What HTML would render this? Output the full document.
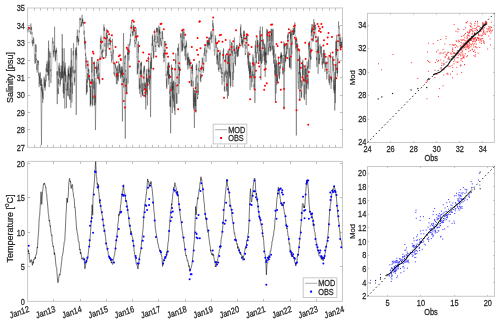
<!DOCTYPE html>
<html><head><meta charset="utf-8"><style>
html,body{margin:0;padding:0;background:#fff;}
svg{display:block;will-change:transform;font-family:"Liberation Sans",sans-serif;fill:#262626;}
text{stroke:#262626;stroke-width:0.25px;}
</style></head><body>
<svg width="500" height="324" viewBox="0 0 500 324">
<rect width="500" height="324" fill="#fff"/>
<rect x="27.60" y="8.00" width="314.90" height="139.40" fill="none" stroke="#c8c8c8" stroke-width="1"/>
<line x1="34.50" y1="147.40" x2="34.50" y2="144.80" stroke="#c0c0c0" stroke-width="1.0"/>
<line x1="34.50" y1="8.00" x2="34.50" y2="10.60" stroke="#c0c0c0" stroke-width="1.0"/>
<line x1="40.50" y1="147.40" x2="40.50" y2="144.80" stroke="#c0c0c0" stroke-width="1.0"/>
<line x1="40.50" y1="8.00" x2="40.50" y2="10.60" stroke="#c0c0c0" stroke-width="1.0"/>
<line x1="47.50" y1="147.40" x2="47.50" y2="144.80" stroke="#c0c0c0" stroke-width="1.0"/>
<line x1="47.50" y1="8.00" x2="47.50" y2="10.60" stroke="#c0c0c0" stroke-width="1.0"/>
<line x1="53.50" y1="147.40" x2="53.50" y2="144.80" stroke="#c0c0c0" stroke-width="1.0"/>
<line x1="53.50" y1="8.00" x2="53.50" y2="10.60" stroke="#c0c0c0" stroke-width="1.0"/>
<line x1="60.50" y1="147.40" x2="60.50" y2="144.80" stroke="#c0c0c0" stroke-width="1.0"/>
<line x1="60.50" y1="8.00" x2="60.50" y2="10.60" stroke="#c0c0c0" stroke-width="1.0"/>
<line x1="66.50" y1="147.40" x2="66.50" y2="144.80" stroke="#c0c0c0" stroke-width="1.0"/>
<line x1="66.50" y1="8.00" x2="66.50" y2="10.60" stroke="#c0c0c0" stroke-width="1.0"/>
<line x1="73.50" y1="147.40" x2="73.50" y2="144.80" stroke="#c0c0c0" stroke-width="1.0"/>
<line x1="73.50" y1="8.00" x2="73.50" y2="10.60" stroke="#c0c0c0" stroke-width="1.0"/>
<line x1="80.50" y1="147.40" x2="80.50" y2="144.80" stroke="#c0c0c0" stroke-width="1.0"/>
<line x1="80.50" y1="8.00" x2="80.50" y2="10.60" stroke="#c0c0c0" stroke-width="1.0"/>
<line x1="86.50" y1="147.40" x2="86.50" y2="144.80" stroke="#c0c0c0" stroke-width="1.0"/>
<line x1="86.50" y1="8.00" x2="86.50" y2="10.60" stroke="#c0c0c0" stroke-width="1.0"/>
<line x1="93.50" y1="147.40" x2="93.50" y2="144.80" stroke="#c0c0c0" stroke-width="1.0"/>
<line x1="93.50" y1="8.00" x2="93.50" y2="10.60" stroke="#c0c0c0" stroke-width="1.0"/>
<line x1="99.50" y1="147.40" x2="99.50" y2="144.80" stroke="#c0c0c0" stroke-width="1.0"/>
<line x1="99.50" y1="8.00" x2="99.50" y2="10.60" stroke="#c0c0c0" stroke-width="1.0"/>
<line x1="106.50" y1="147.40" x2="106.50" y2="144.80" stroke="#c0c0c0" stroke-width="1.0"/>
<line x1="106.50" y1="8.00" x2="106.50" y2="10.60" stroke="#c0c0c0" stroke-width="1.0"/>
<line x1="112.50" y1="147.40" x2="112.50" y2="144.80" stroke="#c0c0c0" stroke-width="1.0"/>
<line x1="112.50" y1="8.00" x2="112.50" y2="10.60" stroke="#c0c0c0" stroke-width="1.0"/>
<line x1="119.50" y1="147.40" x2="119.50" y2="144.80" stroke="#c0c0c0" stroke-width="1.0"/>
<line x1="119.50" y1="8.00" x2="119.50" y2="10.60" stroke="#c0c0c0" stroke-width="1.0"/>
<line x1="126.50" y1="147.40" x2="126.50" y2="144.80" stroke="#c0c0c0" stroke-width="1.0"/>
<line x1="126.50" y1="8.00" x2="126.50" y2="10.60" stroke="#c0c0c0" stroke-width="1.0"/>
<line x1="132.50" y1="147.40" x2="132.50" y2="144.80" stroke="#c0c0c0" stroke-width="1.0"/>
<line x1="132.50" y1="8.00" x2="132.50" y2="10.60" stroke="#c0c0c0" stroke-width="1.0"/>
<line x1="139.50" y1="147.40" x2="139.50" y2="144.80" stroke="#c0c0c0" stroke-width="1.0"/>
<line x1="139.50" y1="8.00" x2="139.50" y2="10.60" stroke="#c0c0c0" stroke-width="1.0"/>
<line x1="145.50" y1="147.40" x2="145.50" y2="144.80" stroke="#c0c0c0" stroke-width="1.0"/>
<line x1="145.50" y1="8.00" x2="145.50" y2="10.60" stroke="#c0c0c0" stroke-width="1.0"/>
<line x1="152.50" y1="147.40" x2="152.50" y2="144.80" stroke="#c0c0c0" stroke-width="1.0"/>
<line x1="152.50" y1="8.00" x2="152.50" y2="10.60" stroke="#c0c0c0" stroke-width="1.0"/>
<line x1="158.50" y1="147.40" x2="158.50" y2="144.80" stroke="#c0c0c0" stroke-width="1.0"/>
<line x1="158.50" y1="8.00" x2="158.50" y2="10.60" stroke="#c0c0c0" stroke-width="1.0"/>
<line x1="165.50" y1="147.40" x2="165.50" y2="144.80" stroke="#c0c0c0" stroke-width="1.0"/>
<line x1="165.50" y1="8.00" x2="165.50" y2="10.60" stroke="#c0c0c0" stroke-width="1.0"/>
<line x1="171.50" y1="147.40" x2="171.50" y2="144.80" stroke="#c0c0c0" stroke-width="1.0"/>
<line x1="171.50" y1="8.00" x2="171.50" y2="10.60" stroke="#c0c0c0" stroke-width="1.0"/>
<line x1="178.50" y1="147.40" x2="178.50" y2="144.80" stroke="#c0c0c0" stroke-width="1.0"/>
<line x1="178.50" y1="8.00" x2="178.50" y2="10.60" stroke="#c0c0c0" stroke-width="1.0"/>
<line x1="185.50" y1="147.40" x2="185.50" y2="144.80" stroke="#c0c0c0" stroke-width="1.0"/>
<line x1="185.50" y1="8.00" x2="185.50" y2="10.60" stroke="#c0c0c0" stroke-width="1.0"/>
<line x1="191.50" y1="147.40" x2="191.50" y2="144.80" stroke="#c0c0c0" stroke-width="1.0"/>
<line x1="191.50" y1="8.00" x2="191.50" y2="10.60" stroke="#c0c0c0" stroke-width="1.0"/>
<line x1="198.50" y1="147.40" x2="198.50" y2="144.80" stroke="#c0c0c0" stroke-width="1.0"/>
<line x1="198.50" y1="8.00" x2="198.50" y2="10.60" stroke="#c0c0c0" stroke-width="1.0"/>
<line x1="204.50" y1="147.40" x2="204.50" y2="144.80" stroke="#c0c0c0" stroke-width="1.0"/>
<line x1="204.50" y1="8.00" x2="204.50" y2="10.60" stroke="#c0c0c0" stroke-width="1.0"/>
<line x1="211.50" y1="147.40" x2="211.50" y2="144.80" stroke="#c0c0c0" stroke-width="1.0"/>
<line x1="211.50" y1="8.00" x2="211.50" y2="10.60" stroke="#c0c0c0" stroke-width="1.0"/>
<line x1="217.50" y1="147.40" x2="217.50" y2="144.80" stroke="#c0c0c0" stroke-width="1.0"/>
<line x1="217.50" y1="8.00" x2="217.50" y2="10.60" stroke="#c0c0c0" stroke-width="1.0"/>
<line x1="224.50" y1="147.40" x2="224.50" y2="144.80" stroke="#c0c0c0" stroke-width="1.0"/>
<line x1="224.50" y1="8.00" x2="224.50" y2="10.60" stroke="#c0c0c0" stroke-width="1.0"/>
<line x1="230.50" y1="147.40" x2="230.50" y2="144.80" stroke="#c0c0c0" stroke-width="1.0"/>
<line x1="230.50" y1="8.00" x2="230.50" y2="10.60" stroke="#c0c0c0" stroke-width="1.0"/>
<line x1="237.50" y1="147.40" x2="237.50" y2="144.80" stroke="#c0c0c0" stroke-width="1.0"/>
<line x1="237.50" y1="8.00" x2="237.50" y2="10.60" stroke="#c0c0c0" stroke-width="1.0"/>
<line x1="244.50" y1="147.40" x2="244.50" y2="144.80" stroke="#c0c0c0" stroke-width="1.0"/>
<line x1="244.50" y1="8.00" x2="244.50" y2="10.60" stroke="#c0c0c0" stroke-width="1.0"/>
<line x1="250.50" y1="147.40" x2="250.50" y2="144.80" stroke="#c0c0c0" stroke-width="1.0"/>
<line x1="250.50" y1="8.00" x2="250.50" y2="10.60" stroke="#c0c0c0" stroke-width="1.0"/>
<line x1="257.50" y1="147.40" x2="257.50" y2="144.80" stroke="#c0c0c0" stroke-width="1.0"/>
<line x1="257.50" y1="8.00" x2="257.50" y2="10.60" stroke="#c0c0c0" stroke-width="1.0"/>
<line x1="263.50" y1="147.40" x2="263.50" y2="144.80" stroke="#c0c0c0" stroke-width="1.0"/>
<line x1="263.50" y1="8.00" x2="263.50" y2="10.60" stroke="#c0c0c0" stroke-width="1.0"/>
<line x1="270.50" y1="147.40" x2="270.50" y2="144.80" stroke="#c0c0c0" stroke-width="1.0"/>
<line x1="270.50" y1="8.00" x2="270.50" y2="10.60" stroke="#c0c0c0" stroke-width="1.0"/>
<line x1="276.50" y1="147.40" x2="276.50" y2="144.80" stroke="#c0c0c0" stroke-width="1.0"/>
<line x1="276.50" y1="8.00" x2="276.50" y2="10.60" stroke="#c0c0c0" stroke-width="1.0"/>
<line x1="283.50" y1="147.40" x2="283.50" y2="144.80" stroke="#c0c0c0" stroke-width="1.0"/>
<line x1="283.50" y1="8.00" x2="283.50" y2="10.60" stroke="#c0c0c0" stroke-width="1.0"/>
<line x1="290.50" y1="147.40" x2="290.50" y2="144.80" stroke="#c0c0c0" stroke-width="1.0"/>
<line x1="290.50" y1="8.00" x2="290.50" y2="10.60" stroke="#c0c0c0" stroke-width="1.0"/>
<line x1="296.50" y1="147.40" x2="296.50" y2="144.80" stroke="#c0c0c0" stroke-width="1.0"/>
<line x1="296.50" y1="8.00" x2="296.50" y2="10.60" stroke="#c0c0c0" stroke-width="1.0"/>
<line x1="303.50" y1="147.40" x2="303.50" y2="144.80" stroke="#c0c0c0" stroke-width="1.0"/>
<line x1="303.50" y1="8.00" x2="303.50" y2="10.60" stroke="#c0c0c0" stroke-width="1.0"/>
<line x1="309.50" y1="147.40" x2="309.50" y2="144.80" stroke="#c0c0c0" stroke-width="1.0"/>
<line x1="309.50" y1="8.00" x2="309.50" y2="10.60" stroke="#c0c0c0" stroke-width="1.0"/>
<line x1="316.50" y1="147.40" x2="316.50" y2="144.80" stroke="#c0c0c0" stroke-width="1.0"/>
<line x1="316.50" y1="8.00" x2="316.50" y2="10.60" stroke="#c0c0c0" stroke-width="1.0"/>
<line x1="322.50" y1="147.40" x2="322.50" y2="144.80" stroke="#c0c0c0" stroke-width="1.0"/>
<line x1="322.50" y1="8.00" x2="322.50" y2="10.60" stroke="#c0c0c0" stroke-width="1.0"/>
<line x1="329.50" y1="147.40" x2="329.50" y2="144.80" stroke="#c0c0c0" stroke-width="1.0"/>
<line x1="329.50" y1="8.00" x2="329.50" y2="10.60" stroke="#c0c0c0" stroke-width="1.0"/>
<line x1="335.50" y1="147.40" x2="335.50" y2="144.80" stroke="#c0c0c0" stroke-width="1.0"/>
<line x1="335.50" y1="8.00" x2="335.50" y2="10.60" stroke="#c0c0c0" stroke-width="1.0"/>
<line x1="27.60" y1="129.50" x2="30.20" y2="129.50" stroke="#c0c0c0" stroke-width="1.0"/>
<line x1="342.50" y1="129.50" x2="339.90" y2="129.50" stroke="#c0c0c0" stroke-width="1.0"/>
<line x1="27.60" y1="112.50" x2="30.20" y2="112.50" stroke="#c0c0c0" stroke-width="1.0"/>
<line x1="342.50" y1="112.50" x2="339.90" y2="112.50" stroke="#c0c0c0" stroke-width="1.0"/>
<line x1="27.60" y1="95.50" x2="30.20" y2="95.50" stroke="#c0c0c0" stroke-width="1.0"/>
<line x1="342.50" y1="95.50" x2="339.90" y2="95.50" stroke="#c0c0c0" stroke-width="1.0"/>
<line x1="27.60" y1="77.50" x2="30.20" y2="77.50" stroke="#c0c0c0" stroke-width="1.0"/>
<line x1="342.50" y1="77.50" x2="339.90" y2="77.50" stroke="#c0c0c0" stroke-width="1.0"/>
<line x1="27.60" y1="60.50" x2="30.20" y2="60.50" stroke="#c0c0c0" stroke-width="1.0"/>
<line x1="342.50" y1="60.50" x2="339.90" y2="60.50" stroke="#c0c0c0" stroke-width="1.0"/>
<line x1="27.60" y1="42.50" x2="30.20" y2="42.50" stroke="#c0c0c0" stroke-width="1.0"/>
<line x1="342.50" y1="42.50" x2="339.90" y2="42.50" stroke="#c0c0c0" stroke-width="1.0"/>
<line x1="27.60" y1="25.50" x2="30.20" y2="25.50" stroke="#c0c0c0" stroke-width="1.0"/>
<line x1="342.50" y1="25.50" x2="339.90" y2="25.50" stroke="#c0c0c0" stroke-width="1.0"/>
<text transform="translate(24.90,147.90) scale(0.82,1)" text-anchor="end" dominant-baseline="central" font-size="9.0">27</text>
<text transform="translate(24.90,130.47) scale(0.82,1)" text-anchor="end" dominant-baseline="central" font-size="9.0">28</text>
<text transform="translate(24.90,113.05) scale(0.82,1)" text-anchor="end" dominant-baseline="central" font-size="9.0">29</text>
<text transform="translate(24.90,95.62) scale(0.82,1)" text-anchor="end" dominant-baseline="central" font-size="9.0">30</text>
<text transform="translate(24.90,78.20) scale(0.82,1)" text-anchor="end" dominant-baseline="central" font-size="9.0">31</text>
<text transform="translate(24.90,60.78) scale(0.82,1)" text-anchor="end" dominant-baseline="central" font-size="9.0">32</text>
<text transform="translate(24.90,43.35) scale(0.82,1)" text-anchor="end" dominant-baseline="central" font-size="9.0">33</text>
<text transform="translate(24.90,25.92) scale(0.82,1)" text-anchor="end" dominant-baseline="central" font-size="9.0">34</text>
<text transform="translate(24.90,8.50) scale(0.82,1)" text-anchor="end" dominant-baseline="central" font-size="9.0">35</text>
<text transform="translate(10.20,77.60) scale(1.0,1) rotate(-90)" text-anchor="middle" dominant-baseline="central" font-size="9.0">Salinity [psu]</text>
<rect x="27.60" y="161.40" width="314.90" height="140.00" fill="none" stroke="#c8c8c8" stroke-width="1"/>
<line x1="53.50" y1="301.40" x2="53.50" y2="298.80" stroke="#c0c0c0" stroke-width="1.0"/>
<line x1="53.50" y1="161.40" x2="53.50" y2="164.00" stroke="#c0c0c0" stroke-width="1.0"/>
<line x1="80.50" y1="301.40" x2="80.50" y2="298.80" stroke="#c0c0c0" stroke-width="1.0"/>
<line x1="80.50" y1="161.40" x2="80.50" y2="164.00" stroke="#c0c0c0" stroke-width="1.0"/>
<line x1="106.50" y1="301.40" x2="106.50" y2="298.80" stroke="#c0c0c0" stroke-width="1.0"/>
<line x1="106.50" y1="161.40" x2="106.50" y2="164.00" stroke="#c0c0c0" stroke-width="1.0"/>
<line x1="132.50" y1="301.40" x2="132.50" y2="298.80" stroke="#c0c0c0" stroke-width="1.0"/>
<line x1="132.50" y1="161.40" x2="132.50" y2="164.00" stroke="#c0c0c0" stroke-width="1.0"/>
<line x1="158.50" y1="301.40" x2="158.50" y2="298.80" stroke="#c0c0c0" stroke-width="1.0"/>
<line x1="158.50" y1="161.40" x2="158.50" y2="164.00" stroke="#c0c0c0" stroke-width="1.0"/>
<line x1="185.50" y1="301.40" x2="185.50" y2="298.80" stroke="#c0c0c0" stroke-width="1.0"/>
<line x1="185.50" y1="161.40" x2="185.50" y2="164.00" stroke="#c0c0c0" stroke-width="1.0"/>
<line x1="211.50" y1="301.40" x2="211.50" y2="298.80" stroke="#c0c0c0" stroke-width="1.0"/>
<line x1="211.50" y1="161.40" x2="211.50" y2="164.00" stroke="#c0c0c0" stroke-width="1.0"/>
<line x1="237.50" y1="301.40" x2="237.50" y2="298.80" stroke="#c0c0c0" stroke-width="1.0"/>
<line x1="237.50" y1="161.40" x2="237.50" y2="164.00" stroke="#c0c0c0" stroke-width="1.0"/>
<line x1="263.50" y1="301.40" x2="263.50" y2="298.80" stroke="#c0c0c0" stroke-width="1.0"/>
<line x1="263.50" y1="161.40" x2="263.50" y2="164.00" stroke="#c0c0c0" stroke-width="1.0"/>
<line x1="290.50" y1="301.40" x2="290.50" y2="298.80" stroke="#c0c0c0" stroke-width="1.0"/>
<line x1="290.50" y1="161.40" x2="290.50" y2="164.00" stroke="#c0c0c0" stroke-width="1.0"/>
<line x1="316.50" y1="301.40" x2="316.50" y2="298.80" stroke="#c0c0c0" stroke-width="1.0"/>
<line x1="316.50" y1="161.40" x2="316.50" y2="164.00" stroke="#c0c0c0" stroke-width="1.0"/>
<line x1="27.60" y1="266.50" x2="30.20" y2="266.50" stroke="#c0c0c0" stroke-width="1.0"/>
<line x1="342.50" y1="266.50" x2="339.90" y2="266.50" stroke="#c0c0c0" stroke-width="1.0"/>
<line x1="27.60" y1="232.50" x2="30.20" y2="232.50" stroke="#c0c0c0" stroke-width="1.0"/>
<line x1="342.50" y1="232.50" x2="339.90" y2="232.50" stroke="#c0c0c0" stroke-width="1.0"/>
<line x1="27.60" y1="197.50" x2="30.20" y2="197.50" stroke="#c0c0c0" stroke-width="1.0"/>
<line x1="342.50" y1="197.50" x2="339.90" y2="197.50" stroke="#c0c0c0" stroke-width="1.0"/>
<line x1="27.60" y1="163.50" x2="30.20" y2="163.50" stroke="#c0c0c0" stroke-width="1.0"/>
<line x1="342.50" y1="163.50" x2="339.90" y2="163.50" stroke="#c0c0c0" stroke-width="1.0"/>
<text transform="translate(24.90,301.90) scale(0.82,1)" text-anchor="end" dominant-baseline="central" font-size="9.0">0</text>
<text transform="translate(24.90,267.40) scale(0.82,1)" text-anchor="end" dominant-baseline="central" font-size="9.0">5</text>
<text transform="translate(24.90,232.90) scale(0.82,1)" text-anchor="end" dominant-baseline="central" font-size="9.0">10</text>
<text transform="translate(24.90,198.40) scale(0.82,1)" text-anchor="end" dominant-baseline="central" font-size="9.0">15</text>
<text transform="translate(24.90,163.90) scale(0.82,1)" text-anchor="end" dominant-baseline="central" font-size="9.0">20</text>
<text transform="translate(9.80,228.50) scale(1.0,1) rotate(-90)" text-anchor="middle" dominant-baseline="central" font-size="9.0">Temperature [<tspan font-size="6.3" dy="-3.6">o</tspan><tspan dy="3.6">C]</tspan></text>
<text transform="translate(29.10,309.00) scale(0.82,1) rotate(-16.5)" text-anchor="end" dominant-baseline="central" font-size="9.0" dominant-baseline="hanging">Jan12</text>
<text transform="translate(55.34,309.00) scale(0.82,1) rotate(-16.5)" text-anchor="end" dominant-baseline="central" font-size="9.0" dominant-baseline="hanging">Jan13</text>
<text transform="translate(81.58,309.00) scale(0.82,1) rotate(-16.5)" text-anchor="end" dominant-baseline="central" font-size="9.0" dominant-baseline="hanging">Jan14</text>
<text transform="translate(107.82,309.00) scale(0.82,1) rotate(-16.5)" text-anchor="end" dominant-baseline="central" font-size="9.0" dominant-baseline="hanging">Jan15</text>
<text transform="translate(134.07,309.00) scale(0.82,1) rotate(-16.5)" text-anchor="end" dominant-baseline="central" font-size="9.0" dominant-baseline="hanging">Jan16</text>
<text transform="translate(160.31,309.00) scale(0.82,1) rotate(-16.5)" text-anchor="end" dominant-baseline="central" font-size="9.0" dominant-baseline="hanging">Jan17</text>
<text transform="translate(186.55,309.00) scale(0.82,1) rotate(-16.5)" text-anchor="end" dominant-baseline="central" font-size="9.0" dominant-baseline="hanging">Jan18</text>
<text transform="translate(212.79,309.00) scale(0.82,1) rotate(-16.5)" text-anchor="end" dominant-baseline="central" font-size="9.0" dominant-baseline="hanging">Jan19</text>
<text transform="translate(239.03,309.00) scale(0.82,1) rotate(-16.5)" text-anchor="end" dominant-baseline="central" font-size="9.0" dominant-baseline="hanging">Jan20</text>
<text transform="translate(265.27,309.00) scale(0.82,1) rotate(-16.5)" text-anchor="end" dominant-baseline="central" font-size="9.0" dominant-baseline="hanging">Jan21</text>
<text transform="translate(291.52,309.00) scale(0.82,1) rotate(-16.5)" text-anchor="end" dominant-baseline="central" font-size="9.0" dominant-baseline="hanging">Jan22</text>
<text transform="translate(317.76,309.00) scale(0.82,1) rotate(-16.5)" text-anchor="end" dominant-baseline="central" font-size="9.0" dominant-baseline="hanging">Jan23</text>
<text transform="translate(344.00,309.00) scale(0.82,1) rotate(-16.5)" text-anchor="end" dominant-baseline="central" font-size="9.0" dominant-baseline="hanging">Jan24</text>
<rect x="367.50" y="13.30" width="126.90" height="129.20" fill="none" stroke="#c8c8c8" stroke-width="1"/>
<line x1="390.50" y1="142.50" x2="390.50" y2="141.10" stroke="#c0c0c0" stroke-width="1.0"/>
<line x1="390.50" y1="13.30" x2="390.50" y2="14.70" stroke="#c0c0c0" stroke-width="1.0"/>
<line x1="413.50" y1="142.50" x2="413.50" y2="141.10" stroke="#c0c0c0" stroke-width="1.0"/>
<line x1="413.50" y1="13.30" x2="413.50" y2="14.70" stroke="#c0c0c0" stroke-width="1.0"/>
<line x1="436.50" y1="142.50" x2="436.50" y2="141.10" stroke="#c0c0c0" stroke-width="1.0"/>
<line x1="436.50" y1="13.30" x2="436.50" y2="14.70" stroke="#c0c0c0" stroke-width="1.0"/>
<line x1="459.50" y1="142.50" x2="459.50" y2="141.10" stroke="#c0c0c0" stroke-width="1.0"/>
<line x1="459.50" y1="13.30" x2="459.50" y2="14.70" stroke="#c0c0c0" stroke-width="1.0"/>
<line x1="482.50" y1="142.50" x2="482.50" y2="141.10" stroke="#c0c0c0" stroke-width="1.0"/>
<line x1="482.50" y1="13.30" x2="482.50" y2="14.70" stroke="#c0c0c0" stroke-width="1.0"/>
<line x1="367.50" y1="119.50" x2="368.90" y2="119.50" stroke="#c0c0c0" stroke-width="1.0"/>
<line x1="494.40" y1="119.50" x2="493.00" y2="119.50" stroke="#c0c0c0" stroke-width="1.0"/>
<line x1="367.50" y1="95.50" x2="368.90" y2="95.50" stroke="#c0c0c0" stroke-width="1.0"/>
<line x1="494.40" y1="95.50" x2="493.00" y2="95.50" stroke="#c0c0c0" stroke-width="1.0"/>
<line x1="367.50" y1="72.50" x2="368.90" y2="72.50" stroke="#c0c0c0" stroke-width="1.0"/>
<line x1="494.40" y1="72.50" x2="493.00" y2="72.50" stroke="#c0c0c0" stroke-width="1.0"/>
<line x1="367.50" y1="48.50" x2="368.90" y2="48.50" stroke="#c0c0c0" stroke-width="1.0"/>
<line x1="494.40" y1="48.50" x2="493.00" y2="48.50" stroke="#c0c0c0" stroke-width="1.0"/>
<line x1="367.50" y1="25.50" x2="368.90" y2="25.50" stroke="#c0c0c0" stroke-width="1.0"/>
<line x1="494.40" y1="25.50" x2="493.00" y2="25.50" stroke="#c0c0c0" stroke-width="1.0"/>
<text transform="translate(367.50,149.40) scale(0.82,1)" text-anchor="middle" dominant-baseline="central" font-size="9.0">24</text>
<text transform="translate(366.40,142.70) scale(0.82,1)" text-anchor="end" dominant-baseline="central" font-size="9.0">24</text>
<text transform="translate(390.57,149.40) scale(0.82,1)" text-anchor="middle" dominant-baseline="central" font-size="9.0">26</text>
<text transform="translate(366.40,119.21) scale(0.82,1)" text-anchor="end" dominant-baseline="central" font-size="9.0">26</text>
<text transform="translate(413.65,149.40) scale(0.82,1)" text-anchor="middle" dominant-baseline="central" font-size="9.0">28</text>
<text transform="translate(366.40,95.72) scale(0.82,1)" text-anchor="end" dominant-baseline="central" font-size="9.0">28</text>
<text transform="translate(436.72,149.40) scale(0.82,1)" text-anchor="middle" dominant-baseline="central" font-size="9.0">30</text>
<text transform="translate(366.40,72.23) scale(0.82,1)" text-anchor="end" dominant-baseline="central" font-size="9.0">30</text>
<text transform="translate(459.79,149.40) scale(0.82,1)" text-anchor="middle" dominant-baseline="central" font-size="9.0">32</text>
<text transform="translate(366.40,48.74) scale(0.82,1)" text-anchor="end" dominant-baseline="central" font-size="9.0">32</text>
<text transform="translate(482.86,149.40) scale(0.82,1)" text-anchor="middle" dominant-baseline="central" font-size="9.0">34</text>
<text transform="translate(366.40,25.25) scale(0.82,1)" text-anchor="end" dominant-baseline="central" font-size="9.0">34</text>
<text transform="translate(431.20,158.10) scale(0.82,1)" text-anchor="middle" dominant-baseline="central" font-size="9.0">Obs</text>
<text transform="translate(352.30,77.70) scale(0.85,0.84) rotate(-90)" text-anchor="middle" dominant-baseline="central" font-size="9.0">Mod</text>
<line x1="367.5" y1="142.5" x2="494.4" y2="13.3" stroke="#000" stroke-width="0.9" stroke-dasharray="1.4,2.6"/>
<rect x="367.50" y="166.50" width="127.00" height="129.80" fill="none" stroke="#c8c8c8" stroke-width="1"/>
<line x1="387.50" y1="296.30" x2="387.50" y2="294.90" stroke="#c0c0c0" stroke-width="1.0"/>
<line x1="387.50" y1="166.50" x2="387.50" y2="167.90" stroke="#c0c0c0" stroke-width="1.0"/>
<line x1="420.50" y1="296.30" x2="420.50" y2="294.90" stroke="#c0c0c0" stroke-width="1.0"/>
<line x1="420.50" y1="166.50" x2="420.50" y2="167.90" stroke="#c0c0c0" stroke-width="1.0"/>
<line x1="454.50" y1="296.30" x2="454.50" y2="294.90" stroke="#c0c0c0" stroke-width="1.0"/>
<line x1="454.50" y1="166.50" x2="454.50" y2="167.90" stroke="#c0c0c0" stroke-width="1.0"/>
<line x1="487.50" y1="296.30" x2="487.50" y2="294.90" stroke="#c0c0c0" stroke-width="1.0"/>
<line x1="487.50" y1="166.50" x2="487.50" y2="167.90" stroke="#c0c0c0" stroke-width="1.0"/>
<line x1="367.50" y1="282.50" x2="368.90" y2="282.50" stroke="#c0c0c0" stroke-width="1.0"/>
<line x1="494.50" y1="282.50" x2="493.10" y2="282.50" stroke="#c0c0c0" stroke-width="1.0"/>
<line x1="367.50" y1="268.50" x2="368.90" y2="268.50" stroke="#c0c0c0" stroke-width="1.0"/>
<line x1="494.50" y1="268.50" x2="493.10" y2="268.50" stroke="#c0c0c0" stroke-width="1.0"/>
<line x1="367.50" y1="255.50" x2="368.90" y2="255.50" stroke="#c0c0c0" stroke-width="1.0"/>
<line x1="494.50" y1="255.50" x2="493.10" y2="255.50" stroke="#c0c0c0" stroke-width="1.0"/>
<line x1="367.50" y1="241.50" x2="368.90" y2="241.50" stroke="#c0c0c0" stroke-width="1.0"/>
<line x1="494.50" y1="241.50" x2="493.10" y2="241.50" stroke="#c0c0c0" stroke-width="1.0"/>
<line x1="367.50" y1="227.50" x2="368.90" y2="227.50" stroke="#c0c0c0" stroke-width="1.0"/>
<line x1="494.50" y1="227.50" x2="493.10" y2="227.50" stroke="#c0c0c0" stroke-width="1.0"/>
<line x1="367.50" y1="214.50" x2="368.90" y2="214.50" stroke="#c0c0c0" stroke-width="1.0"/>
<line x1="494.50" y1="214.50" x2="493.10" y2="214.50" stroke="#c0c0c0" stroke-width="1.0"/>
<line x1="367.50" y1="200.50" x2="368.90" y2="200.50" stroke="#c0c0c0" stroke-width="1.0"/>
<line x1="494.50" y1="200.50" x2="493.10" y2="200.50" stroke="#c0c0c0" stroke-width="1.0"/>
<line x1="367.50" y1="186.50" x2="368.90" y2="186.50" stroke="#c0c0c0" stroke-width="1.0"/>
<line x1="494.50" y1="186.50" x2="493.10" y2="186.50" stroke="#c0c0c0" stroke-width="1.0"/>
<line x1="367.50" y1="173.50" x2="368.90" y2="173.50" stroke="#c0c0c0" stroke-width="1.0"/>
<line x1="494.50" y1="173.50" x2="493.10" y2="173.50" stroke="#c0c0c0" stroke-width="1.0"/>
<text transform="translate(387.55,303.40) scale(0.82,1)" text-anchor="middle" dominant-baseline="central" font-size="9.0">5</text>
<text transform="translate(420.97,303.40) scale(0.82,1)" text-anchor="middle" dominant-baseline="central" font-size="9.0">10</text>
<text transform="translate(454.39,303.40) scale(0.82,1)" text-anchor="middle" dominant-baseline="central" font-size="9.0">15</text>
<text transform="translate(487.82,303.40) scale(0.82,1)" text-anchor="middle" dominant-baseline="central" font-size="9.0">20</text>
<text transform="translate(366.30,296.70) scale(0.82,1)" text-anchor="end" dominant-baseline="central" font-size="9.0">2</text>
<text transform="translate(366.30,283.04) scale(0.82,1)" text-anchor="end" dominant-baseline="central" font-size="9.0">4</text>
<text transform="translate(366.30,269.37) scale(0.82,1)" text-anchor="end" dominant-baseline="central" font-size="9.0">6</text>
<text transform="translate(366.30,255.71) scale(0.82,1)" text-anchor="end" dominant-baseline="central" font-size="9.0">8</text>
<text transform="translate(366.30,242.05) scale(0.82,1)" text-anchor="end" dominant-baseline="central" font-size="9.0">10</text>
<text transform="translate(366.30,228.38) scale(0.82,1)" text-anchor="end" dominant-baseline="central" font-size="9.0">12</text>
<text transform="translate(366.30,214.72) scale(0.82,1)" text-anchor="end" dominant-baseline="central" font-size="9.0">14</text>
<text transform="translate(366.30,201.06) scale(0.82,1)" text-anchor="end" dominant-baseline="central" font-size="9.0">16</text>
<text transform="translate(366.30,187.39) scale(0.82,1)" text-anchor="end" dominant-baseline="central" font-size="9.0">18</text>
<text transform="translate(366.30,173.73) scale(0.82,1)" text-anchor="end" dominant-baseline="central" font-size="9.0">20</text>
<text transform="translate(431.00,311.80) scale(0.82,1)" text-anchor="middle" dominant-baseline="central" font-size="9.0">Obs</text>
<text transform="translate(352.40,231.50) scale(0.85,0.84) rotate(-90)" text-anchor="middle" dominant-baseline="central" font-size="9.0">Mod</text>
<line x1="367.5" y1="296.3" x2="494.5" y2="166.5" stroke="#000" stroke-width="0.9" stroke-dasharray="1.4,2.6"/>
<clipPath id="c1"><rect x="27.60" y="8.00" width="314.90" height="139.40"/></clipPath>
<g clip-path="url(#c1)">
<path d="M27.60,31.24 L27.72,28.81 L27.84,29.78 L27.96,32.28 L28.08,28.78 L28.20,29.47 L28.32,29.57 L28.44,29.44 L28.56,28.38 L28.68,27.16 L28.80,28.30 L28.92,27.76 L29.04,27.01 L29.16,27.34 L29.28,27.14 L29.40,28.84 L29.52,27.52 L29.64,29.89 L29.76,30.08 L29.88,32.04 L30.00,31.50 L30.12,31.36 L30.24,31.83 L30.36,33.15 L30.48,33.14 L30.60,32.69 L30.72,34.31 L30.84,23.45 L30.96,29.83 L31.08,27.84 L31.20,29.80 L31.32,27.11 L31.44,26.90 L31.56,26.67 L31.68,31.29 L31.80,31.49 L31.92,34.32 L32.04,32.33 L32.16,43.24 L32.28,41.85 L32.40,39.99 L32.52,45.79 L32.64,45.83 L32.76,46.18 L32.88,42.23 L33.00,43.62 L33.12,42.48 L33.24,37.96 L33.36,37.19 L33.48,38.74 L33.60,43.49 L33.72,38.65 L33.84,40.37 L33.96,44.86 L34.08,46.16 L34.20,46.95 L34.32,50.64 L34.44,56.94 L34.56,58.33 L34.68,58.49 L34.80,59.14 L34.92,62.48 L35.04,63.98 L35.16,56.09 L35.28,53.88 L35.40,62.78 L35.52,52.01 L35.64,44.09 L35.76,46.26 L35.88,51.96 L36.00,44.84 L36.12,45.05 L36.24,52.00 L36.36,57.61 L36.48,60.01 L36.60,58.79 L36.72,63.38 L36.84,70.01 L36.96,64.41 L37.08,67.69 L37.20,72.57 L37.32,66.06 L37.44,60.30 L37.56,61.35 L37.68,61.47 L37.80,62.77 L37.92,60.43 L38.04,60.99 L38.16,65.04 L38.28,63.20 L38.40,60.84 L38.52,68.22 L38.64,75.74 L38.76,72.55 L38.88,73.79 L39.00,77.62 L39.12,87.11 L39.24,81.12 L39.36,75.67 L39.48,77.12 L39.60,84.28 L39.72,80.62 L39.84,73.25 L39.96,79.39 L40.08,78.00 L40.20,75.92 L40.32,72.37 L40.44,85.90 L40.56,80.41 L40.68,79.87 L40.80,80.66 L40.92,86.03 L41.04,79.66 L41.16,77.93 L41.28,83.14 L41.40,90.24 L41.52,85.20 L41.64,79.14 L41.76,87.01 L41.88,92.40 L42.00,86.03 L42.12,84.36 L42.24,90.20 L42.36,96.71 L42.48,92.76 L42.60,88.87 L42.72,102.76 L42.84,97.34 L42.96,91.85 L43.08,96.39 L43.20,99.13 L43.32,93.23 L43.44,88.67 L43.56,88.66 L43.68,88.44 L43.80,86.67 L43.92,82.52 L44.04,76.63 L44.16,85.76 L44.28,84.24 L44.40,79.85 L44.52,78.65 L44.64,88.02 L44.76,82.48 L44.88,83.83 L45.00,88.45 L45.12,90.66 L45.24,83.27 L45.36,80.15 L45.48,86.94 L45.60,81.84 L45.72,78.37 L45.84,74.28 L45.96,74.82 L46.08,81.59 L46.20,67.82 L46.32,72.33 L46.44,64.84 L46.56,63.66 L46.68,67.75 L46.80,67.68 L46.92,70.91 L47.04,71.37 L47.16,60.82 L47.28,67.51 L47.40,71.87 L47.52,71.56 L47.64,69.63 L47.76,69.97 L47.88,75.87 L48.00,67.50 L48.12,63.56 L48.24,70.81 L48.36,74.16 L48.48,74.88 L48.60,48.20 L48.72,80.32 L48.84,71.92 L48.96,72.18 L49.08,60.96 L49.20,87.07 L49.32,67.76 L49.44,58.43 L49.56,55.77 L49.68,54.77 L49.80,51.06 L49.92,57.38 L50.04,52.83 L50.16,54.34 L50.28,56.44 L50.40,56.10 L50.52,71.31 L50.64,69.17 L50.76,78.79 L50.88,83.12 L51.00,78.85 L51.12,78.19 L51.24,75.58 L51.36,76.08 L51.48,70.93 L51.60,70.15 L51.72,66.63 L51.84,59.56 L51.96,56.97 L52.08,48.87 L52.20,44.19 L52.32,41.90 L52.44,38.99 L52.56,38.17 L52.68,37.51 L52.80,41.77 L52.92,42.35 L53.04,43.87 L53.16,41.08 L53.28,46.08 L53.40,53.26 L53.52,54.66 L53.64,50.40 L53.76,57.56 L53.88,55.30 L54.00,55.66 L54.12,47.41 L54.24,45.45 L54.36,52.23 L54.48,42.00 L54.60,26.75 L54.72,41.89 L54.84,48.84 L54.96,49.19 L55.08,49.85 L55.20,57.09 L55.32,61.58 L55.44,54.71 L55.56,51.05 L55.68,60.00 L55.80,59.76 L55.92,49.98 L56.04,52.61 L56.16,53.74 L56.28,49.80 L56.40,47.70 L56.52,52.18 L56.64,50.30 L56.76,55.35 L56.88,55.11 L57.00,58.15 L57.12,64.79 L57.24,75.52 L57.36,71.14 L57.48,83.48 L57.60,88.41 L57.72,91.99 L57.84,92.03 L57.96,93.88 L58.08,88.20 L58.20,89.79 L58.32,94.09 L58.44,78.81 L58.56,84.22 L58.68,67.28 L58.80,65.52 L58.92,73.48 L59.04,75.42 L59.16,70.13 L59.28,62.93 L59.40,68.32 L59.52,77.49 L59.64,68.05 L59.76,74.30 L59.88,78.28 L60.00,86.59 L60.12,80.07 L60.24,80.73 L60.36,84.51 L60.48,81.10 L60.60,71.97 L60.72,76.19 L60.84,80.44 L60.96,75.99 L61.08,65.47 L61.20,79.60 L61.32,78.59 L61.44,77.93 L61.56,72.82 L61.68,69.96 L61.80,71.28 L61.92,77.99 L62.04,65.69 L62.16,76.56 L62.28,78.03 L62.40,70.58 L62.52,61.04 L62.64,48.20 L62.76,78.32 L62.88,72.20 L63.00,61.17 L63.12,92.62 L63.24,91.57 L63.36,71.59 L63.48,81.79 L63.60,98.07 L63.72,98.26 L63.84,83.27 L63.96,94.02 L64.08,92.22 L64.20,48.39 L64.32,64.01 L64.44,74.82 L64.56,70.92 L64.68,68.64 L64.80,108.67 L64.92,66.42 L65.04,76.20 L65.16,63.06 L65.28,62.79 L65.40,73.48 L65.52,82.01 L65.64,71.67 L65.76,78.54 L65.88,88.66 L66.00,90.00 L66.12,89.03 L66.24,89.63 L66.36,93.69 L66.48,108.07 L66.60,85.29 L66.72,85.22 L66.84,84.01 L66.96,75.19 L67.08,76.24 L67.20,79.04 L67.32,90.53 L67.44,85.51 L67.56,83.46 L67.68,82.67 L67.80,95.59 L67.92,81.72 L68.04,67.94 L68.16,82.98 L68.28,96.48 L68.40,69.88 L68.52,76.08 L68.64,73.17 L68.76,76.38 L68.88,68.08 L69.00,65.58 L69.12,69.64 L69.24,79.42 L69.36,73.79 L69.48,78.56 L69.60,83.61 L69.72,99.59 L69.84,93.61 L69.96,99.64 L70.08,88.36 L70.20,92.95 L70.32,67.51 L70.44,80.90 L70.56,87.50 L70.68,67.96 L70.80,107.83 L70.92,66.93 L71.04,77.40 L71.16,62.86 L71.28,61.07 L71.40,60.22 L71.52,83.11 L71.64,85.02 L71.76,84.70 L71.88,102.50 L72.00,98.48 L72.12,82.44 L72.24,92.78 L72.36,92.74 L72.48,93.66 L72.60,77.25 L72.72,66.27 L72.84,72.65 L72.96,63.52 L73.08,57.56 L73.20,51.07 L73.32,55.41 L73.44,44.92 L73.56,43.04 L73.68,46.52 L73.80,60.40 L73.92,73.73 L74.04,70.36 L74.16,75.47 L74.28,85.43 L74.40,79.87 L74.52,77.41 L74.64,82.10 L74.76,81.20 L74.88,72.76 L75.00,69.87 L75.12,70.76 L75.24,72.97 L75.36,60.55 L75.48,49.89 L75.60,53.47 L75.72,55.04 L75.84,47.65 L75.96,52.75 L76.08,59.69 L76.20,59.15 L76.32,49.68 L76.44,47.45 L76.56,55.39 L76.68,48.39 L76.80,42.39 L76.92,35.93 L77.04,42.04 L77.16,42.73 L77.28,30.70 L77.40,29.60 L77.52,37.00 L77.64,39.17 L77.76,36.02 L77.88,36.53 L78.00,41.47 L78.12,40.91 L78.24,38.18 L78.36,45.44 L78.48,43.36 L78.60,40.37 L78.72,39.49 L78.84,41.60 L78.96,38.58 L79.08,30.88 L79.20,30.57 L79.32,32.52 L79.44,25.51 L79.56,19.21 L79.68,19.14 L79.80,19.79 L79.92,17.59 L80.04,18.21 L80.16,18.12 L80.28,19.94 L80.40,20.09 L80.52,18.47 L80.64,22.16 L80.76,26.75 L80.88,27.15 L81.00,24.47 L81.12,25.64 L81.24,25.64 L81.36,25.09 L81.48,22.00 L81.60,24.50 L81.72,26.37 L81.84,22.60 L81.96,20.45 L82.08,14.73 L82.20,22.66 L82.32,20.66 L82.44,19.05 L82.56,21.61 L82.68,23.35 L82.80,18.62 L82.92,20.15 L83.04,21.57 L83.16,24.42 L83.28,22.01 L83.40,22.96 L83.52,25.28 L83.64,25.68 L83.76,25.49 L83.88,25.94 L84.00,33.35 L84.12,34.80 L84.24,30.53 L84.36,39.60 L84.48,44.19 L84.60,36.77 L84.72,37.85 L84.84,44.97 L84.96,49.21 L85.08,48.33 L85.20,40.83 L85.32,50.86 L85.44,56.02 L85.56,53.28 L85.68,53.31 L85.80,61.29 L85.92,68.49 L86.04,56.72 L86.16,70.41 L86.28,77.92 L86.40,94.90 L86.52,79.34 L86.64,79.38 L86.76,87.87 L86.88,93.11 L87.00,84.97 L87.12,91.82 L87.24,89.18 L87.36,80.87 L87.48,73.12 L87.60,83.06 L87.72,78.72 L87.84,68.74 L87.96,60.53 L88.08,64.30 L88.20,71.72 L88.32,68.51 L88.44,69.30 L88.56,78.13 L88.68,79.66 L88.80,70.48 L88.92,69.33 L89.04,72.29 L89.16,80.22 L89.28,78.92 L89.40,75.33 L89.52,87.41 L89.64,78.94 L89.76,81.12 L89.88,80.73 L90.00,89.54 L90.12,90.56 L90.24,106.51 L90.36,86.09 L90.48,94.73 L90.60,105.03 L90.72,88.71 L90.84,92.27 L90.96,104.20 L91.08,85.70 L91.20,87.58 L91.32,79.30 L91.44,82.75 L91.56,65.84 L91.68,65.48 L91.80,56.84 L91.92,72.54 L92.04,57.09 L92.16,61.18 L92.28,68.30 L92.40,106.51 L92.52,78.96 L92.64,86.44 L92.76,99.66 L92.88,105.02 L93.00,100.40 L93.12,95.68 L93.24,99.05 L93.36,92.63 L93.48,88.47 L93.60,80.60 L93.72,88.91 L93.84,73.64 L93.96,62.02 L94.08,66.51 L94.20,76.62 L94.32,61.31 L94.44,63.70 L94.56,105.76 L94.68,85.19 L94.80,77.90 L94.92,80.91 L95.04,99.57 L95.16,104.97 L95.28,100.68 L95.40,96.13 L95.52,103.07 L95.64,102.97 L95.76,93.02 L95.88,88.57 L96.00,85.99 L96.12,83.77 L96.24,71.24 L96.36,66.62 L96.48,73.68 L96.60,72.25 L96.72,61.50 L96.84,64.61 L96.96,68.86 L97.08,72.58 L97.20,66.52 L97.32,70.98 L97.44,75.67 L97.56,76.70 L97.68,78.79 L97.80,74.63 L97.92,76.74 L98.04,70.60 L98.16,60.73 L98.28,69.56 L98.40,69.98 L98.52,63.74 L98.64,66.48 L98.76,76.79 L98.88,80.48 L99.00,72.77 L99.12,79.45 L99.24,84.10 L99.36,84.38 L99.48,79.45 L99.60,79.15 L99.72,83.41 L99.84,78.12 L99.96,56.73 L100.08,56.76 L100.20,59.31 L100.32,44.27 L100.44,49.08 L100.56,39.53 L100.68,39.00 L100.80,38.09 L100.92,42.86 L101.04,35.75 L101.16,41.79 L101.28,43.55 L101.40,40.54 L101.52,48.76 L101.64,52.06 L101.76,54.65 L101.88,51.28 L102.00,59.45 L102.12,55.49 L102.24,57.53 L102.36,55.51 L102.48,55.61 L102.60,50.60 L102.72,52.66 L102.84,48.96 L102.96,49.85 L103.08,51.90 L103.20,40.74 L103.32,38.21 L103.44,35.38 L103.56,35.16 L103.68,26.08 L103.80,25.89 L103.92,24.47 L104.04,30.51 L104.16,28.70 L104.28,29.19 L104.40,30.96 L104.52,27.05 L104.64,27.52 L104.76,39.17 L104.88,46.63 L105.00,43.41 L105.12,49.07 L105.24,51.04 L105.36,50.13 L105.48,55.38 L105.60,57.64 L105.72,57.15 L105.84,58.15 L105.96,48.92 L106.08,43.16 L106.20,42.70 L106.32,32.66 L106.44,55.96 L106.56,29.81 L106.68,29.08 L106.80,28.70 L106.92,30.06 L107.04,31.41 L107.16,32.57 L107.28,38.70 L107.40,35.29 L107.52,45.04 L107.64,45.24 L107.76,45.00 L107.88,45.94 L108.00,47.79 L108.12,47.47 L108.24,46.41 L108.36,43.01 L108.48,44.26 L108.60,44.45 L108.72,42.57 L108.84,39.66 L108.96,40.88 L109.08,41.30 L109.20,38.64 L109.32,39.41 L109.44,40.80 L109.56,41.03 L109.68,38.93 L109.80,44.65 L109.92,44.14 L110.04,45.45 L110.16,37.21 L110.28,44.04 L110.40,43.51 L110.52,42.99 L110.64,41.85 L110.76,47.05 L110.88,52.87 L111.00,52.48 L111.12,51.61 L111.24,55.99 L111.36,55.31 L111.48,60.65 L111.60,60.08 L111.72,59.72 L111.84,62.98 L111.96,58.60 L112.08,53.46 L112.20,59.57 L112.32,47.46 L112.44,38.89 L112.56,40.48 L112.68,45.36 L112.80,45.07 L112.92,46.33 L113.04,49.53 L113.16,49.47 L113.28,53.65 L113.40,49.97 L113.52,60.16 L113.64,66.55 L113.76,67.53 L113.88,69.26 L114.00,74.23 L114.12,72.32 L114.24,74.57 L114.36,74.54 L114.48,76.14 L114.60,75.34 L114.72,69.36 L114.84,63.79 L114.96,65.42 L115.08,64.88 L115.20,63.26 L115.32,63.57 L115.44,68.01 L115.56,68.23 L115.68,65.46 L115.80,68.54 L115.92,74.68 L116.04,77.49 L116.16,76.73 L116.28,73.23 L116.40,84.09 L116.52,72.26 L116.64,67.37 L116.76,67.72 L116.88,70.83 L117.00,68.66 L117.12,68.91 L117.24,84.32 L117.36,71.65 L117.48,66.17 L117.60,65.71 L117.72,68.03 L117.84,79.66 L117.96,73.42 L118.08,71.97 L118.20,81.25 L118.32,80.87 L118.44,77.96 L118.56,75.16 L118.68,76.31 L118.80,61.16 L118.92,71.63 L119.04,72.98 L119.16,72.59 L119.28,69.96 L119.40,67.72 L119.52,63.89 L119.64,71.45 L119.76,68.40 L119.88,64.41 L120.00,69.38 L120.12,73.34 L120.24,71.44 L120.36,70.62 L120.48,74.64 L120.60,78.55 L120.72,72.74 L120.84,67.26 L120.96,77.33 L121.08,75.09 L121.20,71.42 L121.32,70.26 L121.44,70.99 L121.56,75.25 L121.68,65.95 L121.80,66.31 L121.92,67.80 L122.04,75.82 L122.16,67.04 L122.28,70.36 L122.40,76.93 L122.52,70.70 L122.64,69.02 L122.76,73.23 L122.88,77.80 L123.00,77.38 L123.12,76.28 L123.24,79.74 L123.36,81.88 L123.48,82.13 L123.60,80.49 L123.72,82.85 L123.84,87.58 L123.96,79.08 L124.08,82.36 L124.20,77.78 L124.32,80.37 L124.44,70.48 L124.56,62.67 L124.68,63.83 L124.80,59.18 L124.92,56.65 L125.04,58.53 L125.16,55.91 L125.28,57.27 L125.40,56.82 L125.52,55.06 L125.64,72.23 L125.76,69.88 L125.88,74.39 L126.00,85.31 L126.12,88.88 L126.24,89.93 L126.36,93.54 L126.48,78.26 L126.60,82.01 L126.72,84.09 L126.84,94.48 L126.96,89.84 L127.08,80.17 L127.20,65.46 L127.32,58.06 L127.44,52.65 L127.56,53.68 L127.68,49.12 L127.80,54.60 L127.92,53.13 L128.04,83.55 L128.16,46.03 L128.28,44.08 L128.40,47.98 L128.52,49.97 L128.64,54.50 L128.76,49.37 L128.88,56.01 L129.00,60.48 L129.12,53.50 L129.24,52.65 L129.36,50.71 L129.48,44.61 L129.60,42.82 L129.72,43.86 L129.84,45.32 L129.96,45.73 L130.08,40.60 L130.20,38.59 L130.32,42.91 L130.44,38.50 L130.56,33.99 L130.68,36.90 L130.80,32.71 L130.92,32.80 L131.04,29.15 L131.16,24.95 L131.28,27.50 L131.40,23.94 L131.52,22.41 L131.64,23.19 L131.76,20.14 L131.88,23.74 L132.00,24.00 L132.12,26.23 L132.24,33.23 L132.36,32.11 L132.48,31.26 L132.60,36.15 L132.72,35.03 L132.84,31.79 L132.96,33.71 L133.08,35.32 L133.20,34.52 L133.32,28.35 L133.44,25.99 L133.56,31.90 L133.68,26.15 L133.80,24.83 L133.92,30.23 L134.04,28.28 L134.16,28.28 L134.28,31.06 L134.40,34.98 L134.52,41.55 L134.64,40.26 L134.76,46.91 L134.88,47.43 L135.00,46.66 L135.12,45.63 L135.24,44.37 L135.36,42.27 L135.48,43.82 L135.60,39.17 L135.72,31.49 L135.84,37.04 L135.96,34.65 L136.08,27.86 L136.20,38.14 L136.32,40.50 L136.44,40.93 L136.56,35.79 L136.68,45.93 L136.80,55.39 L136.92,57.40 L137.04,56.59 L137.16,73.04 L137.28,74.44 L137.40,71.85 L137.52,63.23 L137.64,73.77 L137.76,59.11 L137.88,44.57 L138.00,43.96 L138.12,50.58 L138.24,52.74 L138.36,41.18 L138.48,48.69 L138.60,68.50 L138.72,68.36 L138.84,63.34 L138.96,76.80 L139.08,84.78 L139.20,89.14 L139.32,87.11 L139.44,78.21 L139.56,83.68 L139.68,93.79 L139.80,85.84 L139.92,84.48 L140.04,88.03 L140.16,71.54 L140.28,73.90 L140.40,69.45 L140.52,70.83 L140.64,74.82 L140.76,63.47 L140.88,62.93 L141.00,97.51 L141.12,62.27 L141.24,66.02 L141.36,61.64 L141.48,74.08 L141.60,70.37 L141.72,73.01 L141.84,79.19 L141.96,92.17 L142.08,85.55 L142.20,83.12 L142.32,92.15 L142.44,94.52 L142.56,89.74 L142.68,96.03 L142.80,92.42 L142.92,95.38 L143.04,83.27 L143.16,84.13 L143.28,90.82 L143.40,81.00 L143.52,78.97 L143.64,70.66 L143.76,74.22 L143.88,68.42 L144.00,70.47 L144.12,65.92 L144.24,71.96 L144.36,65.61 L144.48,67.15 L144.60,74.18 L144.72,89.09 L144.84,82.30 L144.96,86.92 L145.08,83.68 L145.20,97.07 L145.32,89.68 L145.44,93.38 L145.56,97.53 L145.68,92.80 L145.80,84.96 L145.92,86.31 L146.04,91.30 L146.16,79.12 L146.28,75.57 L146.40,69.20 L146.52,82.89 L146.64,73.56 L146.76,77.54 L146.88,92.35 L147.00,90.27 L147.12,95.14 L147.24,77.82 L147.36,89.48 L147.48,105.47 L147.60,89.60 L147.72,84.56 L147.84,78.29 L147.96,85.53 L148.08,69.81 L148.20,71.58 L148.32,68.27 L148.44,81.84 L148.56,56.50 L148.68,61.71 L148.80,60.97 L148.92,70.44 L149.04,72.23 L149.16,70.21 L149.28,75.77 L149.40,84.03 L149.52,79.98 L149.64,80.74 L149.76,89.62 L149.88,75.86 L150.00,80.43 L150.12,77.67 L150.24,69.90 L150.36,78.42 L150.48,61.58 L150.60,68.71 L150.72,62.93 L150.84,62.17 L150.96,53.07 L151.08,69.52 L151.20,68.94 L151.32,59.39 L151.44,57.58 L151.56,68.39 L151.68,60.56 L151.80,55.52 L151.92,43.55 L152.04,44.77 L152.16,45.89 L152.28,35.92 L152.40,36.26 L152.52,45.43 L152.64,39.55 L152.76,34.47 L152.88,42.84 L153.00,50.98 L153.12,50.03 L153.24,48.32 L153.36,45.70 L153.48,58.61 L153.60,52.18 L153.72,51.09 L153.84,57.65 L153.96,50.94 L154.08,51.53 L154.20,39.62 L154.32,41.89 L154.44,41.02 L154.56,37.33 L154.68,29.65 L154.80,30.47 L154.92,40.00 L155.04,35.49 L155.16,39.05 L155.28,46.71 L155.40,45.06 L155.52,46.15 L155.64,47.44 L155.76,52.04 L155.88,51.16 L156.00,45.45 L156.12,41.73 L156.24,43.37 L156.36,40.63 L156.48,28.48 L156.60,29.06 L156.72,27.81 L156.84,29.33 L156.96,31.91 L157.08,27.60 L157.20,32.49 L157.32,28.27 L157.44,31.41 L157.56,37.62 L157.68,42.85 L157.80,36.05 L157.92,44.53 L158.04,45.84 L158.16,45.44 L158.28,46.55 L158.40,45.47 L158.52,47.19 L158.64,46.46 L158.76,25.52 L158.88,32.33 L159.00,34.72 L159.12,34.15 L159.24,28.98 L159.36,47.59 L159.48,30.47 L159.60,32.33 L159.72,26.88 L159.84,27.66 L159.96,31.90 L160.08,33.58 L160.20,32.06 L160.32,31.84 L160.44,41.36 L160.56,38.11 L160.68,38.22 L160.80,45.36 L160.92,44.89 L161.04,41.71 L161.16,41.39 L161.28,43.70 L161.40,46.62 L161.52,43.47 L161.64,41.49 L161.76,40.61 L161.88,39.85 L162.00,36.24 L162.12,31.21 L162.24,39.03 L162.36,32.81 L162.48,31.40 L162.60,32.96 L162.72,35.59 L162.84,38.88 L162.96,38.19 L163.08,45.99 L163.20,50.38 L163.32,55.95 L163.44,52.94 L163.56,57.92 L163.68,55.63 L163.80,62.17 L163.92,62.48 L164.04,61.65 L164.16,60.44 L164.28,61.02 L164.40,49.40 L164.52,57.80 L164.64,52.10 L164.76,40.98 L164.88,46.78 L165.00,41.05 L165.12,42.17 L165.24,47.43 L165.36,49.54 L165.48,50.82 L165.60,49.99 L165.72,52.27 L165.84,59.33 L165.96,75.90 L166.08,74.36 L166.20,74.77 L166.32,81.78 L166.44,82.99 L166.56,87.20 L166.68,78.46 L166.80,88.92 L166.92,86.25 L167.04,77.68 L167.16,76.38 L167.28,71.24 L167.40,75.47 L167.52,69.33 L167.64,65.83 L167.76,73.78 L167.88,67.18 L168.00,62.82 L168.12,66.40 L168.24,72.72 L168.36,84.44 L168.48,66.22 L168.60,63.23 L168.72,78.27 L168.84,61.88 L168.96,66.01 L169.08,78.67 L169.20,74.40 L169.32,78.55 L169.44,74.14 L169.56,78.63 L169.68,93.65 L169.80,90.59 L169.92,98.48 L170.04,106.59 L170.16,100.18 L170.28,106.43 L170.40,96.04 L170.52,107.19 L170.64,106.88 L170.76,102.29 L170.88,81.88 L171.00,86.20 L171.12,89.05 L171.24,76.23 L171.36,66.14 L171.48,64.61 L171.60,68.19 L171.72,72.60 L171.84,67.24 L171.96,70.53 L172.08,88.73 L172.20,72.33 L172.32,112.99 L172.44,86.00 L172.56,98.70 L172.68,83.11 L172.80,85.40 L172.92,89.76 L173.04,83.00 L173.16,81.08 L173.28,84.69 L173.40,101.39 L173.52,83.30 L173.64,80.60 L173.76,97.71 L173.88,107.09 L174.00,94.56 L174.12,102.91 L174.24,107.82 L174.36,106.62 L174.48,110.58 L174.60,98.65 L174.72,95.49 L174.84,92.80 L174.96,82.38 L175.08,68.75 L175.20,70.41 L175.32,68.31 L175.44,59.86 L175.56,60.54 L175.68,63.85 L175.80,53.30 L175.92,55.88 L176.04,56.90 L176.16,77.91 L176.28,86.59 L176.40,85.17 L176.52,103.81 L176.64,93.05 L176.76,98.82 L176.88,99.35 L177.00,103.20 L177.12,103.50 L177.24,97.13 L177.36,82.12 L177.48,75.39 L177.60,64.64 L177.72,48.17 L177.84,50.89 L177.96,47.66 L178.08,55.97 L178.20,53.71 L178.32,50.94 L178.44,43.67 L178.56,70.00 L178.68,65.33 L178.80,93.84 L178.92,80.26 L179.04,74.13 L179.16,83.91 L179.28,79.32 L179.40,67.16 L179.52,72.09 L179.64,75.41 L179.76,67.25 L179.88,70.92 L180.00,52.28 L180.12,50.76 L180.24,44.34 L180.36,40.29 L180.48,35.51 L180.60,37.00 L180.72,33.82 L180.84,32.93 L180.96,36.70 L181.08,35.47 L181.20,33.71 L181.32,38.24 L181.44,37.28 L181.56,40.17 L181.68,45.33 L181.80,51.62 L181.92,40.23 L182.04,48.07 L182.16,47.95 L182.28,51.20 L182.40,50.50 L182.52,28.76 L182.64,50.21 L182.76,50.24 L182.88,46.62 L183.00,43.28 L183.12,47.50 L183.24,43.56 L183.36,31.22 L183.48,31.12 L183.60,31.67 L183.72,33.78 L183.84,39.10 L183.96,32.77 L184.08,31.99 L184.20,31.55 L184.32,36.07 L184.44,44.37 L184.56,48.57 L184.68,46.33 L184.80,50.65 L184.92,56.21 L185.04,54.96 L185.16,53.00 L185.28,46.49 L185.40,60.34 L185.52,53.85 L185.64,45.99 L185.76,45.29 L185.88,47.80 L186.00,43.42 L186.12,42.52 L186.24,40.39 L186.36,47.14 L186.48,42.70 L186.60,43.09 L186.72,52.22 L186.84,59.11 L186.96,59.59 L187.08,53.73 L187.20,65.14 L187.32,65.42 L187.44,62.45 L187.56,57.63 L187.68,65.34 L187.80,69.56 L187.92,59.61 L188.04,52.60 L188.16,61.08 L188.28,64.87 L188.40,57.92 L188.52,57.35 L188.64,59.16 L188.76,62.04 L188.88,56.83 L189.00,59.42 L189.12,68.27 L189.24,66.44 L189.36,59.66 L189.48,64.34 L189.60,65.18 L189.72,63.34 L189.84,59.82 L189.96,59.08 L190.08,65.86 L190.20,62.44 L190.32,61.96 L190.44,71.21 L190.56,77.60 L190.68,77.87 L190.80,78.07 L190.92,80.98 L191.04,80.76 L191.16,86.57 L191.28,79.94 L191.40,85.88 L191.52,86.23 L191.64,80.20 L191.76,77.40 L191.88,77.66 L192.00,65.13 L192.12,74.13 L192.24,65.26 L192.36,70.88 L192.48,63.97 L192.60,66.31 L192.72,71.17 L192.84,77.37 L192.96,86.57 L193.08,80.76 L193.20,98.05 L193.32,103.27 L193.44,107.66 L193.56,88.06 L193.68,109.24 L193.80,109.36 L193.92,96.23 L194.04,95.67 L194.16,94.45 L194.28,102.03 L194.40,93.13 L194.52,90.09 L194.64,105.72 L194.76,106.00 L194.88,105.20 L195.00,97.77 L195.12,107.12 L195.24,110.61 L195.36,99.51 L195.48,93.15 L195.60,106.11 L195.72,92.39 L195.84,81.64 L195.96,77.42 L196.08,112.47 L196.20,65.05 L196.32,69.86 L196.44,68.92 L196.56,70.19 L196.68,63.49 L196.80,64.73 L196.92,65.48 L197.04,77.94 L197.16,75.17 L197.28,79.58 L197.40,99.02 L197.52,97.41 L197.64,98.04 L197.76,98.80 L197.88,82.78 L198.00,87.36 L198.12,91.97 L198.24,91.08 L198.36,94.82 L198.48,82.05 L198.60,68.18 L198.72,70.82 L198.84,67.38 L198.96,64.51 L199.08,61.02 L199.20,60.76 L199.32,62.54 L199.44,61.25 L199.56,62.29 L199.68,63.27 L199.80,71.82 L199.92,71.49 L200.04,70.04 L200.16,72.86 L200.28,80.36 L200.40,80.81 L200.52,74.18 L200.64,79.33 L200.76,81.49 L200.88,82.34 L201.00,76.28 L201.12,78.04 L201.24,75.19 L201.36,70.61 L201.48,65.68 L201.60,69.96 L201.72,69.37 L201.84,62.13 L201.96,62.41 L202.08,59.69 L202.20,57.49 L202.32,58.97 L202.44,59.63 L202.56,60.13 L202.68,62.79 L202.80,58.24 L202.92,64.93 L203.04,71.67 L203.16,72.89 L203.28,66.86 L203.40,69.81 L203.52,68.65 L203.64,70.95 L203.76,70.23 L203.88,65.21 L204.00,65.06 L204.12,53.23 L204.24,55.64 L204.36,55.83 L204.48,51.74 L204.60,48.10 L204.72,53.58 L204.84,47.70 L204.96,44.12 L205.08,46.76 L205.20,46.66 L205.32,50.36 L205.44,55.42 L205.56,54.61 L205.68,58.15 L205.80,61.08 L205.92,61.99 L206.04,61.48 L206.16,61.43 L206.28,60.82 L206.40,58.32 L206.52,51.72 L206.64,49.79 L206.76,53.11 L206.88,47.24 L207.00,40.21 L207.12,46.58 L207.24,46.65 L207.36,40.60 L207.48,40.55 L207.60,44.99 L207.72,45.32 L207.84,44.48 L207.96,41.22 L208.08,46.18 L208.20,48.68 L208.32,40.11 L208.44,41.19 L208.56,42.86 L208.68,45.15 L208.80,37.36 L208.92,42.61 L209.04,45.56 L209.16,39.38 L209.28,37.63 L209.40,38.69 L209.52,43.94 L209.64,44.09 L209.76,42.95 L209.88,47.36 L210.00,49.75 L210.12,39.01 L210.24,36.70 L210.36,39.16 L210.48,39.69 L210.60,35.21 L210.72,32.50 L210.84,32.48 L210.96,33.09 L211.08,35.55 L211.20,30.73 L211.32,39.10 L211.44,34.93 L211.56,36.59 L211.68,38.40 L211.80,42.98 L211.92,38.85 L212.04,37.64 L212.16,34.66 L212.28,36.45 L212.40,35.65 L212.52,30.28 L212.64,27.31 L212.76,20.16 L212.88,26.43 L213.00,24.19 L213.12,23.46 L213.24,28.19 L213.36,26.83 L213.48,26.30 L213.60,29.45 L213.72,38.09 L213.84,38.77 L213.96,43.68 L214.08,45.89 L214.20,50.63 L214.32,50.00 L214.44,55.03 L214.56,55.17 L214.68,55.55 L214.80,54.42 L214.92,53.36 L215.04,48.14 L215.16,47.98 L215.28,35.32 L215.40,38.57 L215.52,41.14 L215.64,43.55 L215.76,37.92 L215.88,41.85 L216.00,45.47 L216.12,47.98 L216.24,44.43 L216.36,52.37 L216.48,54.10 L216.60,57.18 L216.72,56.56 L216.84,64.10 L216.96,64.15 L217.08,59.31 L217.20,54.39 L217.32,59.90 L217.44,57.62 L217.56,54.51 L217.68,47.59 L217.80,57.34 L217.92,64.95 L218.04,54.78 L218.16,62.01 L218.28,68.46 L218.40,69.90 L218.52,68.25 L218.64,68.77 L218.76,70.79 L218.88,71.88 L219.00,60.62 L219.12,69.27 L219.24,67.37 L219.36,64.99 L219.48,52.66 L219.60,60.67 L219.72,60.79 L219.84,54.40 L219.96,49.84 L220.08,53.71 L220.20,54.94 L220.32,53.88 L220.44,52.40 L220.56,60.77 L220.68,69.14 L220.80,65.83 L220.92,63.77 L221.04,72.32 L221.16,73.55 L221.28,69.88 L221.40,67.57 L221.52,75.57 L221.64,77.48 L221.76,76.09 L221.88,76.45 L222.00,84.22 L222.12,84.73 L222.24,75.51 L222.36,72.03 L222.48,74.06 L222.60,68.45 L222.72,61.54 L222.84,55.12 L222.96,55.13 L223.08,52.73 L223.20,49.92 L223.32,55.06 L223.44,58.86 L223.56,48.22 L223.68,51.62 L223.80,67.42 L223.92,79.36 L224.04,81.89 L224.16,72.69 L224.28,90.69 L224.40,88.67 L224.52,88.67 L224.64,86.37 L224.76,91.13 L224.88,91.88 L225.00,71.15 L225.12,72.53 L225.24,76.57 L225.36,74.60 L225.48,54.57 L225.60,56.91 L225.72,59.09 L225.84,62.88 L225.96,55.13 L226.08,60.52 L226.20,74.10 L226.32,69.62 L226.44,77.57 L226.56,76.38 L226.68,90.74 L226.80,88.69 L226.92,83.19 L227.04,90.82 L227.16,91.40 L227.28,80.69 L227.40,71.54 L227.52,72.52 L227.64,75.04 L227.76,62.70 L227.88,50.99 L228.00,61.82 L228.12,56.00 L228.24,51.48 L228.36,49.51 L228.48,96.05 L228.60,64.75 L228.72,55.94 L228.84,57.55 L228.96,71.78 L229.08,72.47 L229.20,54.47 L229.32,62.30 L229.44,76.24 L229.56,67.36 L229.68,63.42 L229.80,78.28 L229.92,67.69 L230.04,39.56 L230.16,63.57 L230.28,83.42 L230.40,87.51 L230.52,71.68 L230.64,81.41 L230.76,84.97 L230.88,85.86 L231.00,75.78 L231.12,70.19 L231.24,68.88 L231.36,66.90 L231.48,60.23 L231.60,42.06 L231.72,49.36 L231.84,52.83 L231.96,49.43 L232.08,42.83 L232.20,55.61 L232.32,51.07 L232.44,50.96 L232.56,57.85 L232.68,74.74 L232.80,86.87 L232.92,72.15 L233.04,79.62 L233.16,80.06 L233.28,79.56 L233.40,62.79 L233.52,68.39 L233.64,72.77 L233.76,54.28 L233.88,45.83 L234.00,48.90 L234.12,46.25 L234.24,43.40 L234.36,37.42 L234.48,47.25 L234.60,54.03 L234.72,53.17 L234.84,48.54 L234.96,60.12 L235.08,63.20 L235.20,56.55 L235.32,63.93 L235.44,62.92 L235.56,66.03 L235.68,60.45 L235.80,51.48 L235.92,56.60 L236.04,49.60 L236.16,48.51 L236.28,47.18 L236.40,49.31 L236.52,47.74 L236.64,45.35 L236.76,50.73 L236.88,53.72 L237.00,50.91 L237.12,44.81 L237.24,56.04 L237.36,56.57 L237.48,50.31 L237.60,53.16 L237.72,56.20 L237.84,57.04 L237.96,54.66 L238.08,48.38 L238.20,55.68 L238.32,55.85 L238.44,45.98 L238.56,51.25 L238.68,50.25 L238.80,48.55 L238.92,47.85 L239.04,46.73 L239.16,45.98 L239.28,46.14 L239.40,44.65 L239.52,43.07 L239.64,45.20 L239.76,41.99 L239.88,37.07 L240.00,36.73 L240.12,37.14 L240.24,35.24 L240.36,33.28 L240.48,27.21 L240.60,35.46 L240.72,32.58 L240.84,24.46 L240.96,37.56 L241.08,33.11 L241.20,35.97 L241.32,38.25 L241.44,43.46 L241.56,35.22 L241.68,38.03 L241.80,36.83 L241.92,44.39 L242.04,46.14 L242.16,40.58 L242.28,44.69 L242.40,41.69 L242.52,42.02 L242.64,39.49 L242.76,43.82 L242.88,47.68 L243.00,40.93 L243.12,37.39 L243.24,42.58 L243.36,39.34 L243.48,38.59 L243.60,31.64 L243.72,34.44 L243.84,39.06 L243.96,30.36 L244.08,32.50 L244.20,31.10 L244.32,33.49 L244.44,33.08 L244.56,32.74 L244.68,35.61 L244.80,43.38 L244.92,45.90 L245.04,44.33 L245.16,54.34 L245.28,54.80 L245.40,53.45 L245.52,54.76 L245.64,54.26 L245.76,53.61 L245.88,51.64 L246.00,45.57 L246.12,48.65 L246.24,43.07 L246.36,35.17 L246.48,38.66 L246.60,39.10 L246.72,36.10 L246.84,39.53 L246.96,35.65 L247.08,40.96 L247.20,39.55 L247.32,40.61 L247.44,47.87 L247.56,54.91 L247.68,58.20 L247.80,52.77 L247.92,57.31 L248.04,64.82 L248.16,55.41 L248.28,60.86 L248.40,67.38 L248.52,68.30 L248.64,56.28 L248.76,51.46 L248.88,71.08 L249.00,67.76 L249.12,64.92 L249.24,66.34 L249.36,73.91 L249.48,73.94 L249.60,61.42 L249.72,78.62 L249.84,77.23 L249.96,70.79 L250.08,90.10 L250.20,67.52 L250.32,75.62 L250.44,62.50 L250.56,69.25 L250.68,71.02 L250.80,71.78 L250.92,65.82 L251.04,65.89 L251.16,73.22 L251.28,72.54 L251.40,74.20 L251.52,76.27 L251.64,85.04 L251.76,87.19 L251.88,74.75 L252.00,76.64 L252.12,81.86 L252.24,76.92 L252.36,71.36 L252.48,75.85 L252.60,67.16 L252.72,62.58 L252.84,54.37 L252.96,55.62 L253.08,66.96 L253.20,57.43 L253.32,57.35 L253.44,65.63 L253.56,72.42 L253.68,78.24 L253.80,74.01 L253.92,89.52 L254.04,85.07 L254.16,84.31 L254.28,85.92 L254.40,87.19 L254.52,81.84 L254.64,73.69 L254.76,63.57 L254.88,61.20 L255.00,58.20 L255.12,49.67 L255.24,45.14 L255.36,52.75 L255.48,52.90 L255.60,40.57 L255.72,58.01 L255.84,57.14 L255.96,57.02 L256.08,52.13 L256.20,62.78 L256.32,60.48 L256.44,63.57 L256.56,55.27 L256.68,53.74 L256.80,46.93 L256.92,38.39 L257.04,36.90 L257.16,44.08 L257.28,47.83 L257.40,43.95 L257.52,40.55 L257.64,47.82 L257.76,52.72 L257.88,40.13 L258.00,53.42 L258.12,52.54 L258.24,53.52 L258.36,53.21 L258.48,56.48 L258.60,60.68 L258.72,62.03 L258.84,54.16 L258.96,57.25 L259.08,61.16 L259.20,49.98 L259.32,42.50 L259.44,51.25 L259.56,49.16 L259.68,42.11 L259.80,30.61 L259.92,44.52 L260.04,61.87 L260.16,46.64 L260.28,26.60 L260.40,55.27 L260.52,60.29 L260.64,51.56 L260.76,35.21 L260.88,79.86 L261.00,59.14 L261.12,50.13 L261.24,50.54 L261.36,52.00 L261.48,63.95 L261.60,61.93 L261.72,60.62 L261.84,62.38 L261.96,63.08 L262.08,53.51 L262.20,60.45 L262.32,60.82 L262.44,26.60 L262.56,38.26 L262.68,46.24 L262.80,46.72 L262.92,49.03 L263.04,41.76 L263.16,45.07 L263.28,43.65 L263.40,39.24 L263.52,41.03 L263.64,45.60 L263.76,56.50 L263.88,51.12 L264.00,53.53 L264.12,61.05 L264.24,61.14 L264.36,44.36 L264.48,50.28 L264.60,57.44 L264.72,64.60 L264.84,43.63 L264.96,45.64 L265.08,56.38 L265.20,77.01 L265.32,47.53 L265.44,48.37 L265.56,62.00 L265.68,52.19 L265.80,55.57 L265.92,52.14 L266.04,64.51 L266.16,64.88 L266.28,60.81 L266.40,61.71 L266.52,62.97 L266.64,52.18 L266.76,28.76 L266.88,43.13 L267.00,54.82 L267.12,32.69 L267.24,30.68 L267.36,31.27 L267.48,36.36 L267.60,30.46 L267.72,29.75 L267.84,35.46 L267.96,42.07 L268.08,35.55 L268.20,44.13 L268.32,55.28 L268.44,48.93 L268.56,48.03 L268.68,47.48 L268.80,51.51 L268.92,45.52 L269.04,42.88 L269.16,42.82 L269.28,48.00 L269.40,46.27 L269.52,32.57 L269.64,40.90 L269.76,39.51 L269.88,37.79 L270.00,35.07 L270.12,45.07 L270.24,51.35 L270.36,45.92 L270.48,46.31 L270.60,48.77 L270.72,51.27 L270.84,43.60 L270.96,43.96 L271.08,28.76 L271.20,49.78 L271.32,40.09 L271.44,32.84 L271.56,35.47 L271.68,33.13 L271.80,28.81 L271.92,30.40 L272.04,41.28 L272.16,34.59 L272.28,29.47 L272.40,40.52 L272.52,49.44 L272.64,45.59 L272.76,49.03 L272.88,51.83 L273.00,55.45 L273.12,53.53 L273.24,28.78 L273.36,52.89 L273.48,63.71 L273.60,55.27 L273.72,49.33 L273.84,53.99 L273.96,57.76 L274.08,45.78 L274.20,51.69 L274.32,58.32 L274.44,62.77 L274.56,67.49 L274.68,59.57 L274.80,74.01 L274.92,74.35 L275.04,70.04 L275.16,64.93 L275.28,75.84 L275.40,69.68 L275.52,54.44 L275.64,53.71 L275.76,57.48 L275.88,62.06 L276.00,93.54 L276.12,63.32 L276.24,74.74 L276.36,62.78 L276.48,60.30 L276.60,70.78 L276.72,80.91 L276.84,84.87 L276.96,75.18 L277.08,81.28 L277.20,81.06 L277.32,79.43 L277.44,76.56 L277.56,83.23 L277.68,76.44 L277.80,65.93 L277.92,62.70 L278.04,75.73 L278.16,69.32 L278.28,60.55 L278.40,57.96 L278.52,64.96 L278.64,65.05 L278.76,61.70 L278.88,67.90 L279.00,71.27 L279.12,77.75 L279.24,66.03 L279.36,74.82 L279.48,79.26 L279.60,75.70 L279.72,72.41 L279.84,72.18 L279.96,73.44 L280.08,70.89 L280.20,66.08 L280.32,65.42 L280.44,68.41 L280.56,55.88 L280.68,57.63 L280.80,54.35 L280.92,63.87 L281.04,51.91 L281.16,55.25 L281.28,58.58 L281.40,54.63 L281.52,53.20 L281.64,56.73 L281.76,55.17 L281.88,63.15 L282.00,55.22 L282.12,55.82 L282.24,65.78 L282.36,67.87 L282.48,66.87 L282.60,67.93 L282.72,73.97 L282.84,74.40 L282.96,70.67 L283.08,70.71 L283.20,73.28 L283.32,69.13 L283.44,55.13 L283.56,55.88 L283.68,52.98 L283.80,45.42 L283.92,41.46 L284.04,48.67 L284.16,45.50 L284.28,46.39 L284.40,43.03 L284.52,51.19 L284.64,71.45 L284.76,45.85 L284.88,44.18 L285.00,52.92 L285.12,56.85 L285.24,54.30 L285.36,59.43 L285.48,62.44 L285.60,55.64 L285.72,61.11 L285.84,57.27 L285.96,54.46 L286.08,57.90 L286.20,51.75 L286.32,51.82 L286.44,54.36 L286.56,51.78 L286.68,43.03 L286.80,53.47 L286.92,53.13 L287.04,49.30 L287.16,43.64 L287.28,45.67 L287.40,49.37 L287.52,35.67 L287.64,38.25 L287.76,39.57 L287.88,34.04 L288.00,36.38 L288.12,37.39 L288.24,32.09 L288.36,32.89 L288.48,34.83 L288.60,35.87 L288.72,45.01 L288.84,51.72 L288.96,54.38 L289.08,60.26 L289.20,47.75 L289.32,50.63 L289.44,66.82 L289.56,58.48 L289.68,58.58 L289.80,67.99 L289.92,57.35 L290.04,67.65 L290.16,54.04 L290.28,49.10 L290.40,34.29 L290.52,39.21 L290.64,29.68 L290.76,34.33 L290.88,36.33 L291.00,31.55 L291.12,69.40 L291.24,32.19 L291.36,36.14 L291.48,49.67 L291.60,51.21 L291.72,51.00 L291.84,51.78 L291.96,54.48 L292.08,46.24 L292.20,46.44 L292.32,41.51 L292.44,42.78 L292.56,38.92 L292.68,32.42 L292.80,33.76 L292.92,35.19 L293.04,27.98 L293.16,30.34 L293.28,31.39 L293.40,34.95 L293.52,30.64 L293.64,28.35 L293.76,34.91 L293.88,33.36 L294.00,31.43 L294.12,29.78 L294.24,33.12 L294.36,33.58 L294.48,29.51 L294.60,27.13 L294.72,31.98 L294.84,22.31 L294.96,31.47 L295.08,34.44 L295.20,41.26 L295.32,44.36 L295.44,39.33 L295.56,44.66 L295.68,48.55 L295.80,45.93 L295.92,45.35 L296.04,43.96 L296.16,47.21 L296.28,42.26 L296.40,37.00 L296.52,39.39 L296.64,41.92 L296.76,39.25 L296.88,47.96 L297.00,43.33 L297.12,51.64 L297.24,43.58 L297.36,49.41 L297.48,65.83 L297.60,67.41 L297.72,69.82 L297.84,74.26 L297.96,76.75 L298.08,79.72 L298.20,82.68 L298.32,82.03 L298.44,89.09 L298.56,79.54 L298.68,74.60 L298.80,72.05 L298.92,74.60 L299.04,69.10 L299.16,49.31 L299.28,50.09 L299.40,73.48 L299.52,55.37 L299.64,55.26 L299.76,100.90 L299.88,67.18 L300.00,56.80 L300.12,61.89 L300.24,76.76 L300.36,81.57 L300.48,72.41 L300.60,81.47 L300.72,81.14 L300.84,88.15 L300.96,85.17 L301.08,80.61 L301.20,98.23 L301.32,97.48 L301.44,92.72 L301.56,91.43 L301.68,96.90 L301.80,86.89 L301.92,80.68 L302.04,80.15 L302.16,86.16 L302.28,80.44 L302.40,61.35 L302.52,72.50 L302.64,76.95 L302.76,64.38 L302.88,59.69 L303.00,68.33 L303.12,75.07 L303.24,64.31 L303.36,65.36 L303.48,79.11 L303.60,82.91 L303.72,87.00 L303.84,91.11 L303.96,98.22 L304.08,94.91 L304.20,87.48 L304.32,84.50 L304.44,100.04 L304.56,83.80 L304.68,74.72 L304.80,68.38 L304.92,82.41 L305.04,67.68 L305.16,64.78 L305.28,64.87 L305.40,80.78 L305.52,68.28 L305.64,70.35 L305.76,85.75 L305.88,94.03 L306.00,80.17 L306.12,93.35 L306.24,105.15 L306.36,90.43 L306.48,79.45 L306.60,68.55 L306.72,87.76 L306.84,88.26 L306.96,78.23 L307.08,61.48 L307.20,67.26 L307.32,69.54 L307.44,65.99 L307.56,73.10 L307.68,82.91 L307.80,82.55 L307.92,84.35 L308.04,78.14 L308.16,89.36 L308.28,86.43 L308.40,61.94 L308.52,59.57 L308.64,67.98 L308.76,44.77 L308.88,49.07 L309.00,50.40 L309.12,41.60 L309.24,47.03 L309.36,45.82 L309.48,41.47 L309.60,56.93 L309.72,50.70 L309.84,55.88 L309.96,69.29 L310.08,65.05 L310.20,63.59 L310.32,59.68 L310.44,52.77 L310.56,47.76 L310.68,59.77 L310.80,56.40 L310.92,59.25 L311.04,48.89 L311.16,36.08 L311.28,30.25 L311.40,32.75 L311.52,27.45 L311.64,35.99 L311.76,34.37 L311.88,30.28 L312.00,24.12 L312.12,26.29 L312.24,24.46 L312.36,31.68 L312.48,27.20 L312.60,28.81 L312.72,35.27 L312.84,41.74 L312.96,41.24 L313.08,38.78 L313.20,41.20 L313.32,35.01 L313.44,38.13 L313.56,38.62 L313.68,36.68 L313.80,19.12 L313.92,31.90 L314.04,35.52 L314.16,35.20 L314.28,32.69 L314.40,28.99 L314.52,22.22 L314.64,29.80 L314.76,28.56 L314.88,26.55 L315.00,24.86 L315.12,26.87 L315.24,24.83 L315.36,25.00 L315.48,24.83 L315.60,29.43 L315.72,27.40 L315.84,31.32 L315.96,36.47 L316.08,48.74 L316.20,52.40 L316.32,51.19 L316.44,60.16 L316.56,57.17 L316.68,62.81 L316.80,67.07 L316.92,65.81 L317.04,64.82 L317.16,58.33 L317.28,57.28 L317.40,49.62 L317.52,52.20 L317.64,39.30 L317.76,41.00 L317.88,36.81 L318.00,45.74 L318.12,73.87 L318.24,36.29 L318.36,42.24 L318.48,53.39 L318.60,46.15 L318.72,57.99 L318.84,64.00 L318.96,64.35 L319.08,58.14 L319.20,59.81 L319.32,63.84 L319.44,59.45 L319.56,55.48 L319.68,54.34 L319.80,60.26 L319.92,45.84 L320.04,44.22 L320.16,53.48 L320.28,53.28 L320.40,52.50 L320.52,48.34 L320.64,47.62 L320.76,48.01 L320.88,46.17 L321.00,46.39 L321.12,54.42 L321.24,51.00 L321.36,46.29 L321.48,48.62 L321.60,57.05 L321.72,54.60 L321.84,53.69 L321.96,60.66 L322.08,64.76 L322.20,61.27 L322.32,63.29 L322.44,68.64 L322.56,68.43 L322.68,65.89 L322.80,58.14 L322.92,62.66 L323.04,63.50 L323.16,55.82 L323.28,53.03 L323.40,63.40 L323.52,61.26 L323.64,49.97 L323.76,50.68 L323.88,55.43 L324.00,57.46 L324.12,49.72 L324.24,55.11 L324.36,60.28 L324.48,64.36 L324.60,62.40 L324.72,55.27 L324.84,64.58 L324.96,71.80 L325.08,69.49 L325.20,69.70 L325.32,67.66 L325.44,65.94 L325.56,63.69 L325.68,63.86 L325.80,62.13 L325.92,66.91 L326.04,61.24 L326.16,67.95 L326.28,67.98 L326.40,67.55 L326.52,72.83 L326.64,74.10 L326.76,79.30 L326.88,77.27 L327.00,71.29 L327.12,73.82 L327.24,71.34 L327.36,66.63 L327.48,62.12 L327.60,63.58 L327.72,63.36 L327.84,57.92 L327.96,56.56 L328.08,57.22 L328.20,57.53 L328.32,58.15 L328.44,59.46 L328.56,65.85 L328.68,71.45 L328.80,70.94 L328.92,80.33 L329.04,74.74 L329.16,82.97 L329.28,79.18 L329.40,84.70 L329.52,84.98 L329.64,76.65 L329.76,74.34 L329.88,72.83 L330.00,69.93 L330.12,57.41 L330.24,56.52 L330.36,57.50 L330.48,52.52 L330.60,54.47 L330.72,56.97 L330.84,70.86 L330.96,80.42 L331.08,88.88 L331.20,76.86 L331.32,80.06 L331.44,78.38 L331.56,76.61 L331.68,82.18 L331.80,77.00 L331.92,75.19 L332.04,73.88 L332.16,71.85 L332.28,68.08 L332.40,64.85 L332.52,56.99 L332.64,58.46 L332.76,61.46 L332.88,64.55 L333.00,56.01 L333.12,66.35 L333.24,71.31 L333.36,63.88 L333.48,69.83 L333.60,89.63 L333.72,81.46 L333.84,79.69 L333.96,86.30 L334.08,92.95 L334.20,91.43 L334.32,85.59 L334.44,85.30 L334.56,93.41 L334.68,86.73 L334.80,78.17 L334.92,72.03 L335.04,90.69 L335.16,80.53 L335.28,64.58 L335.40,103.11 L335.52,69.80 L335.64,49.15 L335.76,49.86 L335.88,41.38 L336.00,56.64 L336.12,43.87 L336.24,40.56 L336.36,45.02 L336.48,55.01 L336.60,42.39 L336.72,34.98 L336.84,68.19 L336.96,73.20 L337.08,63.27 L337.20,69.46 L337.32,76.77 L337.44,67.64 L337.56,73.41 L337.68,68.36 L337.80,58.27 L337.92,63.41 L338.04,49.58 L338.16,42.76 L338.28,40.69 L338.40,32.25 L338.52,21.37 L338.64,22.61 L338.76,27.13 L338.88,25.88 L339.00,26.42 L339.12,26.78 L339.24,28.55 L339.36,27.60 L339.48,34.78 L339.60,36.97 L339.72,46.23 L339.84,35.07 L339.96,33.82 L340.08,46.72 L340.20,48.50 L340.32,38.02 L340.44,45.59 L340.56,50.19 L340.68,46.44 L340.80,44.55 L340.92,44.53 L341.04,47.82 L341.16,45.08 L341.28,43.47 L341.40,41.85 L341.52,46.27 L341.64,42.12 L341.76,41.60 L341.88,46.88 L342.00,46.15 L342.12,43.01 L342.24,37.03 L342.36,43.16 L342.48,59.00" fill="none" stroke="#111" stroke-width="0.3" stroke-linejoin="bevel"/>
<path d="M40.87,87.07 L41.47,144.96 L42.07,87.07" fill="none" stroke="#444" stroke-width="0.45"/>
<path d="M48.00,67.63 L48.60,40.64 L49.20,67.63" fill="none" stroke="#444" stroke-width="0.45"/>
<path d="M61.61,75.97 L62.21,34.16 L62.81,75.97" fill="none" stroke="#444" stroke-width="0.45"/>
<path d="M70.68,77.07 L71.28,48.20 L71.88,77.07" fill="none" stroke="#444" stroke-width="0.45"/>
<path d="M75.64,53.60 L76.24,114.94 L76.84,53.60" fill="none" stroke="#444" stroke-width="0.45"/>
<path d="M94.87,81.81 L95.47,130.05 L96.07,81.81" fill="none" stroke="#444" stroke-width="0.45"/>
<path d="M122.94,73.03 L123.54,33.08 L124.14,73.03" fill="none" stroke="#444" stroke-width="0.45"/>
<path d="M121.86,73.03 L122.46,121.41 L123.06,73.03" fill="none" stroke="#444" stroke-width="0.45"/>
<path d="M124.67,73.03 L125.27,138.69 L125.87,73.03" fill="none" stroke="#444" stroke-width="0.45"/>
<path d="M56.64,71.49 L57.24,104.14 L57.84,71.49" fill="none" stroke="#444" stroke-width="0.45"/>
<path d="M149.95,67.63 L150.55,117.10 L151.15,67.63" fill="none" stroke="#444" stroke-width="0.45"/>
<path d="M170.04,86.53 L170.64,133.29 L171.24,86.53" fill="none" stroke="#444" stroke-width="0.45"/>
<path d="M193.80,90.31 L194.40,127.89 L195.00,90.31" fill="none" stroke="#444" stroke-width="0.45"/>
<path d="M145.20,82.75 L145.80,109.54 L146.40,82.75" fill="none" stroke="#444" stroke-width="0.45"/>
<path d="M174.36,82.21 L174.96,114.94 L175.56,82.21" fill="none" stroke="#444" stroke-width="0.45"/>
<path d="M226.84,71.83 L227.44,98.74 L228.04,71.83" fill="none" stroke="#444" stroke-width="0.45"/>
<path d="M254.28,62.24 L254.88,103.06 L255.48,62.24" fill="none" stroke="#444" stroke-width="0.45"/>
<path d="M274.80,69.79 L275.40,100.90 L276.00,69.79" fill="none" stroke="#444" stroke-width="0.45"/>
<path d="M283.44,57.92 L284.04,109.54 L284.64,57.92" fill="none" stroke="#444" stroke-width="0.45"/>
<path d="M295.75,46.79 L296.35,135.45 L296.95,46.79" fill="none" stroke="#444" stroke-width="0.45"/>
<path d="M334.19,77.35 L334.79,110.62 L335.39,77.35" fill="none" stroke="#444" stroke-width="0.45"/>
<circle cx="28.73" cy="27.68" r="1.0" fill="#f00"/>
<circle cx="84.67" cy="22.71" r="1.0" fill="#f00"/>
<circle cx="85.32" cy="42.15" r="1.0" fill="#f00"/>
<circle cx="92.87" cy="51.87" r="1.0" fill="#f00"/>
<circle cx="93.52" cy="53.60" r="1.0" fill="#f00"/>
<circle cx="86.61" cy="61.59" r="1.0" fill="#f00"/>
<circle cx="87.69" cy="65.04" r="1.0" fill="#f00"/>
<circle cx="93.95" cy="63.32" r="1.0" fill="#f00"/>
<circle cx="95.68" cy="67.63" r="1.0" fill="#f00"/>
<circle cx="97.84" cy="60.08" r="1.0" fill="#f00"/>
<circle cx="100.00" cy="59.00" r="1.0" fill="#f00"/>
<circle cx="101.08" cy="42.15" r="1.0" fill="#f00"/>
<circle cx="102.16" cy="41.72" r="1.0" fill="#f00"/>
<circle cx="103.67" cy="57.92" r="1.0" fill="#f00"/>
<circle cx="104.32" cy="37.83" r="1.0" fill="#f00"/>
<circle cx="105.83" cy="38.48" r="1.0" fill="#f00"/>
<circle cx="107.35" cy="30.92" r="1.0" fill="#f00"/>
<circle cx="107.99" cy="32.00" r="1.0" fill="#f00"/>
<circle cx="109.07" cy="34.16" r="1.0" fill="#f00"/>
<circle cx="109.51" cy="48.63" r="1.0" fill="#f00"/>
<circle cx="110.80" cy="41.29" r="1.0" fill="#f00"/>
<circle cx="111.88" cy="35.24" r="1.0" fill="#f00"/>
<circle cx="115.55" cy="47.12" r="1.0" fill="#f00"/>
<circle cx="114.04" cy="63.32" r="1.0" fill="#f00"/>
<circle cx="116.63" cy="62.24" r="1.0" fill="#f00"/>
<circle cx="118.79" cy="56.19" r="1.0" fill="#f00"/>
<circle cx="119.87" cy="55.32" r="1.0" fill="#f00"/>
<circle cx="120.52" cy="59.00" r="1.0" fill="#f00"/>
<circle cx="120.95" cy="60.08" r="1.0" fill="#f00"/>
<circle cx="117.28" cy="74.11" r="1.0" fill="#f00"/>
<circle cx="123.11" cy="73.68" r="1.0" fill="#f00"/>
<circle cx="126.78" cy="47.76" r="1.0" fill="#f00"/>
<circle cx="127.65" cy="49.28" r="1.0" fill="#f00"/>
<circle cx="128.94" cy="51.44" r="1.0" fill="#f00"/>
<circle cx="129.81" cy="66.56" r="1.0" fill="#f00"/>
<circle cx="131.32" cy="27.68" r="1.0" fill="#f00"/>
<circle cx="132.83" cy="20.55" r="1.0" fill="#f00"/>
<circle cx="133.91" cy="21.85" r="1.0" fill="#f00"/>
<circle cx="134.56" cy="30.49" r="1.0" fill="#f00"/>
<circle cx="88.99" cy="76.08" r="1.0" fill="#f00"/>
<circle cx="90.71" cy="82.56" r="1.0" fill="#f00"/>
<circle cx="91.36" cy="83.21" r="1.0" fill="#f00"/>
<circle cx="95.03" cy="96.17" r="1.0" fill="#f00"/>
<circle cx="98.27" cy="78.02" r="1.0" fill="#f00"/>
<circle cx="102.59" cy="78.89" r="1.0" fill="#f00"/>
<circle cx="117.28" cy="75.43" r="1.0" fill="#f00"/>
<circle cx="122.03" cy="84.29" r="1.0" fill="#f00"/>
<circle cx="125.70" cy="85.80" r="1.0" fill="#f00"/>
<circle cx="126.57" cy="92.93" r="1.0" fill="#f00"/>
<circle cx="123.76" cy="100.92" r="1.0" fill="#f00"/>
<circle cx="124.84" cy="107.61" r="1.0" fill="#f00"/>
<circle cx="135.00" cy="27.68" r="1.0" fill="#f00"/>
<circle cx="136.08" cy="36.97" r="1.0" fill="#f00"/>
<circle cx="137.59" cy="36.32" r="1.0" fill="#f00"/>
<circle cx="139.32" cy="46.04" r="1.0" fill="#f00"/>
<circle cx="143.21" cy="52.52" r="1.0" fill="#f00"/>
<circle cx="138.89" cy="61.59" r="1.0" fill="#f00"/>
<circle cx="146.88" cy="60.72" r="1.0" fill="#f00"/>
<circle cx="148.39" cy="58.56" r="1.0" fill="#f00"/>
<circle cx="149.04" cy="54.24" r="1.0" fill="#f00"/>
<circle cx="156.17" cy="56.40" r="1.0" fill="#f00"/>
<circle cx="153.36" cy="68.71" r="1.0" fill="#f00"/>
<circle cx="154.44" cy="32.00" r="1.0" fill="#f00"/>
<circle cx="160.49" cy="24.01" r="1.0" fill="#f00"/>
<circle cx="161.35" cy="23.79" r="1.0" fill="#f00"/>
<circle cx="163.73" cy="29.19" r="1.0" fill="#f00"/>
<circle cx="165.89" cy="44.52" r="1.0" fill="#f00"/>
<circle cx="166.75" cy="47.76" r="1.0" fill="#f00"/>
<circle cx="165.24" cy="53.60" r="1.0" fill="#f00"/>
<circle cx="166.97" cy="53.60" r="1.0" fill="#f00"/>
<circle cx="168.05" cy="56.84" r="1.0" fill="#f00"/>
<circle cx="169.13" cy="66.56" r="1.0" fill="#f00"/>
<circle cx="172.15" cy="68.71" r="1.0" fill="#f00"/>
<circle cx="173.23" cy="53.60" r="1.0" fill="#f00"/>
<circle cx="173.88" cy="60.08" r="1.0" fill="#f00"/>
<circle cx="174.96" cy="69.36" r="1.0" fill="#f00"/>
<circle cx="179.28" cy="63.32" r="1.0" fill="#f00"/>
<circle cx="179.92" cy="69.79" r="1.0" fill="#f00"/>
<circle cx="182.08" cy="30.49" r="1.0" fill="#f00"/>
<circle cx="183.60" cy="29.84" r="1.0" fill="#f00"/>
<circle cx="185.32" cy="34.81" r="1.0" fill="#f00"/>
<circle cx="191.80" cy="47.12" r="1.0" fill="#f00"/>
<circle cx="193.96" cy="60.08" r="1.0" fill="#f00"/>
<circle cx="190.72" cy="62.88" r="1.0" fill="#f00"/>
<circle cx="191.59" cy="67.63" r="1.0" fill="#f00"/>
<circle cx="196.99" cy="49.92" r="1.0" fill="#f00"/>
<circle cx="198.07" cy="54.68" r="1.0" fill="#f00"/>
<circle cx="199.36" cy="21.85" r="1.0" fill="#f00"/>
<circle cx="199.79" cy="21.20" r="1.0" fill="#f00"/>
<circle cx="197.63" cy="38.05" r="1.0" fill="#f00"/>
<circle cx="200.44" cy="48.20" r="1.0" fill="#f00"/>
<circle cx="200.87" cy="68.71" r="1.0" fill="#f00"/>
<circle cx="201.95" cy="67.63" r="1.0" fill="#f00"/>
<circle cx="203.25" cy="63.75" r="1.0" fill="#f00"/>
<circle cx="205.19" cy="44.96" r="1.0" fill="#f00"/>
<circle cx="206.92" cy="37.40" r="1.0" fill="#f00"/>
<circle cx="208.00" cy="41.29" r="1.0" fill="#f00"/>
<circle cx="213.19" cy="17.53" r="1.0" fill="#f00"/>
<circle cx="213.19" cy="29.84" r="1.0" fill="#f00"/>
<circle cx="217.29" cy="42.80" r="1.0" fill="#f00"/>
<circle cx="218.80" cy="41.29" r="1.0" fill="#f00"/>
<circle cx="216.64" cy="43.44" r="1.0" fill="#f00"/>
<circle cx="218.15" cy="51.00" r="1.0" fill="#f00"/>
<circle cx="219.88" cy="35.24" r="1.0" fill="#f00"/>
<circle cx="220.96" cy="34.81" r="1.0" fill="#f00"/>
<circle cx="222.47" cy="41.72" r="1.0" fill="#f00"/>
<circle cx="225.71" cy="39.99" r="1.0" fill="#f00"/>
<circle cx="223.12" cy="55.11" r="1.0" fill="#f00"/>
<circle cx="224.85" cy="60.72" r="1.0" fill="#f00"/>
<circle cx="226.79" cy="54.24" r="1.0" fill="#f00"/>
<circle cx="227.87" cy="62.88" r="1.0" fill="#f00"/>
<circle cx="229.60" cy="49.49" r="1.0" fill="#f00"/>
<circle cx="230.03" cy="54.68" r="1.0" fill="#f00"/>
<circle cx="231.54" cy="47.12" r="1.0" fill="#f00"/>
<circle cx="233.27" cy="41.29" r="1.0" fill="#f00"/>
<circle cx="234.14" cy="49.92" r="1.0" fill="#f00"/>
<circle cx="236.08" cy="30.27" r="1.0" fill="#f00"/>
<circle cx="238.67" cy="47.76" r="1.0" fill="#f00"/>
<circle cx="239.97" cy="45.60" r="1.0" fill="#f00"/>
<circle cx="141.48" cy="76.08" r="1.0" fill="#f00"/>
<circle cx="143.64" cy="77.59" r="1.0" fill="#f00"/>
<circle cx="147.53" cy="84.72" r="1.0" fill="#f00"/>
<circle cx="144.72" cy="89.04" r="1.0" fill="#f00"/>
<circle cx="145.80" cy="89.69" r="1.0" fill="#f00"/>
<circle cx="145.37" cy="92.71" r="1.0" fill="#f00"/>
<circle cx="144.07" cy="95.73" r="1.0" fill="#f00"/>
<circle cx="149.69" cy="76.73" r="1.0" fill="#f00"/>
<circle cx="170.64" cy="76.73" r="1.0" fill="#f00"/>
<circle cx="171.07" cy="90.12" r="1.0" fill="#f00"/>
<circle cx="177.12" cy="77.59" r="1.0" fill="#f00"/>
<circle cx="177.55" cy="85.37" r="1.0" fill="#f00"/>
<circle cx="178.20" cy="109.13" r="1.0" fill="#f00"/>
<circle cx="189.43" cy="81.91" r="1.0" fill="#f00"/>
<circle cx="195.48" cy="87.96" r="1.0" fill="#f00"/>
<circle cx="196.56" cy="91.85" r="1.0" fill="#f00"/>
<circle cx="195.48" cy="110.64" r="1.0" fill="#f00"/>
<circle cx="201.95" cy="75.43" r="1.0" fill="#f00"/>
<circle cx="223.98" cy="97.68" r="1.0" fill="#f00"/>
<circle cx="227.22" cy="84.72" r="1.0" fill="#f00"/>
<circle cx="244.08" cy="35.24" r="1.0" fill="#f00"/>
<circle cx="245.16" cy="38.48" r="1.0" fill="#f00"/>
<circle cx="246.89" cy="34.16" r="1.0" fill="#f00"/>
<circle cx="247.75" cy="35.24" r="1.0" fill="#f00"/>
<circle cx="246.24" cy="42.80" r="1.0" fill="#f00"/>
<circle cx="248.40" cy="44.96" r="1.0" fill="#f00"/>
<circle cx="251.64" cy="47.12" r="1.0" fill="#f00"/>
<circle cx="249.48" cy="54.24" r="1.0" fill="#f00"/>
<circle cx="252.72" cy="63.32" r="1.0" fill="#f00"/>
<circle cx="253.80" cy="64.40" r="1.0" fill="#f00"/>
<circle cx="255.96" cy="70.87" r="1.0" fill="#f00"/>
<circle cx="256.61" cy="36.32" r="1.0" fill="#f00"/>
<circle cx="257.69" cy="46.04" r="1.0" fill="#f00"/>
<circle cx="258.55" cy="62.88" r="1.0" fill="#f00"/>
<circle cx="259.20" cy="66.56" r="1.0" fill="#f00"/>
<circle cx="261.36" cy="35.24" r="1.0" fill="#f00"/>
<circle cx="262.01" cy="40.64" r="1.0" fill="#f00"/>
<circle cx="262.44" cy="48.20" r="1.0" fill="#f00"/>
<circle cx="264.60" cy="69.79" r="1.0" fill="#f00"/>
<circle cx="265.68" cy="68.71" r="1.0" fill="#f00"/>
<circle cx="267.41" cy="34.81" r="1.0" fill="#f00"/>
<circle cx="268.49" cy="32.65" r="1.0" fill="#f00"/>
<circle cx="269.35" cy="35.67" r="1.0" fill="#f00"/>
<circle cx="270.00" cy="32.00" r="1.0" fill="#f00"/>
<circle cx="271.08" cy="24.87" r="1.0" fill="#f00"/>
<circle cx="272.16" cy="24.44" r="1.0" fill="#f00"/>
<circle cx="276.48" cy="43.88" r="1.0" fill="#f00"/>
<circle cx="277.56" cy="46.04" r="1.0" fill="#f00"/>
<circle cx="278.64" cy="57.48" r="1.0" fill="#f00"/>
<circle cx="279.29" cy="63.32" r="1.0" fill="#f00"/>
<circle cx="281.44" cy="42.15" r="1.0" fill="#f00"/>
<circle cx="282.96" cy="69.36" r="1.0" fill="#f00"/>
<circle cx="285.12" cy="44.96" r="1.0" fill="#f00"/>
<circle cx="286.20" cy="43.88" r="1.0" fill="#f00"/>
<circle cx="287.28" cy="57.92" r="1.0" fill="#f00"/>
<circle cx="287.92" cy="40.64" r="1.0" fill="#f00"/>
<circle cx="288.79" cy="29.19" r="1.0" fill="#f00"/>
<circle cx="289.65" cy="32.65" r="1.0" fill="#f00"/>
<circle cx="290.95" cy="56.40" r="1.0" fill="#f00"/>
<circle cx="291.60" cy="43.88" r="1.0" fill="#f00"/>
<circle cx="292.24" cy="31.35" r="1.0" fill="#f00"/>
<circle cx="293.97" cy="26.60" r="1.0" fill="#f00"/>
<circle cx="294.84" cy="25.52" r="1.0" fill="#f00"/>
<circle cx="294.84" cy="37.83" r="1.0" fill="#f00"/>
<circle cx="295.92" cy="39.56" r="1.0" fill="#f00"/>
<circle cx="297.43" cy="46.04" r="1.0" fill="#f00"/>
<circle cx="298.29" cy="49.28" r="1.0" fill="#f00"/>
<circle cx="299.16" cy="50.36" r="1.0" fill="#f00"/>
<circle cx="298.08" cy="60.08" r="1.0" fill="#f00"/>
<circle cx="300.88" cy="67.63" r="1.0" fill="#f00"/>
<circle cx="301.75" cy="63.32" r="1.0" fill="#f00"/>
<circle cx="304.56" cy="66.56" r="1.0" fill="#f00"/>
<circle cx="305.20" cy="42.80" r="1.0" fill="#f00"/>
<circle cx="305.63" cy="59.00" r="1.0" fill="#f00"/>
<circle cx="308.87" cy="43.88" r="1.0" fill="#f00"/>
<circle cx="308.87" cy="71.95" r="1.0" fill="#f00"/>
<circle cx="310.82" cy="51.44" r="1.0" fill="#f00"/>
<circle cx="311.68" cy="50.36" r="1.0" fill="#f00"/>
<circle cx="312.11" cy="39.56" r="1.0" fill="#f00"/>
<circle cx="313.19" cy="29.19" r="1.0" fill="#f00"/>
<circle cx="313.84" cy="26.60" r="1.0" fill="#f00"/>
<circle cx="314.27" cy="32.65" r="1.0" fill="#f00"/>
<circle cx="315.79" cy="36.97" r="1.0" fill="#f00"/>
<circle cx="316.43" cy="41.29" r="1.0" fill="#f00"/>
<circle cx="317.51" cy="24.01" r="1.0" fill="#f00"/>
<circle cx="317.95" cy="52.08" r="1.0" fill="#f00"/>
<circle cx="318.59" cy="26.60" r="1.0" fill="#f00"/>
<circle cx="319.03" cy="30.92" r="1.0" fill="#f00"/>
<circle cx="319.89" cy="28.76" r="1.0" fill="#f00"/>
<circle cx="320.75" cy="32.00" r="1.0" fill="#f00"/>
<circle cx="321.40" cy="24.01" r="1.0" fill="#f00"/>
<circle cx="322.48" cy="27.03" r="1.0" fill="#f00"/>
<circle cx="323.35" cy="45.60" r="1.0" fill="#f00"/>
<circle cx="323.99" cy="40.21" r="1.0" fill="#f00"/>
<circle cx="324.64" cy="54.24" r="1.0" fill="#f00"/>
<circle cx="325.72" cy="56.84" r="1.0" fill="#f00"/>
<circle cx="327.23" cy="43.88" r="1.0" fill="#f00"/>
<circle cx="327.67" cy="37.40" r="1.0" fill="#f00"/>
<circle cx="328.53" cy="33.08" r="1.0" fill="#f00"/>
<circle cx="329.39" cy="55.76" r="1.0" fill="#f00"/>
<circle cx="330.47" cy="56.84" r="1.0" fill="#f00"/>
<circle cx="331.98" cy="36.97" r="1.0" fill="#f00"/>
<circle cx="326.15" cy="63.32" r="1.0" fill="#f00"/>
<circle cx="326.80" cy="69.79" r="1.0" fill="#f00"/>
<circle cx="332.63" cy="52.52" r="1.0" fill="#f00"/>
<circle cx="333.71" cy="60.08" r="1.0" fill="#f00"/>
<circle cx="335.44" cy="65.04" r="1.0" fill="#f00"/>
<circle cx="336.52" cy="68.71" r="1.0" fill="#f00"/>
<circle cx="337.60" cy="50.36" r="1.0" fill="#f00"/>
<circle cx="338.03" cy="41.29" r="1.0" fill="#f00"/>
<circle cx="338.46" cy="35.24" r="1.0" fill="#f00"/>
<circle cx="339.33" cy="62.24" r="1.0" fill="#f00"/>
<circle cx="340.62" cy="49.28" r="1.0" fill="#f00"/>
<circle cx="341.49" cy="47.12" r="1.0" fill="#f00"/>
<circle cx="250.56" cy="76.73" r="1.0" fill="#f00"/>
<circle cx="254.88" cy="77.16" r="1.0" fill="#f00"/>
<circle cx="260.28" cy="77.16" r="1.0" fill="#f00"/>
<circle cx="250.13" cy="99.19" r="1.0" fill="#f00"/>
<circle cx="254.88" cy="89.47" r="1.0" fill="#f00"/>
<circle cx="264.17" cy="89.69" r="1.0" fill="#f00"/>
<circle cx="265.03" cy="85.80" r="1.0" fill="#f00"/>
<circle cx="266.76" cy="83.21" r="1.0" fill="#f00"/>
<circle cx="275.83" cy="102.00" r="1.0" fill="#f00"/>
<circle cx="276.48" cy="75.43" r="1.0" fill="#f00"/>
<circle cx="277.99" cy="82.56" r="1.0" fill="#f00"/>
<circle cx="280.80" cy="89.69" r="1.0" fill="#f00"/>
<circle cx="284.04" cy="89.04" r="1.0" fill="#f00"/>
<circle cx="284.04" cy="107.83" r="1.0" fill="#f00"/>
<circle cx="296.56" cy="110.21" r="1.0" fill="#f00"/>
<circle cx="299.59" cy="99.84" r="1.0" fill="#f00"/>
<circle cx="300.24" cy="90.55" r="1.0" fill="#f00"/>
<circle cx="302.40" cy="77.16" r="1.0" fill="#f00"/>
<circle cx="303.48" cy="79.32" r="1.0" fill="#f00"/>
<circle cx="303.91" cy="80.40" r="1.0" fill="#f00"/>
<circle cx="306.93" cy="81.48" r="1.0" fill="#f00"/>
<circle cx="307.36" cy="76.08" r="1.0" fill="#f00"/>
<circle cx="308.23" cy="124.68" r="1.0" fill="#f00"/>
<circle cx="330.47" cy="77.59" r="1.0" fill="#f00"/>
<circle cx="336.30" cy="78.24" r="1.0" fill="#f00"/>
</g>
<clipPath id="c2"><rect x="27.60" y="161.40" width="314.90" height="140.00"/></clipPath>
<g clip-path="url(#c2)">
<path d="M27.60,248.36 L27.90,249.05 L28.20,252.03 L28.50,250.21 L28.80,254.01 L29.10,253.13 L29.40,258.55 L29.70,259.36 L30.00,262.43 L30.30,261.70 L30.60,262.09 L30.90,260.74 L31.20,259.64 L31.50,261.10 L31.80,260.75 L32.10,262.95 L32.40,265.30 L32.70,263.40 L33.00,261.68 L33.30,263.34 L33.60,260.16 L33.90,259.15 L34.20,259.67 L34.50,258.62 L34.80,257.99 L35.10,257.13 L35.40,258.84 L35.70,255.68 L36.00,254.65 L36.30,254.00 L36.60,254.27 L36.90,249.88 L37.20,247.04 L37.50,248.05 L37.80,241.32 L38.10,237.48 L38.40,233.58 L38.70,230.31 L39.00,222.30 L39.30,217.07 L39.60,216.87 L39.90,211.97 L40.20,206.59 L40.50,201.52 L40.80,195.26 L41.10,191.78 L41.40,196.99 L41.70,204.42 L42.00,200.15 L42.30,194.94 L42.60,191.41 L42.90,189.71 L43.20,186.44 L43.50,183.87 L43.80,183.61 L44.10,184.37 L44.40,182.94 L44.70,183.58 L45.00,185.08 L45.30,185.71 L45.60,187.36 L45.90,187.04 L46.20,192.89 L46.50,193.23 L46.80,195.05 L47.10,200.09 L47.40,202.35 L47.70,205.03 L48.00,209.17 L48.30,213.50 L48.60,214.62 L48.90,218.15 L49.20,221.18 L49.50,220.09 L49.80,222.89 L50.10,226.36 L50.40,225.66 L50.70,229.29 L51.00,232.85 L51.30,234.38 L51.60,235.67 L51.90,234.87 L52.20,241.94 L52.50,242.36 L52.80,245.00 L53.10,246.73 L53.40,246.10 L53.70,248.21 L54.00,250.25 L54.30,254.69 L54.60,252.67 L54.90,254.74 L55.20,256.84 L55.50,260.75 L55.80,263.67 L56.10,266.41 L56.40,267.25 L56.70,267.58 L57.00,273.62 L57.30,276.36 L57.60,280.92 L57.90,282.74 L58.20,281.44 L58.50,281.17 L58.80,277.21 L59.10,275.97 L59.40,274.22 L59.70,274.44 L60.00,275.22 L60.30,272.56 L60.60,271.29 L60.90,267.90 L61.20,265.54 L61.50,262.34 L61.80,260.61 L62.10,256.45 L62.40,256.00 L62.70,253.85 L63.00,253.19 L63.30,250.00 L63.60,247.52 L63.90,245.71 L64.20,241.86 L64.50,241.56 L64.80,240.71 L65.10,233.15 L65.40,228.96 L65.70,221.67 L66.00,214.08 L66.30,209.99 L66.60,202.95 L66.90,197.97 L67.20,198.64 L67.50,202.50 L67.80,197.72 L68.10,197.57 L68.40,191.97 L68.70,185.38 L69.00,181.76 L69.30,179.77 L69.60,178.36 L69.90,180.09 L70.20,182.06 L70.50,181.25 L70.80,183.98 L71.10,188.50 L71.40,188.09 L71.70,185.56 L72.00,185.68 L72.30,184.44 L72.60,186.74 L72.90,191.57 L73.20,192.42 L73.50,196.31 L73.80,197.68 L74.10,198.19 L74.40,201.54 L74.70,207.59 L75.00,207.18 L75.30,209.86 L75.60,215.43 L75.90,218.59 L76.20,222.93 L76.50,229.01 L76.80,228.75 L77.10,232.99 L77.40,233.14 L77.70,234.55 L78.00,237.01 L78.30,241.01 L78.60,241.36 L78.90,241.26 L79.20,243.88 L79.50,248.63 L79.80,249.87 L80.10,248.93 L80.40,254.08 L80.70,252.14 L81.00,252.41 L81.30,254.80 L81.60,257.21 L81.90,259.16 L82.20,259.34 L82.50,258.00 L82.80,258.15 L83.10,257.44 L83.40,259.30 L83.70,259.01 L84.00,260.26 L84.30,259.76 L84.60,265.10 L84.90,268.86 L85.20,267.00 L85.50,265.52 L85.80,264.21 L86.10,262.52 L86.40,263.00 L86.70,261.27 L87.00,258.47 L87.30,259.33 L87.60,257.63 L87.90,257.15 L88.20,253.49 L88.50,251.67 L88.80,248.84 L89.10,247.36 L89.40,245.37 L89.70,242.35 L90.00,238.27 L90.30,235.59 L90.60,231.46 L90.90,227.54 L91.20,221.81 L91.50,217.96 L91.80,210.61 L92.10,204.78 L92.40,208.57 L92.70,215.23 L93.00,198.50 L93.30,193.78 L93.60,189.97 L93.90,187.69 L94.20,184.04 L94.50,179.66 L94.80,173.87 L95.10,170.03 L95.40,164.95 L95.70,161.20 L96.00,168.06 L96.30,176.24 L96.60,176.88 L96.90,180.20 L97.20,184.25 L97.50,183.33 L97.80,185.58 L98.10,184.11 L98.40,187.01 L98.70,191.47 L99.00,193.46 L99.30,197.42 L99.60,203.13 L99.90,201.39 L100.20,203.16 L100.50,205.11 L100.80,207.59 L101.10,209.32 L101.40,212.26 L101.70,213.84 L102.00,214.30 L102.30,216.15 L102.60,216.77 L102.90,219.08 L103.20,222.33 L103.50,226.39 L103.80,227.44 L104.10,229.05 L104.40,230.05 L104.70,229.64 L105.00,234.80 L105.30,234.85 L105.60,237.74 L105.90,240.69 L106.20,244.25 L106.50,244.62 L106.80,245.74 L107.10,248.49 L107.40,250.48 L107.70,250.28 L108.00,251.33 L108.30,254.33 L108.60,255.71 L108.90,257.17 L109.20,256.37 L109.50,258.15 L109.80,258.84 L110.10,257.01 L110.40,260.73 L110.70,259.80 L111.00,259.60 L111.30,263.03 L111.60,261.85 L111.90,262.07 L112.20,264.01 L112.50,264.42 L112.80,263.50 L113.10,261.32 L113.40,259.22 L113.70,258.20 L114.00,256.87 L114.30,255.41 L114.60,254.86 L114.90,251.93 L115.20,250.14 L115.50,246.75 L115.80,244.31 L116.10,242.67 L116.40,240.09 L116.70,239.19 L117.00,233.64 L117.30,231.64 L117.60,228.13 L117.90,223.61 L118.20,222.90 L118.50,219.27 L118.80,213.77 L119.10,215.60 L119.40,214.78 L119.70,211.63 L120.00,212.72 L120.30,208.59 L120.60,204.72 L120.90,204.25 L121.20,200.81 L121.50,197.31 L121.80,194.01 L122.10,194.40 L122.40,191.37 L122.70,190.99 L123.00,188.77 L123.30,185.82 L123.60,184.71 L123.90,189.79 L124.20,192.20 L124.50,192.93 L124.80,193.48 L125.10,194.58 L125.40,196.79 L125.70,200.30 L126.00,200.15 L126.30,200.50 L126.60,201.15 L126.90,204.51 L127.20,205.14 L127.50,208.07 L127.80,211.29 L128.10,214.06 L128.40,215.42 L128.70,217.28 L129.00,220.32 L129.30,224.48 L129.60,225.26 L129.90,224.71 L130.20,229.45 L130.50,229.44 L130.80,234.39 L131.10,231.17 L131.40,232.79 L131.70,233.76 L132.00,236.21 L132.30,236.94 L132.60,237.74 L132.90,239.04 L133.20,242.85 L133.50,244.21 L133.80,245.94 L134.10,251.13 L134.40,252.02 L134.70,254.74 L135.00,255.34 L135.30,258.03 L135.60,259.26 L135.90,261.07 L136.20,263.57 L136.50,264.31 L136.80,264.88 L137.10,265.60 L137.40,265.60 L137.70,268.39 L138.00,269.02 L138.30,266.08 L138.60,263.52 L138.90,262.68 L139.20,259.00 L139.50,257.03 L139.80,256.56 L140.10,253.17 L140.40,253.17 L140.70,250.16 L141.00,248.48 L141.30,246.50 L141.60,240.42 L141.90,240.35 L142.20,236.38 L142.50,234.00 L142.80,231.10 L143.10,228.69 L143.40,222.26 L143.70,219.42 L144.00,213.40 L144.30,210.32 L144.60,206.89 L144.90,205.33 L145.20,202.41 L145.50,199.98 L145.80,198.50 L146.10,194.31 L146.40,194.27 L146.70,190.70 L147.00,186.94 L147.30,182.77 L147.60,178.95 L147.90,179.92 L148.20,182.02 L148.50,181.26 L148.80,182.77 L149.10,186.90 L149.40,187.11 L149.70,184.57 L150.00,183.72 L150.30,182.71 L150.60,183.79 L150.90,181.40 L151.20,181.70 L151.50,184.55 L151.80,188.01 L152.10,188.53 L152.40,191.95 L152.70,194.75 L153.00,198.17 L153.30,201.77 L153.60,206.19 L153.90,210.68 L154.20,212.52 L154.50,216.28 L154.80,220.33 L155.10,225.02 L155.40,229.24 L155.70,229.68 L156.00,233.26 L156.30,233.56 L156.60,237.26 L156.90,237.20 L157.20,238.87 L157.50,241.08 L157.80,243.36 L158.10,243.52 L158.40,246.06 L158.70,247.19 L159.00,248.07 L159.30,249.18 L159.60,250.75 L159.90,249.88 L160.20,251.58 L160.50,252.45 L160.80,251.11 L161.10,254.90 L161.40,254.81 L161.70,256.07 L162.00,257.59 L162.30,262.19 L162.60,266.45 L162.90,265.32 L163.20,261.77 L163.50,261.06 L163.80,260.10 L164.10,258.60 L164.40,258.41 L164.70,258.72 L165.00,257.71 L165.30,257.40 L165.60,256.15 L165.90,256.69 L166.20,257.29 L166.50,254.74 L166.80,251.67 L167.10,253.54 L167.40,249.21 L167.70,246.51 L168.00,242.51 L168.30,241.84 L168.60,238.83 L168.90,234.77 L169.20,229.20 L169.50,227.16 L169.80,221.80 L170.10,217.63 L170.40,214.76 L170.70,211.69 L171.00,209.71 L171.30,208.30 L171.60,203.65 L171.90,205.25 L172.20,199.90 L172.50,198.24 L172.80,193.66 L173.10,192.92 L173.40,190.75 L173.70,187.40 L174.00,188.13 L174.30,187.51 L174.60,184.68 L174.90,182.70 L175.20,184.61 L175.50,185.00 L175.80,186.65 L176.10,187.30 L176.40,190.59 L176.70,191.03 L177.00,191.53 L177.30,193.31 L177.60,191.16 L177.90,194.54 L178.20,195.74 L178.50,199.63 L178.80,203.10 L179.10,205.99 L179.40,209.53 L179.70,210.15 L180.00,213.64 L180.30,215.56 L180.60,218.12 L180.90,220.86 L181.20,222.59 L181.50,225.46 L181.80,227.23 L182.10,230.43 L182.40,231.23 L182.70,233.58 L183.00,237.90 L183.30,237.53 L183.60,239.21 L183.90,242.23 L184.20,242.34 L184.50,246.63 L184.80,248.82 L185.10,250.28 L185.40,252.67 L185.70,254.26 L186.00,256.02 L186.30,255.21 L186.60,257.59 L186.90,257.71 L187.20,260.87 L187.50,260.86 L187.80,260.49 L188.10,263.23 L188.40,263.21 L188.70,266.59 L189.00,266.34 L189.30,265.51 L189.60,268.69 L189.90,271.44 L190.20,270.88 L190.50,268.62 L190.80,268.83 L191.10,267.55 L191.40,267.33 L191.70,265.51 L192.00,263.72 L192.30,260.87 L192.60,259.04 L192.90,256.06 L193.20,252.74 L193.50,249.82 L193.80,244.46 L194.10,242.79 L194.40,238.53 L194.70,232.51 L195.00,225.61 L195.30,215.91 L195.60,206.51 L195.90,210.32 L196.20,214.73 L196.50,211.24 L196.80,205.84 L197.10,202.94 L197.40,200.27 L197.70,197.65 L198.00,199.12 L198.30,195.64 L198.60,194.90 L198.90,191.58 L199.20,189.32 L199.50,189.86 L199.80,185.21 L200.10,182.07 L200.40,181.71 L200.70,177.76 L201.00,176.73 L201.30,179.51 L201.60,178.95 L201.90,181.65 L202.20,184.17 L202.50,186.23 L202.80,188.23 L203.10,192.67 L203.40,194.53 L203.70,198.61 L204.00,201.94 L204.30,203.65 L204.60,208.40 L204.90,211.11 L205.20,214.74 L205.50,216.58 L205.80,219.34 L206.10,217.36 L206.40,220.97 L206.70,223.71 L207.00,225.92 L207.30,229.95 L207.60,230.88 L207.90,232.31 L208.20,231.58 L208.50,233.78 L208.80,237.15 L209.10,239.14 L209.40,241.36 L209.70,243.93 L210.00,245.55 L210.30,246.50 L210.60,251.25 L210.90,249.90 L211.20,252.55 L211.50,253.69 L211.80,254.92 L212.10,253.54 L212.40,253.38 L212.70,255.24 L213.00,255.84 L213.30,253.89 L213.60,254.51 L213.90,257.73 L214.20,259.10 L214.50,260.43 L214.80,262.37 L215.10,261.88 L215.40,266.71 L215.70,265.72 L216.00,267.01 L216.30,264.99 L216.60,261.54 L216.90,263.15 L217.20,261.14 L217.50,260.72 L217.80,258.62 L218.10,257.97 L218.40,254.79 L218.70,253.85 L219.00,252.75 L219.30,250.43 L219.60,249.25 L219.90,248.91 L220.20,248.84 L220.50,244.64 L220.80,243.67 L221.10,239.43 L221.40,238.07 L221.70,236.52 L222.00,234.39 L222.30,230.25 L222.60,229.19 L222.90,225.30 L223.20,222.87 L223.50,217.97 L223.80,213.04 L224.10,208.09 L224.40,205.81 L224.70,201.59 L225.00,198.63 L225.30,194.52 L225.60,192.11 L225.90,188.96 L226.20,186.93 L226.50,183.85 L226.80,179.10 L227.10,181.95 L227.40,183.99 L227.70,186.06 L228.00,186.58 L228.30,188.72 L228.60,189.87 L228.90,193.08 L229.20,193.18 L229.50,198.13 L229.80,198.35 L230.10,205.45 L230.40,206.40 L230.70,204.91 L231.00,208.43 L231.30,209.64 L231.60,211.66 L231.90,215.53 L232.20,217.40 L232.50,221.28 L232.80,221.39 L233.10,222.55 L233.40,225.70 L233.70,228.56 L234.00,231.35 L234.30,233.35 L234.60,232.83 L234.90,235.06 L235.20,237.25 L235.50,237.97 L235.80,240.89 L236.10,240.91 L236.40,242.40 L236.70,243.09 L237.00,244.44 L237.30,243.66 L237.60,248.46 L237.90,246.47 L238.20,247.20 L238.50,246.96 L238.80,249.57 L239.10,248.77 L239.40,251.21 L239.70,252.76 L240.00,252.72 L240.30,252.18 L240.60,254.63 L240.90,253.65 L241.20,254.41 L241.50,255.13 L241.80,255.14 L242.10,256.90 L242.40,256.00 L242.70,256.31 L243.00,260.42 L243.30,257.12 L243.60,256.34 L243.90,255.88 L244.20,253.69 L244.50,251.42 L244.80,250.99 L245.10,248.68 L245.40,249.03 L245.70,246.76 L246.00,245.76 L246.30,245.61 L246.60,241.61 L246.90,240.17 L247.20,241.07 L247.50,239.79 L247.80,236.42 L248.10,233.45 L248.40,233.44 L248.70,227.28 L249.00,222.42 L249.30,212.19 L249.60,206.51 L249.90,198.03 L250.20,192.38 L250.50,188.70 L250.80,193.78 L251.10,199.99 L251.40,201.95 L251.70,202.02 L252.00,198.84 L252.30,195.60 L252.60,193.89 L252.90,190.69 L253.20,186.21 L253.50,184.02 L253.80,181.88 L254.10,181.35 L254.40,178.48 L254.70,178.01 L255.00,179.28 L255.30,182.18 L255.60,188.90 L255.90,192.11 L256.20,195.24 L256.50,193.26 L256.80,196.55 L257.10,201.31 L257.40,200.23 L257.70,202.18 L258.00,206.79 L258.30,210.47 L258.60,211.56 L258.90,211.93 L259.20,215.66 L259.50,217.01 L259.80,218.35 L260.10,219.99 L260.40,221.84 L260.70,223.40 L261.00,224.83 L261.30,225.70 L261.60,226.02 L261.90,225.92 L262.20,230.25 L262.50,229.97 L262.80,236.76 L263.10,235.75 L263.40,237.70 L263.70,240.58 L264.00,246.00 L264.30,248.90 L264.60,252.27 L264.90,253.68 L265.20,254.33 L265.50,257.85 L265.80,260.54 L266.10,267.66 L266.40,274.82 L266.70,268.42 L267.00,264.22 L267.30,263.16 L267.60,262.74 L267.90,261.09 L268.20,258.32 L268.50,260.08 L268.80,255.47 L269.10,257.41 L269.40,256.53 L269.70,254.78 L270.00,253.84 L270.30,250.77 L270.60,251.17 L270.90,250.65 L271.20,247.66 L271.50,247.02 L271.80,244.89 L272.10,240.83 L272.40,240.81 L272.70,240.30 L273.00,236.18 L273.30,236.10 L273.60,234.63 L273.90,231.09 L274.20,230.40 L274.50,228.26 L274.80,223.67 L275.10,218.04 L275.40,217.22 L275.70,213.49 L276.00,209.91 L276.30,207.81 L276.60,203.37 L276.90,199.38 L277.20,197.58 L277.50,194.86 L277.80,193.12 L278.10,189.83 L278.40,187.27 L278.70,190.14 L279.00,190.04 L279.30,191.99 L279.60,193.72 L279.90,195.92 L280.20,198.52 L280.50,199.78 L280.80,204.03 L281.10,203.89 L281.40,203.36 L281.70,205.28 L282.00,204.75 L282.30,204.47 L282.60,204.49 L282.90,206.23 L283.20,203.49 L283.50,206.89 L283.80,209.02 L284.10,210.51 L284.40,213.47 L284.70,213.19 L285.00,215.09 L285.30,217.60 L285.60,218.53 L285.90,223.61 L286.20,223.46 L286.50,226.84 L286.80,228.99 L287.10,228.22 L287.40,230.52 L287.70,232.30 L288.00,236.18 L288.30,236.40 L288.60,236.49 L288.90,241.97 L289.20,244.33 L289.50,243.31 L289.80,244.31 L290.10,251.92 L290.40,250.97 L290.70,249.81 L291.00,254.17 L291.30,255.47 L291.60,252.22 L291.90,256.50 L292.20,256.19 L292.50,255.69 L292.80,255.37 L293.10,257.16 L293.40,256.46 L293.70,258.11 L294.00,258.51 L294.30,259.20 L294.60,261.18 L294.90,262.55 L295.20,263.35 L295.50,263.77 L295.80,266.02 L296.10,262.42 L296.40,262.67 L296.70,261.60 L297.00,261.51 L297.30,255.92 L297.60,256.11 L297.90,254.44 L298.20,252.95 L298.50,252.81 L298.80,248.20 L299.10,245.44 L299.40,243.12 L299.70,240.72 L300.00,236.46 L300.30,235.18 L300.60,227.62 L300.90,225.99 L301.20,222.40 L301.50,219.71 L301.80,216.79 L302.10,208.83 L302.40,203.66 L302.70,204.09 L303.00,203.74 L303.30,204.17 L303.60,205.01 L303.90,207.98 L304.20,205.77 L304.50,208.05 L304.80,205.84 L305.10,202.38 L305.40,196.04 L305.70,193.06 L306.00,188.31 L306.30,184.50 L306.60,180.07 L306.90,180.72 L307.20,182.40 L307.50,181.81 L307.80,183.21 L308.10,187.60 L308.40,189.61 L308.70,195.11 L309.00,202.83 L309.30,205.74 L309.60,209.34 L309.90,211.55 L310.20,212.20 L310.50,213.12 L310.80,213.17 L311.10,215.28 L311.40,213.32 L311.70,213.26 L312.00,215.00 L312.30,218.25 L312.60,218.48 L312.90,218.35 L313.20,225.78 L313.50,223.45 L313.80,226.06 L314.10,228.70 L314.40,230.37 L314.70,231.83 L315.00,232.35 L315.30,236.66 L315.60,236.86 L315.90,239.54 L316.20,242.36 L316.50,242.91 L316.80,243.17 L317.10,246.27 L317.40,249.39 L317.70,250.94 L318.00,249.94 L318.30,252.61 L318.60,254.07 L318.90,255.52 L319.20,255.39 L319.50,255.72 L319.80,255.69 L320.10,256.84 L320.40,257.46 L320.70,256.75 L321.00,256.91 L321.30,259.42 L321.60,257.77 L321.90,257.33 L322.20,259.52 L322.50,258.03 L322.80,258.80 L323.10,260.84 L323.40,259.27 L323.70,259.50 L324.00,258.87 L324.30,256.00 L324.60,256.18 L324.90,254.02 L325.20,253.21 L325.50,251.45 L325.80,249.29 L326.10,246.17 L326.40,246.10 L326.70,244.00 L327.00,242.75 L327.30,239.10 L327.60,238.06 L327.90,235.22 L328.20,232.58 L328.50,229.11 L328.80,224.73 L329.10,219.06 L329.40,215.46 L329.70,211.05 L330.00,208.72 L330.30,205.55 L330.60,204.75 L330.90,201.37 L331.20,198.74 L331.50,196.83 L331.80,193.26 L332.10,193.40 L332.40,192.97 L332.70,189.30 L333.00,190.63 L333.30,188.72 L333.60,187.99 L333.90,186.84 L334.20,187.16 L334.50,187.04 L334.80,188.62 L335.10,189.44 L335.40,190.20 L335.70,190.86 L336.00,195.44 L336.30,195.97 L336.60,200.10 L336.90,203.31 L337.20,205.53 L337.50,212.16 L337.80,213.38 L338.10,217.15 L338.40,218.83 L338.70,221.85 L339.00,222.53 L339.30,227.52 L339.60,229.66 L339.90,232.75 L340.20,237.33 L340.50,239.28 L340.80,239.64 L341.10,240.80 L341.40,241.40 L341.70,244.00 L342.00,247.11 L342.30,248.76" fill="none" stroke="#000" stroke-width="0.55"/>
<circle cx="95.68" cy="171.88" r="1.0" fill="#00f"/>
<circle cx="95.03" cy="171.45" r="1.0" fill="#00f"/>
<circle cx="93.95" cy="194.56" r="1.0" fill="#00f"/>
<circle cx="98.27" cy="186.57" r="1.0" fill="#00f"/>
<circle cx="97.63" cy="187.43" r="1.0" fill="#00f"/>
<circle cx="100.00" cy="200.17" r="1.0" fill="#00f"/>
<circle cx="100.65" cy="206.00" r="1.0" fill="#00f"/>
<circle cx="101.95" cy="212.27" r="1.0" fill="#00f"/>
<circle cx="102.59" cy="219.40" r="1.0" fill="#00f"/>
<circle cx="103.67" cy="225.44" r="1.0" fill="#00f"/>
<circle cx="91.79" cy="217.88" r="1.0" fill="#00f"/>
<circle cx="91.15" cy="221.56" r="1.0" fill="#00f"/>
<circle cx="90.07" cy="225.87" r="1.0" fill="#00f"/>
<circle cx="118.79" cy="228.90" r="1.0" fill="#00f"/>
<circle cx="120.52" cy="212.48" r="1.0" fill="#00f"/>
<circle cx="121.17" cy="211.84" r="1.0" fill="#00f"/>
<circle cx="122.25" cy="194.56" r="1.0" fill="#00f"/>
<circle cx="123.33" cy="185.92" r="1.0" fill="#00f"/>
<circle cx="123.76" cy="194.99" r="1.0" fill="#00f"/>
<circle cx="123.11" cy="195.64" r="1.0" fill="#00f"/>
<circle cx="125.27" cy="195.64" r="1.0" fill="#00f"/>
<circle cx="125.92" cy="201.04" r="1.0" fill="#00f"/>
<circle cx="126.78" cy="206.44" r="1.0" fill="#00f"/>
<circle cx="127.65" cy="210.11" r="1.0" fill="#00f"/>
<circle cx="128.94" cy="218.32" r="1.0" fill="#00f"/>
<circle cx="129.81" cy="225.87" r="1.0" fill="#00f"/>
<circle cx="28.73" cy="245.77" r="1.0" fill="#00f"/>
<circle cx="93.09" cy="232.81" r="1.0" fill="#00f"/>
<circle cx="89.63" cy="240.37" r="1.0" fill="#00f"/>
<circle cx="89.20" cy="246.41" r="1.0" fill="#00f"/>
<circle cx="87.48" cy="257.43" r="1.0" fill="#00f"/>
<circle cx="86.40" cy="260.89" r="1.0" fill="#00f"/>
<circle cx="85.32" cy="262.40" r="1.0" fill="#00f"/>
<circle cx="84.24" cy="259.16" r="1.0" fill="#00f"/>
<circle cx="104.32" cy="231.08" r="1.0" fill="#00f"/>
<circle cx="106.05" cy="243.61" r="1.0" fill="#00f"/>
<circle cx="107.56" cy="248.79" r="1.0" fill="#00f"/>
<circle cx="109.07" cy="256.57" r="1.0" fill="#00f"/>
<circle cx="109.72" cy="258.08" r="1.0" fill="#00f"/>
<circle cx="110.80" cy="259.37" r="1.0" fill="#00f"/>
<circle cx="111.88" cy="259.81" r="1.0" fill="#00f"/>
<circle cx="114.04" cy="262.40" r="1.0" fill="#00f"/>
<circle cx="115.55" cy="248.57" r="1.0" fill="#00f"/>
<circle cx="116.20" cy="240.15" r="1.0" fill="#00f"/>
<circle cx="117.28" cy="236.48" r="1.0" fill="#00f"/>
<circle cx="131.10" cy="233.89" r="1.0" fill="#00f"/>
<circle cx="132.83" cy="240.80" r="1.0" fill="#00f"/>
<circle cx="133.70" cy="245.77" r="1.0" fill="#00f"/>
<circle cx="143.64" cy="217.24" r="1.0" fill="#00f"/>
<circle cx="144.72" cy="212.27" r="1.0" fill="#00f"/>
<circle cx="145.37" cy="205.36" r="1.0" fill="#00f"/>
<circle cx="146.23" cy="205.79" r="1.0" fill="#00f"/>
<circle cx="147.10" cy="210.11" r="1.0" fill="#00f"/>
<circle cx="149.04" cy="204.92" r="1.0" fill="#00f"/>
<circle cx="149.25" cy="198.88" r="1.0" fill="#00f"/>
<circle cx="147.96" cy="187.65" r="1.0" fill="#00f"/>
<circle cx="150.12" cy="185.49" r="1.0" fill="#00f"/>
<circle cx="152.93" cy="202.55" r="1.0" fill="#00f"/>
<circle cx="154.65" cy="220.48" r="1.0" fill="#00f"/>
<circle cx="170.64" cy="220.91" r="1.0" fill="#00f"/>
<circle cx="171.72" cy="217.24" r="1.0" fill="#00f"/>
<circle cx="171.29" cy="212.48" r="1.0" fill="#00f"/>
<circle cx="172.80" cy="211.40" r="1.0" fill="#00f"/>
<circle cx="172.15" cy="207.95" r="1.0" fill="#00f"/>
<circle cx="173.88" cy="189.59" r="1.0" fill="#00f"/>
<circle cx="174.96" cy="190.67" r="1.0" fill="#00f"/>
<circle cx="176.47" cy="192.40" r="1.0" fill="#00f"/>
<circle cx="177.12" cy="193.91" r="1.0" fill="#00f"/>
<circle cx="177.76" cy="195.21" r="1.0" fill="#00f"/>
<circle cx="179.06" cy="204.28" r="1.0" fill="#00f"/>
<circle cx="179.92" cy="209.68" r="1.0" fill="#00f"/>
<circle cx="181.87" cy="222.20" r="1.0" fill="#00f"/>
<circle cx="196.56" cy="218.32" r="1.0" fill="#00f"/>
<circle cx="198.50" cy="215.08" r="1.0" fill="#00f"/>
<circle cx="200.44" cy="190.89" r="1.0" fill="#00f"/>
<circle cx="201.31" cy="183.33" r="1.0" fill="#00f"/>
<circle cx="203.03" cy="189.16" r="1.0" fill="#00f"/>
<circle cx="205.19" cy="214.00" r="1.0" fill="#00f"/>
<circle cx="206.71" cy="218.96" r="1.0" fill="#00f"/>
<circle cx="222.90" cy="222.63" r="1.0" fill="#00f"/>
<circle cx="224.63" cy="223.71" r="1.0" fill="#00f"/>
<circle cx="223.55" cy="210.11" r="1.0" fill="#00f"/>
<circle cx="225.71" cy="220.48" r="1.0" fill="#00f"/>
<circle cx="226.14" cy="202.76" r="1.0" fill="#00f"/>
<circle cx="227.22" cy="180.52" r="1.0" fill="#00f"/>
<circle cx="228.09" cy="189.16" r="1.0" fill="#00f"/>
<circle cx="229.38" cy="192.40" r="1.0" fill="#00f"/>
<circle cx="230.03" cy="205.79" r="1.0" fill="#00f"/>
<circle cx="231.76" cy="209.68" r="1.0" fill="#00f"/>
<circle cx="232.62" cy="212.92" r="1.0" fill="#00f"/>
<circle cx="233.49" cy="223.07" r="1.0" fill="#00f"/>
<circle cx="143.64" cy="236.48" r="1.0" fill="#00f"/>
<circle cx="142.78" cy="240.80" r="1.0" fill="#00f"/>
<circle cx="141.48" cy="248.36" r="1.0" fill="#00f"/>
<circle cx="135.65" cy="255.92" r="1.0" fill="#00f"/>
<circle cx="136.08" cy="258.08" r="1.0" fill="#00f"/>
<circle cx="138.67" cy="263.48" r="1.0" fill="#00f"/>
<circle cx="139.32" cy="259.16" r="1.0" fill="#00f"/>
<circle cx="137.59" cy="263.48" r="1.0" fill="#00f"/>
<circle cx="155.95" cy="236.91" r="1.0" fill="#00f"/>
<circle cx="160.27" cy="250.95" r="1.0" fill="#00f"/>
<circle cx="160.92" cy="252.25" r="1.0" fill="#00f"/>
<circle cx="163.08" cy="263.48" r="1.0" fill="#00f"/>
<circle cx="164.16" cy="260.24" r="1.0" fill="#00f"/>
<circle cx="165.24" cy="258.08" r="1.0" fill="#00f"/>
<circle cx="166.53" cy="254.84" r="1.0" fill="#00f"/>
<circle cx="167.83" cy="251.60" r="1.0" fill="#00f"/>
<circle cx="165.24" cy="257.00" r="1.0" fill="#00f"/>
<circle cx="169.13" cy="231.08" r="1.0" fill="#00f"/>
<circle cx="183.60" cy="237.56" r="1.0" fill="#00f"/>
<circle cx="185.32" cy="249.44" r="1.0" fill="#00f"/>
<circle cx="190.08" cy="269.96" r="1.0" fill="#00f"/>
<circle cx="190.72" cy="274.28" r="1.0" fill="#00f"/>
<circle cx="191.59" cy="274.28" r="1.0" fill="#00f"/>
<circle cx="189.64" cy="279.24" r="1.0" fill="#00f"/>
<circle cx="192.88" cy="261.32" r="1.0" fill="#00f"/>
<circle cx="193.75" cy="250.52" r="1.0" fill="#00f"/>
<circle cx="195.48" cy="232.59" r="1.0" fill="#00f"/>
<circle cx="196.56" cy="237.56" r="1.0" fill="#00f"/>
<circle cx="196.56" cy="233.89" r="1.0" fill="#00f"/>
<circle cx="197.63" cy="238.21" r="1.0" fill="#00f"/>
<circle cx="199.79" cy="238.21" r="1.0" fill="#00f"/>
<circle cx="208.43" cy="230.43" r="1.0" fill="#00f"/>
<circle cx="212.75" cy="250.52" r="1.0" fill="#00f"/>
<circle cx="215.56" cy="261.97" r="1.0" fill="#00f"/>
<circle cx="217.07" cy="264.56" r="1.0" fill="#00f"/>
<circle cx="218.15" cy="262.40" r="1.0" fill="#00f"/>
<circle cx="219.23" cy="255.92" r="1.0" fill="#00f"/>
<circle cx="219.88" cy="246.85" r="1.0" fill="#00f"/>
<circle cx="220.75" cy="246.20" r="1.0" fill="#00f"/>
<circle cx="222.47" cy="231.73" r="1.0" fill="#00f"/>
<circle cx="235.00" cy="239.72" r="1.0" fill="#00f"/>
<circle cx="236.08" cy="240.37" r="1.0" fill="#00f"/>
<circle cx="239.10" cy="250.52" r="1.0" fill="#00f"/>
<circle cx="240.18" cy="252.68" r="1.0" fill="#00f"/>
<circle cx="241.91" cy="257.65" r="1.0" fill="#00f"/>
<circle cx="249.48" cy="220.48" r="1.0" fill="#00f"/>
<circle cx="250.13" cy="204.28" r="1.0" fill="#00f"/>
<circle cx="251.64" cy="204.92" r="1.0" fill="#00f"/>
<circle cx="252.72" cy="195.64" r="1.0" fill="#00f"/>
<circle cx="253.80" cy="191.32" r="1.0" fill="#00f"/>
<circle cx="254.88" cy="191.32" r="1.0" fill="#00f"/>
<circle cx="254.45" cy="180.52" r="1.0" fill="#00f"/>
<circle cx="255.96" cy="197.15" r="1.0" fill="#00f"/>
<circle cx="257.25" cy="199.31" r="1.0" fill="#00f"/>
<circle cx="258.12" cy="206.44" r="1.0" fill="#00f"/>
<circle cx="258.77" cy="211.84" r="1.0" fill="#00f"/>
<circle cx="259.20" cy="216.59" r="1.0" fill="#00f"/>
<circle cx="259.85" cy="217.88" r="1.0" fill="#00f"/>
<circle cx="260.71" cy="220.04" r="1.0" fill="#00f"/>
<circle cx="262.01" cy="224.36" r="1.0" fill="#00f"/>
<circle cx="275.40" cy="210.76" r="1.0" fill="#00f"/>
<circle cx="276.48" cy="218.75" r="1.0" fill="#00f"/>
<circle cx="277.13" cy="210.11" r="1.0" fill="#00f"/>
<circle cx="277.99" cy="193.48" r="1.0" fill="#00f"/>
<circle cx="278.64" cy="190.24" r="1.0" fill="#00f"/>
<circle cx="279.72" cy="189.16" r="1.0" fill="#00f"/>
<circle cx="280.80" cy="188.51" r="1.0" fill="#00f"/>
<circle cx="281.88" cy="192.40" r="1.0" fill="#00f"/>
<circle cx="282.31" cy="190.24" r="1.0" fill="#00f"/>
<circle cx="282.96" cy="194.56" r="1.0" fill="#00f"/>
<circle cx="281.44" cy="203.20" r="1.0" fill="#00f"/>
<circle cx="282.31" cy="204.92" r="1.0" fill="#00f"/>
<circle cx="284.04" cy="202.76" r="1.0" fill="#00f"/>
<circle cx="285.55" cy="216.16" r="1.0" fill="#00f"/>
<circle cx="286.20" cy="225.23" r="1.0" fill="#00f"/>
<circle cx="287.28" cy="226.52" r="1.0" fill="#00f"/>
<circle cx="301.32" cy="220.04" r="1.0" fill="#00f"/>
<circle cx="301.75" cy="212.92" r="1.0" fill="#00f"/>
<circle cx="303.04" cy="196.72" r="1.0" fill="#00f"/>
<circle cx="304.12" cy="210.76" r="1.0" fill="#00f"/>
<circle cx="305.20" cy="210.11" r="1.0" fill="#00f"/>
<circle cx="304.56" cy="218.32" r="1.0" fill="#00f"/>
<circle cx="305.63" cy="194.56" r="1.0" fill="#00f"/>
<circle cx="306.50" cy="183.76" r="1.0" fill="#00f"/>
<circle cx="307.36" cy="180.52" r="1.0" fill="#00f"/>
<circle cx="308.23" cy="180.52" r="1.0" fill="#00f"/>
<circle cx="306.93" cy="182.25" r="1.0" fill="#00f"/>
<circle cx="308.87" cy="218.75" r="1.0" fill="#00f"/>
<circle cx="309.95" cy="211.84" r="1.0" fill="#00f"/>
<circle cx="311.25" cy="214.00" r="1.0" fill="#00f"/>
<circle cx="312.11" cy="213.56" r="1.0" fill="#00f"/>
<circle cx="311.68" cy="217.24" r="1.0" fill="#00f"/>
<circle cx="313.19" cy="220.91" r="1.0" fill="#00f"/>
<circle cx="313.84" cy="224.79" r="1.0" fill="#00f"/>
<circle cx="328.96" cy="224.36" r="1.0" fill="#00f"/>
<circle cx="329.83" cy="210.11" r="1.0" fill="#00f"/>
<circle cx="330.47" cy="199.96" r="1.0" fill="#00f"/>
<circle cx="331.12" cy="196.72" r="1.0" fill="#00f"/>
<circle cx="330.26" cy="192.40" r="1.0" fill="#00f"/>
<circle cx="332.20" cy="190.67" r="1.0" fill="#00f"/>
<circle cx="333.28" cy="191.97" r="1.0" fill="#00f"/>
<circle cx="334.14" cy="186.35" r="1.0" fill="#00f"/>
<circle cx="334.79" cy="190.67" r="1.0" fill="#00f"/>
<circle cx="335.44" cy="191.97" r="1.0" fill="#00f"/>
<circle cx="336.52" cy="194.99" r="1.0" fill="#00f"/>
<circle cx="336.95" cy="205.79" r="1.0" fill="#00f"/>
<circle cx="338.03" cy="210.76" r="1.0" fill="#00f"/>
<circle cx="338.46" cy="216.16" r="1.0" fill="#00f"/>
<circle cx="338.90" cy="225.87" r="1.0" fill="#00f"/>
<circle cx="244.08" cy="259.16" r="1.0" fill="#00f"/>
<circle cx="245.16" cy="253.76" r="1.0" fill="#00f"/>
<circle cx="246.24" cy="247.28" r="1.0" fill="#00f"/>
<circle cx="246.89" cy="245.12" r="1.0" fill="#00f"/>
<circle cx="247.75" cy="240.37" r="1.0" fill="#00f"/>
<circle cx="248.40" cy="236.91" r="1.0" fill="#00f"/>
<circle cx="262.44" cy="233.24" r="1.0" fill="#00f"/>
<circle cx="264.17" cy="251.60" r="1.0" fill="#00f"/>
<circle cx="265.25" cy="257.65" r="1.0" fill="#00f"/>
<circle cx="266.11" cy="261.97" r="1.0" fill="#00f"/>
<circle cx="266.76" cy="260.24" r="1.0" fill="#00f"/>
<circle cx="267.84" cy="257.65" r="1.0" fill="#00f"/>
<circle cx="268.92" cy="259.16" r="1.0" fill="#00f"/>
<circle cx="269.57" cy="257.00" r="1.0" fill="#00f"/>
<circle cx="271.08" cy="254.84" r="1.0" fill="#00f"/>
<circle cx="266.33" cy="284.64" r="1.0" fill="#00f"/>
<circle cx="288.79" cy="239.07" r="1.0" fill="#00f"/>
<circle cx="290.52" cy="251.60" r="1.0" fill="#00f"/>
<circle cx="291.60" cy="252.68" r="1.0" fill="#00f"/>
<circle cx="292.24" cy="255.92" r="1.0" fill="#00f"/>
<circle cx="293.11" cy="254.19" r="1.0" fill="#00f"/>
<circle cx="294.40" cy="258.08" r="1.0" fill="#00f"/>
<circle cx="294.84" cy="258.73" r="1.0" fill="#00f"/>
<circle cx="295.92" cy="263.48" r="1.0" fill="#00f"/>
<circle cx="297.00" cy="262.40" r="1.0" fill="#00f"/>
<circle cx="298.08" cy="254.84" r="1.0" fill="#00f"/>
<circle cx="299.16" cy="247.28" r="1.0" fill="#00f"/>
<circle cx="299.59" cy="238.64" r="1.0" fill="#00f"/>
<circle cx="300.88" cy="232.59" r="1.0" fill="#00f"/>
<circle cx="315.35" cy="239.07" r="1.0" fill="#00f"/>
<circle cx="316.43" cy="244.69" r="1.0" fill="#00f"/>
<circle cx="317.51" cy="247.28" r="1.0" fill="#00f"/>
<circle cx="318.59" cy="250.52" r="1.0" fill="#00f"/>
<circle cx="319.67" cy="252.68" r="1.0" fill="#00f"/>
<circle cx="320.32" cy="250.52" r="1.0" fill="#00f"/>
<circle cx="321.19" cy="255.92" r="1.0" fill="#00f"/>
<circle cx="321.83" cy="257.00" r="1.0" fill="#00f"/>
<circle cx="322.91" cy="258.08" r="1.0" fill="#00f"/>
<circle cx="323.99" cy="258.08" r="1.0" fill="#00f"/>
<circle cx="323.35" cy="263.48" r="1.0" fill="#00f"/>
<circle cx="324.64" cy="255.92" r="1.0" fill="#00f"/>
<circle cx="325.07" cy="250.52" r="1.0" fill="#00f"/>
<circle cx="326.15" cy="246.85" r="1.0" fill="#00f"/>
<circle cx="327.67" cy="240.80" r="1.0" fill="#00f"/>
<circle cx="328.31" cy="237.56" r="1.0" fill="#00f"/>
<circle cx="340.19" cy="239.07" r="1.0" fill="#00f"/>
<circle cx="341.27" cy="247.28" r="1.0" fill="#00f"/>
</g>
<clipPath id="c3"><rect x="367.50" y="13.30" width="126.90" height="129.20"/></clipPath>
<g clip-path="url(#c3)">
<rect x="480.80" y="28.22" width="1" height="1" fill="#f33"/>
<rect x="490.49" y="30.01" width="1" height="1" fill="#f33"/>
<rect x="470.92" y="39.88" width="1" height="1" fill="#f33"/>
<rect x="469.70" y="29.16" width="1" height="1" fill="#f33"/>
<rect x="463.67" y="57.45" width="1" height="1" fill="#f33"/>
<rect x="463.92" y="39.63" width="1" height="1" fill="#f33"/>
<rect x="464.02" y="34.48" width="1" height="1" fill="#f33"/>
<rect x="460.45" y="49.65" width="1" height="1" fill="#f33"/>
<rect x="465.29" y="46.24" width="1" height="1" fill="#f33"/>
<rect x="460.62" y="58.14" width="1" height="1" fill="#f33"/>
<rect x="463.87" y="42.94" width="1" height="1" fill="#f33"/>
<rect x="473.76" y="37.77" width="1" height="1" fill="#f33"/>
<rect x="475.83" y="28.72" width="1" height="1" fill="#f33"/>
<rect x="467.48" y="39.66" width="1" height="1" fill="#f33"/>
<rect x="472.45" y="31.10" width="1" height="1" fill="#f33"/>
<rect x="473.09" y="39.35" width="1" height="1" fill="#f33"/>
<rect x="477.94" y="34.06" width="1" height="1" fill="#f33"/>
<rect x="479.23" y="31.00" width="1" height="1" fill="#f33"/>
<rect x="489.56" y="26.05" width="1" height="1" fill="#f33"/>
<rect x="472.89" y="51.00" width="1" height="1" fill="#f33"/>
<rect x="474.49" y="30.00" width="1" height="1" fill="#f33"/>
<rect x="479.06" y="29.57" width="1" height="1" fill="#f33"/>
<rect x="471.76" y="48.66" width="1" height="1" fill="#f33"/>
<rect x="462.36" y="53.61" width="1" height="1" fill="#f33"/>
<rect x="466.85" y="47.26" width="1" height="1" fill="#f33"/>
<rect x="467.44" y="41.76" width="1" height="1" fill="#f33"/>
<rect x="468.78" y="46.81" width="1" height="1" fill="#f33"/>
<rect x="466.48" y="43.72" width="1" height="1" fill="#f33"/>
<rect x="466.53" y="36.22" width="1" height="1" fill="#f33"/>
<rect x="454.00" y="59.43" width="1" height="1" fill="#f33"/>
<rect x="456.09" y="45.43" width="1" height="1" fill="#f33"/>
<rect x="475.77" y="39.44" width="1" height="1" fill="#f33"/>
<rect x="471.63" y="33.64" width="1" height="1" fill="#f33"/>
<rect x="469.42" y="38.25" width="1" height="1" fill="#f33"/>
<rect x="459.12" y="53.85" width="1" height="1" fill="#f33"/>
<rect x="481.41" y="35.50" width="1" height="1" fill="#f33"/>
<rect x="490.76" y="31.27" width="1" height="1" fill="#f33"/>
<rect x="491.01" y="26.88" width="1" height="1" fill="#f33"/>
<rect x="484.72" y="22.14" width="1" height="1" fill="#f33"/>
<rect x="452.82" y="44.80" width="1" height="1" fill="#f33"/>
<rect x="453.11" y="55.55" width="1" height="1" fill="#f33"/>
<rect x="445.57" y="38.25" width="1" height="1" fill="#f33"/>
<rect x="439.70" y="52.43" width="1" height="1" fill="#f33"/>
<rect x="453.52" y="63.32" width="1" height="1" fill="#f33"/>
<rect x="457.45" y="31.38" width="1" height="1" fill="#f33"/>
<rect x="453.23" y="44.69" width="1" height="1" fill="#f33"/>
<rect x="447.22" y="65.43" width="1" height="1" fill="#f33"/>
<rect x="445.53" y="54.11" width="1" height="1" fill="#f33"/>
<rect x="444.35" y="51.62" width="1" height="1" fill="#f33"/>
<rect x="436.02" y="51.29" width="1" height="1" fill="#f33"/>
<rect x="429.22" y="61.88" width="1" height="1" fill="#f33"/>
<rect x="480.58" y="30.81" width="1" height="1" fill="#f33"/>
<rect x="479.41" y="37.73" width="1" height="1" fill="#f33"/>
<rect x="482.19" y="27.89" width="1" height="1" fill="#f33"/>
<rect x="473.08" y="44.53" width="1" height="1" fill="#f33"/>
<rect x="469.64" y="24.96" width="1" height="1" fill="#f33"/>
<rect x="463.66" y="46.97" width="1" height="1" fill="#f33"/>
<rect x="468.13" y="47.64" width="1" height="1" fill="#f33"/>
<rect x="461.48" y="52.47" width="1" height="1" fill="#f33"/>
<rect x="467.39" y="40.12" width="1" height="1" fill="#f33"/>
<rect x="467.39" y="43.53" width="1" height="1" fill="#f33"/>
<rect x="456.54" y="57.16" width="1" height="1" fill="#f33"/>
<rect x="483.21" y="42.25" width="1" height="1" fill="#f33"/>
<rect x="486.28" y="22.00" width="1" height="1" fill="#f33"/>
<rect x="486.71" y="31.36" width="1" height="1" fill="#f33"/>
<rect x="483.83" y="23.77" width="1" height="1" fill="#f33"/>
<rect x="475.57" y="46.85" width="1" height="1" fill="#f33"/>
<rect x="469.82" y="22.73" width="1" height="1" fill="#f33"/>
<rect x="467.32" y="40.12" width="1" height="1" fill="#f33"/>
<rect x="466.80" y="31.49" width="1" height="1" fill="#f33"/>
<rect x="466.70" y="40.02" width="1" height="1" fill="#f33"/>
<rect x="456.04" y="40.58" width="1" height="1" fill="#f33"/>
<rect x="459.02" y="40.99" width="1" height="1" fill="#f33"/>
<rect x="473.44" y="55.11" width="1" height="1" fill="#f33"/>
<rect x="460.44" y="59.67" width="1" height="1" fill="#f33"/>
<rect x="455.37" y="53.41" width="1" height="1" fill="#f33"/>
<rect x="461.27" y="45.89" width="1" height="1" fill="#f33"/>
<rect x="460.24" y="55.36" width="1" height="1" fill="#f33"/>
<rect x="483.06" y="30.81" width="1" height="1" fill="#f33"/>
<rect x="480.73" y="40.68" width="1" height="1" fill="#f33"/>
<rect x="479.31" y="41.77" width="1" height="1" fill="#f33"/>
<rect x="472.60" y="38.01" width="1" height="1" fill="#f33"/>
<rect x="458.37" y="53.09" width="1" height="1" fill="#f33"/>
<rect x="464.84" y="53.26" width="1" height="1" fill="#f33"/>
<rect x="456.41" y="66.85" width="1" height="1" fill="#f33"/>
<rect x="471.92" y="43.23" width="1" height="1" fill="#f33"/>
<rect x="464.00" y="64.01" width="1" height="1" fill="#f33"/>
<rect x="490.26" y="32.57" width="1" height="1" fill="#f33"/>
<rect x="490.07" y="44.47" width="1" height="1" fill="#f33"/>
<rect x="473.85" y="43.26" width="1" height="1" fill="#f33"/>
<rect x="467.93" y="32.53" width="1" height="1" fill="#f33"/>
<rect x="456.25" y="52.56" width="1" height="1" fill="#f33"/>
<rect x="452.03" y="77.35" width="1" height="1" fill="#f33"/>
<rect x="463.84" y="55.46" width="1" height="1" fill="#f33"/>
<rect x="469.30" y="29.92" width="1" height="1" fill="#f33"/>
<rect x="475.18" y="41.34" width="1" height="1" fill="#f33"/>
<rect x="475.96" y="39.08" width="1" height="1" fill="#f33"/>
<rect x="491.05" y="26.93" width="1" height="1" fill="#f33"/>
<rect x="480.25" y="39.19" width="1" height="1" fill="#f33"/>
<rect x="474.88" y="20.99" width="1" height="1" fill="#f33"/>
<rect x="471.34" y="38.68" width="1" height="1" fill="#f33"/>
<rect x="475.84" y="39.30" width="1" height="1" fill="#f33"/>
<rect x="471.32" y="38.33" width="1" height="1" fill="#f33"/>
<rect x="478.48" y="39.73" width="1" height="1" fill="#f33"/>
<rect x="482.65" y="29.22" width="1" height="1" fill="#f33"/>
<rect x="473.37" y="46.54" width="1" height="1" fill="#f33"/>
<rect x="478.18" y="39.50" width="1" height="1" fill="#f33"/>
<rect x="465.21" y="49.15" width="1" height="1" fill="#f33"/>
<rect x="457.72" y="41.30" width="1" height="1" fill="#f33"/>
<rect x="471.84" y="49.11" width="1" height="1" fill="#f33"/>
<rect x="458.17" y="39.80" width="1" height="1" fill="#f33"/>
<rect x="469.26" y="35.51" width="1" height="1" fill="#f33"/>
<rect x="460.97" y="46.10" width="1" height="1" fill="#f33"/>
<rect x="474.11" y="49.70" width="1" height="1" fill="#f33"/>
<rect x="477.53" y="36.87" width="1" height="1" fill="#f33"/>
<rect x="471.14" y="29.52" width="1" height="1" fill="#f33"/>
<rect x="482.30" y="24.04" width="1" height="1" fill="#f33"/>
<rect x="467.57" y="34.49" width="1" height="1" fill="#f33"/>
<rect x="469.96" y="39.60" width="1" height="1" fill="#f33"/>
<rect x="456.63" y="73.69" width="1" height="1" fill="#f33"/>
<rect x="450.20" y="53.26" width="1" height="1" fill="#f33"/>
<rect x="452.31" y="48.89" width="1" height="1" fill="#f33"/>
<rect x="448.08" y="51.93" width="1" height="1" fill="#f33"/>
<rect x="441.04" y="64.82" width="1" height="1" fill="#f33"/>
<rect x="441.42" y="62.75" width="1" height="1" fill="#f33"/>
<rect x="441.36" y="52.61" width="1" height="1" fill="#f33"/>
<rect x="457.22" y="46.37" width="1" height="1" fill="#f33"/>
<rect x="451.98" y="47.63" width="1" height="1" fill="#f33"/>
<rect x="446.88" y="52.76" width="1" height="1" fill="#f33"/>
<rect x="447.45" y="51.79" width="1" height="1" fill="#f33"/>
<rect x="443.20" y="74.54" width="1" height="1" fill="#f33"/>
<rect x="434.64" y="69.74" width="1" height="1" fill="#f33"/>
<rect x="449.45" y="44.20" width="1" height="1" fill="#f33"/>
<rect x="444.61" y="57.19" width="1" height="1" fill="#f33"/>
<rect x="437.35" y="61.09" width="1" height="1" fill="#f33"/>
<rect x="451.58" y="64.85" width="1" height="1" fill="#f33"/>
<rect x="434.34" y="77.09" width="1" height="1" fill="#f33"/>
<rect x="442.56" y="49.05" width="1" height="1" fill="#f33"/>
<rect x="480.35" y="34.69" width="1" height="1" fill="#f33"/>
<rect x="481.39" y="38.12" width="1" height="1" fill="#f33"/>
<rect x="482.21" y="22.95" width="1" height="1" fill="#f33"/>
<rect x="474.87" y="51.88" width="1" height="1" fill="#f33"/>
<rect x="471.65" y="29.64" width="1" height="1" fill="#f33"/>
<rect x="476.63" y="47.30" width="1" height="1" fill="#f33"/>
<rect x="474.49" y="40.44" width="1" height="1" fill="#f33"/>
<rect x="465.61" y="48.62" width="1" height="1" fill="#f33"/>
<rect x="459.80" y="65.53" width="1" height="1" fill="#f33"/>
<rect x="457.14" y="61.67" width="1" height="1" fill="#f33"/>
<rect x="457.15" y="28.47" width="1" height="1" fill="#f33"/>
<rect x="486.49" y="31.17" width="1" height="1" fill="#f33"/>
<rect x="467.21" y="46.01" width="1" height="1" fill="#f33"/>
<rect x="458.32" y="28.67" width="1" height="1" fill="#f33"/>
<rect x="460.24" y="54.33" width="1" height="1" fill="#f33"/>
<rect x="482.03" y="25.74" width="1" height="1" fill="#f33"/>
<rect x="471.07" y="44.43" width="1" height="1" fill="#f33"/>
<rect x="470.06" y="39.67" width="1" height="1" fill="#f33"/>
<rect x="456.83" y="52.94" width="1" height="1" fill="#f33"/>
<rect x="457.71" y="54.76" width="1" height="1" fill="#f33"/>
<rect x="477.03" y="21.25" width="1" height="1" fill="#f33"/>
<rect x="482.08" y="26.67" width="1" height="1" fill="#f33"/>
<rect x="474.44" y="38.31" width="1" height="1" fill="#f33"/>
<rect x="483.84" y="42.65" width="1" height="1" fill="#f33"/>
<rect x="489.36" y="29.60" width="1" height="1" fill="#f33"/>
<rect x="487.64" y="28.30" width="1" height="1" fill="#f33"/>
<rect x="474.24" y="24.78" width="1" height="1" fill="#f33"/>
<rect x="471.01" y="23.54" width="1" height="1" fill="#f33"/>
<rect x="462.34" y="54.82" width="1" height="1" fill="#f33"/>
<rect x="462.79" y="55.83" width="1" height="1" fill="#f33"/>
<rect x="473.68" y="28.15" width="1" height="1" fill="#f33"/>
<rect x="460.23" y="64.79" width="1" height="1" fill="#f33"/>
<rect x="474.35" y="22.96" width="1" height="1" fill="#f33"/>
<rect x="477.05" y="37.13" width="1" height="1" fill="#f33"/>
<rect x="462.58" y="48.30" width="1" height="1" fill="#f33"/>
<rect x="472.43" y="40.77" width="1" height="1" fill="#f33"/>
<rect x="482.79" y="31.98" width="1" height="1" fill="#f33"/>
<rect x="484.45" y="31.61" width="1" height="1" fill="#f33"/>
<rect x="461.11" y="35.93" width="1" height="1" fill="#f33"/>
<rect x="470.51" y="43.99" width="1" height="1" fill="#f33"/>
<rect x="481.52" y="34.90" width="1" height="1" fill="#f33"/>
<rect x="482.15" y="33.48" width="1" height="1" fill="#f33"/>
<rect x="492.06" y="29.79" width="1" height="1" fill="#f33"/>
<rect x="477.22" y="23.39" width="1" height="1" fill="#f33"/>
<rect x="478.62" y="25.97" width="1" height="1" fill="#f33"/>
<rect x="474.66" y="56.13" width="1" height="1" fill="#f33"/>
<rect x="467.54" y="40.43" width="1" height="1" fill="#f33"/>
<rect x="470.76" y="26.43" width="1" height="1" fill="#f33"/>
<rect x="464.24" y="46.51" width="1" height="1" fill="#f33"/>
<rect x="457.99" y="50.81" width="1" height="1" fill="#f33"/>
<rect x="461.45" y="39.44" width="1" height="1" fill="#f33"/>
<rect x="457.61" y="57.11" width="1" height="1" fill="#f33"/>
<rect x="471.86" y="27.59" width="1" height="1" fill="#f33"/>
<rect x="467.29" y="31.98" width="1" height="1" fill="#f33"/>
<rect x="476.08" y="27.13" width="1" height="1" fill="#f33"/>
<rect x="455.01" y="44.26" width="1" height="1" fill="#f33"/>
<rect x="465.57" y="45.18" width="1" height="1" fill="#f33"/>
<rect x="467.20" y="34.70" width="1" height="1" fill="#f33"/>
<rect x="474.80" y="37.47" width="1" height="1" fill="#f33"/>
<rect x="484.49" y="25.11" width="1" height="1" fill="#f33"/>
<rect x="482.76" y="39.92" width="1" height="1" fill="#f33"/>
<rect x="483.40" y="41.13" width="1" height="1" fill="#f33"/>
<rect x="479.49" y="38.64" width="1" height="1" fill="#f33"/>
<rect x="475.02" y="54.40" width="1" height="1" fill="#f33"/>
<rect x="488.82" y="31.10" width="1" height="1" fill="#f33"/>
<rect x="465.58" y="22.41" width="1" height="1" fill="#f33"/>
<rect x="487.10" y="48.53" width="1" height="1" fill="#f33"/>
<rect x="483.36" y="33.58" width="1" height="1" fill="#f33"/>
<rect x="483.93" y="27.22" width="1" height="1" fill="#f33"/>
<rect x="481.40" y="27.05" width="1" height="1" fill="#f33"/>
<rect x="488.25" y="35.61" width="1" height="1" fill="#f33"/>
<rect x="485.13" y="33.83" width="1" height="1" fill="#f33"/>
<rect x="468.87" y="32.02" width="1" height="1" fill="#f33"/>
<rect x="477.96" y="33.33" width="1" height="1" fill="#f33"/>
<rect x="464.13" y="64.23" width="1" height="1" fill="#f33"/>
<rect x="466.43" y="43.50" width="1" height="1" fill="#f33"/>
<rect x="468.75" y="41.42" width="1" height="1" fill="#f33"/>
<rect x="473.51" y="37.60" width="1" height="1" fill="#f33"/>
<rect x="481.17" y="28.17" width="1" height="1" fill="#f33"/>
<rect x="466.37" y="40.86" width="1" height="1" fill="#f33"/>
<rect x="461.74" y="49.79" width="1" height="1" fill="#f33"/>
<rect x="476.71" y="37.34" width="1" height="1" fill="#f33"/>
<rect x="461.52" y="39.94" width="1" height="1" fill="#f33"/>
<rect x="461.16" y="72.03" width="1" height="1" fill="#f33"/>
<rect x="469.05" y="42.58" width="1" height="1" fill="#f33"/>
<rect x="469.45" y="30.99" width="1" height="1" fill="#f33"/>
<rect x="454.83" y="47.02" width="1" height="1" fill="#f33"/>
<rect x="455.66" y="40.49" width="1" height="1" fill="#f33"/>
<rect x="466.27" y="43.65" width="1" height="1" fill="#f33"/>
<rect x="474.94" y="37.25" width="1" height="1" fill="#f33"/>
<rect x="477.64" y="52.65" width="1" height="1" fill="#f33"/>
<rect x="462.78" y="35.22" width="1" height="1" fill="#f33"/>
<rect x="469.84" y="50.18" width="1" height="1" fill="#f33"/>
<rect x="472.05" y="32.76" width="1" height="1" fill="#f33"/>
<rect x="451.35" y="53.71" width="1" height="1" fill="#f33"/>
<rect x="455.64" y="61.60" width="1" height="1" fill="#f33"/>
<rect x="449.96" y="73.62" width="1" height="1" fill="#f33"/>
<rect x="434.97" y="72.97" width="1" height="1" fill="#f33"/>
<rect x="440.65" y="68.35" width="1" height="1" fill="#f33"/>
<rect x="448.46" y="57.65" width="1" height="1" fill="#f33"/>
<rect x="445.52" y="35.90" width="1" height="1" fill="#f33"/>
<rect x="447.39" y="73.79" width="1" height="1" fill="#f33"/>
<rect x="436.29" y="73.97" width="1" height="1" fill="#f33"/>
<rect x="457.44" y="61.55" width="1" height="1" fill="#f33"/>
<rect x="446.32" y="73.29" width="1" height="1" fill="#f33"/>
<rect x="443.56" y="69.42" width="1" height="1" fill="#f33"/>
<rect x="443.52" y="63.08" width="1" height="1" fill="#f33"/>
<rect x="427.16" y="60.09" width="1" height="1" fill="#f33"/>
<rect x="437.34" y="39.98" width="1" height="1" fill="#f33"/>
<rect x="441.39" y="68.71" width="1" height="1" fill="#f33"/>
<rect x="449.56" y="65.82" width="1" height="1" fill="#f33"/>
<rect x="447.34" y="58.56" width="1" height="1" fill="#f33"/>
<rect x="453.56" y="51.96" width="1" height="1" fill="#f33"/>
<rect x="447.24" y="72.71" width="1" height="1" fill="#f33"/>
<rect x="452.90" y="52.70" width="1" height="1" fill="#f33"/>
<rect x="450.53" y="52.31" width="1" height="1" fill="#f33"/>
<rect x="451.80" y="44.12" width="1" height="1" fill="#f33"/>
<rect x="486.12" y="23.69" width="1" height="1" fill="#f33"/>
<rect x="484.36" y="33.06" width="1" height="1" fill="#f33"/>
<rect x="466.19" y="56.19" width="1" height="1" fill="#f33"/>
<rect x="468.74" y="44.53" width="1" height="1" fill="#f33"/>
<rect x="467.22" y="44.97" width="1" height="1" fill="#f33"/>
<rect x="475.12" y="46.07" width="1" height="1" fill="#f33"/>
<rect x="464.30" y="47.28" width="1" height="1" fill="#f33"/>
<rect x="478.67" y="34.88" width="1" height="1" fill="#f33"/>
<rect x="474.21" y="31.94" width="1" height="1" fill="#f33"/>
<rect x="482.33" y="22.15" width="1" height="1" fill="#f33"/>
<rect x="480.92" y="42.96" width="1" height="1" fill="#f33"/>
<rect x="461.36" y="58.33" width="1" height="1" fill="#f33"/>
<rect x="470.06" y="26.03" width="1" height="1" fill="#f33"/>
<rect x="462.12" y="57.50" width="1" height="1" fill="#f33"/>
<rect x="453.64" y="24.02" width="1" height="1" fill="#f33"/>
<rect x="470.64" y="29.02" width="1" height="1" fill="#f33"/>
<rect x="472.31" y="30.46" width="1" height="1" fill="#f33"/>
<rect x="484.98" y="20.83" width="1" height="1" fill="#f33"/>
<rect x="489.66" y="38.50" width="1" height="1" fill="#f33"/>
<rect x="453.30" y="61.05" width="1" height="1" fill="#f33"/>
<rect x="438.10" y="59.98" width="1" height="1" fill="#f33"/>
<rect x="452.06" y="51.09" width="1" height="1" fill="#f33"/>
<rect x="442.83" y="52.48" width="1" height="1" fill="#f33"/>
<rect x="434.88" y="61.93" width="1" height="1" fill="#f33"/>
<rect x="425.55" y="81.91" width="1" height="1" fill="#f33"/>
<rect x="476.98" y="25.60" width="1" height="1" fill="#f33"/>
<rect x="466.44" y="38.24" width="1" height="1" fill="#f33"/>
<rect x="462.93" y="57.00" width="1" height="1" fill="#f33"/>
<rect x="460.80" y="49.04" width="1" height="1" fill="#f33"/>
<rect x="463.15" y="46.16" width="1" height="1" fill="#f33"/>
<rect x="469.41" y="43.37" width="1" height="1" fill="#f33"/>
<rect x="460.50" y="41.95" width="1" height="1" fill="#f33"/>
<rect x="482.50" y="28.66" width="1" height="1" fill="#f33"/>
<rect x="487.74" y="29.39" width="1" height="1" fill="#f33"/>
<rect x="489.86" y="28.51" width="1" height="1" fill="#f33"/>
<rect x="483.39" y="23.05" width="1" height="1" fill="#f33"/>
<rect x="467.06" y="21.15" width="1" height="1" fill="#f33"/>
<rect x="463.60" y="44.11" width="1" height="1" fill="#f33"/>
<rect x="467.00" y="55.24" width="1" height="1" fill="#f33"/>
<rect x="460.47" y="64.65" width="1" height="1" fill="#f33"/>
<rect x="461.46" y="43.47" width="1" height="1" fill="#f33"/>
<rect x="485.60" y="21.93" width="1" height="1" fill="#f33"/>
<rect x="463.30" y="29.01" width="1" height="1" fill="#f33"/>
<rect x="466.06" y="21.97" width="1" height="1" fill="#f33"/>
<rect x="486.21" y="23.37" width="1" height="1" fill="#f33"/>
<rect x="461.77" y="61.04" width="1" height="1" fill="#f33"/>
<rect x="489.44" y="26.88" width="1" height="1" fill="#f33"/>
<rect x="488.26" y="26.36" width="1" height="1" fill="#f33"/>
<rect x="466.84" y="37.35" width="1" height="1" fill="#f33"/>
<rect x="470.42" y="46.23" width="1" height="1" fill="#f33"/>
<rect x="473.37" y="38.37" width="1" height="1" fill="#f33"/>
<rect x="465.06" y="33.00" width="1" height="1" fill="#f33"/>
<rect x="464.22" y="37.29" width="1" height="1" fill="#f33"/>
<rect x="475.96" y="39.89" width="1" height="1" fill="#f33"/>
<rect x="452.10" y="49.59" width="1" height="1" fill="#f33"/>
<rect x="440.34" y="59.50" width="1" height="1" fill="#f33"/>
<rect x="436.18" y="59.41" width="1" height="1" fill="#f33"/>
<rect x="439.36" y="53.31" width="1" height="1" fill="#f33"/>
<rect x="452.33" y="67.07" width="1" height="1" fill="#f33"/>
<rect x="443.35" y="60.47" width="1" height="1" fill="#f33"/>
<rect x="443.13" y="63.38" width="1" height="1" fill="#f33"/>
<rect x="427.81" y="70.84" width="1" height="1" fill="#f33"/>
<rect x="448.17" y="57.50" width="1" height="1" fill="#f33"/>
<rect x="440.25" y="38.99" width="1" height="1" fill="#f33"/>
<rect x="482.30" y="37.97" width="1" height="1" fill="#f33"/>
<rect x="472.22" y="41.17" width="1" height="1" fill="#f33"/>
<rect x="478.21" y="34.80" width="1" height="1" fill="#f33"/>
<rect x="468.45" y="45.51" width="1" height="1" fill="#f33"/>
<rect x="462.54" y="47.30" width="1" height="1" fill="#f33"/>
<rect x="477.09" y="20.78" width="1" height="1" fill="#f33"/>
<rect x="469.34" y="31.34" width="1" height="1" fill="#f33"/>
<rect x="460.37" y="39.24" width="1" height="1" fill="#f33"/>
<rect x="473.40" y="41.13" width="1" height="1" fill="#f33"/>
<rect x="453.74" y="44.45" width="1" height="1" fill="#f33"/>
<rect x="486.55" y="28.42" width="1" height="1" fill="#f33"/>
<rect x="476.45" y="29.41" width="1" height="1" fill="#f33"/>
<rect x="490.84" y="21.65" width="1" height="1" fill="#f33"/>
<rect x="473.17" y="50.96" width="1" height="1" fill="#f33"/>
<rect x="459.99" y="45.27" width="1" height="1" fill="#f33"/>
<rect x="479.27" y="46.87" width="1" height="1" fill="#f33"/>
<rect x="475.62" y="43.55" width="1" height="1" fill="#f33"/>
<rect x="465.16" y="27.17" width="1" height="1" fill="#f33"/>
<rect x="476.83" y="37.49" width="1" height="1" fill="#f33"/>
<rect x="485.88" y="21.31" width="1" height="1" fill="#f33"/>
<rect x="464.85" y="40.48" width="1" height="1" fill="#f33"/>
<rect x="478.26" y="25.80" width="1" height="1" fill="#f33"/>
<rect x="477.98" y="38.03" width="1" height="1" fill="#f33"/>
<rect x="468.05" y="46.14" width="1" height="1" fill="#f33"/>
<rect x="464.18" y="42.71" width="1" height="1" fill="#f33"/>
<rect x="455.49" y="30.76" width="1" height="1" fill="#f33"/>
<rect x="460.38" y="52.18" width="1" height="1" fill="#f33"/>
<rect x="474.74" y="28.00" width="1" height="1" fill="#f33"/>
<rect x="451.87" y="70.84" width="1" height="1" fill="#f33"/>
<rect x="468.92" y="32.32" width="1" height="1" fill="#f33"/>
<rect x="468.16" y="48.22" width="1" height="1" fill="#f33"/>
<rect x="473.56" y="39.21" width="1" height="1" fill="#f33"/>
<rect x="468.19" y="51.07" width="1" height="1" fill="#f33"/>
<rect x="483.23" y="30.20" width="1" height="1" fill="#f33"/>
<rect x="480.52" y="39.64" width="1" height="1" fill="#f33"/>
<rect x="488.46" y="28.22" width="1" height="1" fill="#f33"/>
<rect x="467.84" y="35.20" width="1" height="1" fill="#f33"/>
<rect x="468.82" y="37.81" width="1" height="1" fill="#f33"/>
<rect x="466.08" y="46.47" width="1" height="1" fill="#f33"/>
<rect x="461.75" y="51.19" width="1" height="1" fill="#f33"/>
<rect x="463.16" y="42.64" width="1" height="1" fill="#f33"/>
<rect x="454.22" y="52.72" width="1" height="1" fill="#f33"/>
<rect x="462.83" y="39.27" width="1" height="1" fill="#f33"/>
<rect x="472.14" y="37.12" width="1" height="1" fill="#f33"/>
<rect x="432.76" y="43.16" width="1" height="1" fill="#f33"/>
<rect x="446.26" y="54.80" width="1" height="1" fill="#f33"/>
<rect x="445.75" y="54.39" width="1" height="1" fill="#f33"/>
<rect x="448.39" y="65.79" width="1" height="1" fill="#f33"/>
<rect x="444.77" y="56.08" width="1" height="1" fill="#f33"/>
<rect x="448.05" y="56.62" width="1" height="1" fill="#f33"/>
<rect x="437.59" y="49.56" width="1" height="1" fill="#f33"/>
<rect x="452.65" y="56.28" width="1" height="1" fill="#f33"/>
<rect x="454.18" y="57.47" width="1" height="1" fill="#f33"/>
<rect x="378.00" y="63.30" width="1" height="1" fill="#f33"/>
<rect x="381.00" y="69.30" width="1" height="1" fill="#f33"/>
<rect x="392.50" y="54.00" width="1" height="1" fill="#f33"/>
<rect x="410.80" y="62.20" width="1" height="1" fill="#f33"/>
<rect x="428.10" y="42.70" width="1" height="1" fill="#f33"/>
<rect x="427.00" y="51.40" width="1" height="1" fill="#f33"/>
<rect x="428.10" y="61.10" width="1" height="1" fill="#f33"/>
<rect x="417.30" y="78.00" width="1" height="1" fill="#f33"/>
<rect x="426.60" y="80.10" width="1" height="1" fill="#f33"/>
<rect x="426.40" y="98.30" width="1" height="1" fill="#f33"/>
<rect x="437.90" y="96.10" width="1" height="1" fill="#f33"/>
<rect x="438.90" y="88.10" width="1" height="1" fill="#f33"/>
<rect x="442.60" y="85.30" width="1" height="1" fill="#f33"/>
<rect x="444.30" y="43.40" width="1" height="1" fill="#f33"/>
<rect x="377.63" y="98.32" width="1.2" height="1.2" fill="#222"/>
<rect x="381.21" y="96.33" width="1.2" height="1.2" fill="#222"/>
<rect x="391.93" y="92.92" width="1.2" height="1.2" fill="#222"/>
<rect x="410.51" y="89.40" width="1.2" height="1.2" fill="#222"/>
<rect x="417.31" y="87.99" width="1.2" height="1.2" fill="#222"/>
<rect x="426.08" y="86.93" width="1.2" height="1.2" fill="#222"/>
<rect x="427.35" y="78.85" width="1.3" height="1.3" fill="#222"/>
<rect x="428.25" y="77.95" width="1.3" height="1.3" fill="#222"/>
<path d="M433.00,74.90 L436.50,73.50 L440.00,72.10 L444.00,68.50 L447.80,65.20 L450.60,60.60" fill="none" stroke="#111" stroke-width="1.15"/>
<path d="M450.60,60.60 L455.30,55.50 L460.80,48.70 L467.60,41.90 L474.30,35.10 L479.80,31.00 L483.90,25.60 L486.60,23.40" fill="none" stroke="#111" stroke-width="1.5"/>
</g>
<clipPath id="c4"><rect x="367.50" y="166.50" width="127.00" height="129.80"/></clipPath>
<g clip-path="url(#c4)">
<rect x="477.99" y="179.61" width="1" height="1" fill="#33f"/>
<rect x="479.31" y="184.59" width="1" height="1" fill="#33f"/>
<rect x="456.85" y="206.30" width="1" height="1" fill="#33f"/>
<rect x="464.57" y="188.66" width="1" height="1" fill="#33f"/>
<rect x="462.52" y="191.91" width="1" height="1" fill="#33f"/>
<rect x="451.45" y="205.24" width="1" height="1" fill="#33f"/>
<rect x="446.26" y="214.52" width="1" height="1" fill="#33f"/>
<rect x="438.31" y="230.42" width="1" height="1" fill="#33f"/>
<rect x="432.63" y="214.15" width="1" height="1" fill="#33f"/>
<rect x="427.54" y="226.78" width="1" height="1" fill="#33f"/>
<rect x="436.48" y="227.47" width="1" height="1" fill="#33f"/>
<rect x="430.69" y="232.24" width="1" height="1" fill="#33f"/>
<rect x="426.52" y="233.92" width="1" height="1" fill="#33f"/>
<rect x="423.31" y="233.30" width="1" height="1" fill="#33f"/>
<rect x="440.32" y="216.79" width="1" height="1" fill="#33f"/>
<rect x="441.14" y="213.90" width="1" height="1" fill="#33f"/>
<rect x="457.90" y="200.48" width="1" height="1" fill="#33f"/>
<rect x="466.28" y="189.20" width="1" height="1" fill="#33f"/>
<rect x="455.24" y="208.04" width="1" height="1" fill="#33f"/>
<rect x="455.35" y="202.63" width="1" height="1" fill="#33f"/>
<rect x="455.81" y="204.13" width="1" height="1" fill="#33f"/>
<rect x="449.89" y="213.85" width="1" height="1" fill="#33f"/>
<rect x="445.62" y="214.40" width="1" height="1" fill="#33f"/>
<rect x="443.08" y="221.93" width="1" height="1" fill="#33f"/>
<rect x="433.80" y="230.20" width="1" height="1" fill="#33f"/>
<rect x="424.93" y="244.48" width="1" height="1" fill="#33f"/>
<rect x="405.40" y="261.82" width="1" height="1" fill="#33f"/>
<rect x="419.11" y="247.32" width="1" height="1" fill="#33f"/>
<rect x="412.06" y="245.58" width="1" height="1" fill="#33f"/>
<rect x="407.61" y="261.18" width="1" height="1" fill="#33f"/>
<rect x="396.75" y="264.78" width="1" height="1" fill="#33f"/>
<rect x="392.54" y="260.66" width="1" height="1" fill="#33f"/>
<rect x="391.80" y="267.93" width="1" height="1" fill="#33f"/>
<rect x="394.24" y="271.12" width="1" height="1" fill="#33f"/>
<rect x="420.79" y="242.13" width="1" height="1" fill="#33f"/>
<rect x="408.17" y="253.45" width="1" height="1" fill="#33f"/>
<rect x="403.68" y="267.57" width="1" height="1" fill="#33f"/>
<rect x="397.95" y="265.01" width="1" height="1" fill="#33f"/>
<rect x="396.26" y="268.62" width="1" height="1" fill="#33f"/>
<rect x="394.19" y="270.53" width="1" height="1" fill="#33f"/>
<rect x="390.13" y="271.80" width="1" height="1" fill="#33f"/>
<rect x="404.43" y="249.79" width="1" height="1" fill="#33f"/>
<rect x="413.03" y="245.15" width="1" height="1" fill="#33f"/>
<rect x="417.05" y="239.49" width="1" height="1" fill="#33f"/>
<rect x="419.38" y="241.57" width="1" height="1" fill="#33f"/>
<rect x="412.20" y="251.85" width="1" height="1" fill="#33f"/>
<rect x="407.68" y="259.64" width="1" height="1" fill="#33f"/>
<rect x="436.52" y="231.94" width="1" height="1" fill="#33f"/>
<rect x="439.95" y="215.56" width="1" height="1" fill="#33f"/>
<rect x="445.43" y="210.89" width="1" height="1" fill="#33f"/>
<rect x="446.06" y="219.15" width="1" height="1" fill="#33f"/>
<rect x="442.18" y="238.64" width="1" height="1" fill="#33f"/>
<rect x="446.14" y="216.98" width="1" height="1" fill="#33f"/>
<rect x="451.59" y="222.83" width="1" height="1" fill="#33f"/>
<rect x="464.52" y="192.84" width="1" height="1" fill="#33f"/>
<rect x="466.00" y="191.59" width="1" height="1" fill="#33f"/>
<rect x="447.34" y="226.17" width="1" height="1" fill="#33f"/>
<rect x="433.05" y="222.86" width="1" height="1" fill="#33f"/>
<rect x="430.92" y="238.04" width="1" height="1" fill="#33f"/>
<rect x="435.48" y="225.92" width="1" height="1" fill="#33f"/>
<rect x="439.98" y="220.25" width="1" height="1" fill="#33f"/>
<rect x="440.44" y="235.84" width="1" height="1" fill="#33f"/>
<rect x="444.05" y="216.08" width="1" height="1" fill="#33f"/>
<rect x="460.98" y="199.26" width="1" height="1" fill="#33f"/>
<rect x="461.50" y="207.90" width="1" height="1" fill="#33f"/>
<rect x="458.14" y="198.47" width="1" height="1" fill="#33f"/>
<rect x="458.75" y="202.59" width="1" height="1" fill="#33f"/>
<rect x="454.78" y="208.53" width="1" height="1" fill="#33f"/>
<rect x="447.93" y="208.73" width="1" height="1" fill="#33f"/>
<rect x="442.48" y="213.12" width="1" height="1" fill="#33f"/>
<rect x="430.26" y="230.30" width="1" height="1" fill="#33f"/>
<rect x="434.99" y="221.05" width="1" height="1" fill="#33f"/>
<rect x="437.42" y="218.40" width="1" height="1" fill="#33f"/>
<rect x="460.67" y="198.52" width="1" height="1" fill="#33f"/>
<rect x="468.69" y="194.44" width="1" height="1" fill="#33f"/>
<rect x="462.84" y="187.11" width="1" height="1" fill="#33f"/>
<rect x="438.90" y="213.14" width="1" height="1" fill="#33f"/>
<rect x="431.93" y="225.01" width="1" height="1" fill="#33f"/>
<rect x="431.12" y="228.12" width="1" height="1" fill="#33f"/>
<rect x="428.31" y="238.90" width="1" height="1" fill="#33f"/>
<rect x="444.19" y="228.46" width="1" height="1" fill="#33f"/>
<rect x="432.83" y="235.16" width="1" height="1" fill="#33f"/>
<rect x="449.78" y="210.70" width="1" height="1" fill="#33f"/>
<rect x="471.58" y="186.88" width="1" height="1" fill="#33f"/>
<rect x="461.92" y="193.44" width="1" height="1" fill="#33f"/>
<rect x="459.85" y="189.18" width="1" height="1" fill="#33f"/>
<rect x="444.45" y="218.13" width="1" height="1" fill="#33f"/>
<rect x="442.39" y="229.05" width="1" height="1" fill="#33f"/>
<rect x="440.15" y="236.50" width="1" height="1" fill="#33f"/>
<rect x="431.50" y="222.94" width="1" height="1" fill="#33f"/>
<rect x="416.31" y="252.88" width="1" height="1" fill="#33f"/>
<rect x="413.64" y="247.21" width="1" height="1" fill="#33f"/>
<rect x="404.28" y="254.74" width="1" height="1" fill="#33f"/>
<rect x="398.05" y="268.30" width="1" height="1" fill="#33f"/>
<rect x="395.11" y="260.49" width="1" height="1" fill="#33f"/>
<rect x="390.17" y="270.20" width="1" height="1" fill="#33f"/>
<rect x="394.52" y="270.97" width="1" height="1" fill="#33f"/>
<rect x="388.92" y="275.47" width="1" height="1" fill="#33f"/>
<rect x="416.54" y="243.53" width="1" height="1" fill="#33f"/>
<rect x="402.38" y="259.36" width="1" height="1" fill="#33f"/>
<rect x="400.52" y="259.13" width="1" height="1" fill="#33f"/>
<rect x="391.02" y="273.30" width="1" height="1" fill="#33f"/>
<rect x="392.78" y="262.22" width="1" height="1" fill="#33f"/>
<rect x="396.66" y="266.34" width="1" height="1" fill="#33f"/>
<rect x="398.93" y="258.35" width="1" height="1" fill="#33f"/>
<rect x="402.23" y="256.36" width="1" height="1" fill="#33f"/>
<rect x="397.48" y="266.01" width="1" height="1" fill="#33f"/>
<rect x="419.87" y="230.49" width="1" height="1" fill="#33f"/>
<rect x="414.83" y="250.41" width="1" height="1" fill="#33f"/>
<rect x="404.29" y="243.90" width="1" height="1" fill="#33f"/>
<rect x="391.41" y="274.54" width="1" height="1" fill="#33f"/>
<rect x="404.30" y="256.33" width="1" height="1" fill="#33f"/>
<rect x="419.17" y="250.11" width="1" height="1" fill="#33f"/>
<rect x="416.13" y="236.18" width="1" height="1" fill="#33f"/>
<rect x="418.97" y="246.82" width="1" height="1" fill="#33f"/>
<rect x="415.86" y="246.55" width="1" height="1" fill="#33f"/>
<rect x="416.98" y="234.34" width="1" height="1" fill="#33f"/>
<rect x="422.57" y="229.89" width="1" height="1" fill="#33f"/>
<rect x="404.66" y="260.74" width="1" height="1" fill="#33f"/>
<rect x="388.65" y="274.78" width="1" height="1" fill="#33f"/>
<rect x="390.41" y="277.37" width="1" height="1" fill="#33f"/>
<rect x="391.80" y="275.38" width="1" height="1" fill="#33f"/>
<rect x="398.13" y="266.34" width="1" height="1" fill="#33f"/>
<rect x="406.24" y="257.17" width="1" height="1" fill="#33f"/>
<rect x="407.38" y="259.94" width="1" height="1" fill="#33f"/>
<rect x="421.73" y="248.80" width="1" height="1" fill="#33f"/>
<rect x="411.31" y="253.68" width="1" height="1" fill="#33f"/>
<rect x="413.31" y="244.75" width="1" height="1" fill="#33f"/>
<rect x="403.82" y="256.00" width="1" height="1" fill="#33f"/>
<rect x="401.08" y="263.03" width="1" height="1" fill="#33f"/>
<rect x="394.53" y="261.68" width="1" height="1" fill="#33f"/>
<rect x="432.34" y="231.31" width="1" height="1" fill="#33f"/>
<rect x="448.10" y="199.01" width="1" height="1" fill="#33f"/>
<rect x="447.00" y="217.18" width="1" height="1" fill="#33f"/>
<rect x="455.93" y="204.56" width="1" height="1" fill="#33f"/>
<rect x="459.71" y="194.87" width="1" height="1" fill="#33f"/>
<rect x="459.04" y="206.18" width="1" height="1" fill="#33f"/>
<rect x="471.80" y="183.39" width="1" height="1" fill="#33f"/>
<rect x="454.97" y="202.21" width="1" height="1" fill="#33f"/>
<rect x="451.80" y="211.99" width="1" height="1" fill="#33f"/>
<rect x="447.16" y="214.11" width="1" height="1" fill="#33f"/>
<rect x="439.84" y="218.18" width="1" height="1" fill="#33f"/>
<rect x="436.65" y="219.24" width="1" height="1" fill="#33f"/>
<rect x="434.98" y="230.76" width="1" height="1" fill="#33f"/>
<rect x="430.06" y="231.82" width="1" height="1" fill="#33f"/>
<rect x="428.05" y="236.76" width="1" height="1" fill="#33f"/>
<rect x="441.00" y="210.69" width="1" height="1" fill="#33f"/>
<rect x="434.62" y="232.38" width="1" height="1" fill="#33f"/>
<rect x="442.98" y="220.07" width="1" height="1" fill="#33f"/>
<rect x="457.30" y="206.61" width="1" height="1" fill="#33f"/>
<rect x="460.61" y="198.24" width="1" height="1" fill="#33f"/>
<rect x="463.16" y="198.64" width="1" height="1" fill="#33f"/>
<rect x="462.64" y="201.22" width="1" height="1" fill="#33f"/>
<rect x="460.66" y="192.57" width="1" height="1" fill="#33f"/>
<rect x="460.51" y="195.75" width="1" height="1" fill="#33f"/>
<rect x="457.92" y="208.04" width="1" height="1" fill="#33f"/>
<rect x="450.50" y="204.51" width="1" height="1" fill="#33f"/>
<rect x="446.45" y="211.09" width="1" height="1" fill="#33f"/>
<rect x="448.73" y="220.48" width="1" height="1" fill="#33f"/>
<rect x="436.42" y="225.18" width="1" height="1" fill="#33f"/>
<rect x="426.49" y="234.13" width="1" height="1" fill="#33f"/>
<rect x="425.56" y="229.42" width="1" height="1" fill="#33f"/>
<rect x="435.14" y="231.34" width="1" height="1" fill="#33f"/>
<rect x="437.86" y="217.88" width="1" height="1" fill="#33f"/>
<rect x="453.99" y="222.74" width="1" height="1" fill="#33f"/>
<rect x="440.45" y="219.59" width="1" height="1" fill="#33f"/>
<rect x="442.67" y="204.27" width="1" height="1" fill="#33f"/>
<rect x="433.74" y="225.65" width="1" height="1" fill="#33f"/>
<rect x="457.11" y="205.70" width="1" height="1" fill="#33f"/>
<rect x="466.76" y="199.21" width="1" height="1" fill="#33f"/>
<rect x="470.69" y="181.09" width="1" height="1" fill="#33f"/>
<rect x="470.82" y="192.08" width="1" height="1" fill="#33f"/>
<rect x="471.04" y="187.46" width="1" height="1" fill="#33f"/>
<rect x="433.88" y="228.09" width="1" height="1" fill="#33f"/>
<rect x="439.19" y="223.34" width="1" height="1" fill="#33f"/>
<rect x="438.51" y="226.64" width="1" height="1" fill="#33f"/>
<rect x="439.64" y="217.19" width="1" height="1" fill="#33f"/>
<rect x="436.18" y="222.07" width="1" height="1" fill="#33f"/>
<rect x="431.74" y="233.18" width="1" height="1" fill="#33f"/>
<rect x="428.50" y="231.82" width="1" height="1" fill="#33f"/>
<rect x="427.22" y="238.31" width="1" height="1" fill="#33f"/>
<rect x="443.62" y="211.81" width="1" height="1" fill="#33f"/>
<rect x="453.10" y="208.88" width="1" height="1" fill="#33f"/>
<rect x="453.52" y="220.64" width="1" height="1" fill="#33f"/>
<rect x="459.10" y="201.31" width="1" height="1" fill="#33f"/>
<rect x="461.58" y="206.21" width="1" height="1" fill="#33f"/>
<rect x="460.33" y="195.52" width="1" height="1" fill="#33f"/>
<rect x="465.74" y="189.35" width="1" height="1" fill="#33f"/>
<rect x="459.69" y="208.33" width="1" height="1" fill="#33f"/>
<rect x="459.29" y="200.50" width="1" height="1" fill="#33f"/>
<rect x="458.43" y="195.43" width="1" height="1" fill="#33f"/>
<rect x="444.80" y="215.26" width="1" height="1" fill="#33f"/>
<rect x="442.67" y="220.51" width="1" height="1" fill="#33f"/>
<rect x="437.04" y="226.94" width="1" height="1" fill="#33f"/>
<rect x="426.74" y="238.43" width="1" height="1" fill="#33f"/>
<rect x="393.52" y="266.35" width="1" height="1" fill="#33f"/>
<rect x="398.79" y="261.10" width="1" height="1" fill="#33f"/>
<rect x="406.24" y="257.16" width="1" height="1" fill="#33f"/>
<rect x="407.18" y="256.15" width="1" height="1" fill="#33f"/>
<rect x="413.54" y="245.54" width="1" height="1" fill="#33f"/>
<rect x="415.38" y="246.00" width="1" height="1" fill="#33f"/>
<rect x="419.53" y="242.07" width="1" height="1" fill="#33f"/>
<rect x="401.99" y="260.16" width="1" height="1" fill="#33f"/>
<rect x="396.95" y="266.31" width="1" height="1" fill="#33f"/>
<rect x="391.26" y="268.04" width="1" height="1" fill="#33f"/>
<rect x="392.77" y="271.68" width="1" height="1" fill="#33f"/>
<rect x="394.35" y="268.66" width="1" height="1" fill="#33f"/>
<rect x="395.19" y="264.98" width="1" height="1" fill="#33f"/>
<rect x="396.94" y="275.54" width="1" height="1" fill="#33f"/>
<rect x="398.07" y="261.79" width="1" height="1" fill="#33f"/>
<rect x="413.60" y="240.28" width="1" height="1" fill="#33f"/>
<rect x="402.22" y="266.46" width="1" height="1" fill="#33f"/>
<rect x="400.86" y="262.69" width="1" height="1" fill="#33f"/>
<rect x="395.52" y="270.17" width="1" height="1" fill="#33f"/>
<rect x="401.68" y="258.79" width="1" height="1" fill="#33f"/>
<rect x="395.51" y="266.91" width="1" height="1" fill="#33f"/>
<rect x="393.65" y="260.97" width="1" height="1" fill="#33f"/>
<rect x="390.71" y="272.51" width="1" height="1" fill="#33f"/>
<rect x="389.86" y="269.53" width="1" height="1" fill="#33f"/>
<rect x="397.72" y="262.75" width="1" height="1" fill="#33f"/>
<rect x="405.37" y="249.54" width="1" height="1" fill="#33f"/>
<rect x="415.85" y="239.84" width="1" height="1" fill="#33f"/>
<rect x="419.82" y="242.51" width="1" height="1" fill="#33f"/>
<rect x="413.09" y="237.66" width="1" height="1" fill="#33f"/>
<rect x="409.18" y="254.23" width="1" height="1" fill="#33f"/>
<rect x="404.19" y="259.86" width="1" height="1" fill="#33f"/>
<rect x="403.72" y="262.13" width="1" height="1" fill="#33f"/>
<rect x="399.94" y="260.20" width="1" height="1" fill="#33f"/>
<rect x="403.97" y="260.44" width="1" height="1" fill="#33f"/>
<rect x="396.36" y="260.42" width="1" height="1" fill="#33f"/>
<rect x="396.62" y="268.41" width="1" height="1" fill="#33f"/>
<rect x="395.87" y="262.08" width="1" height="1" fill="#33f"/>
<rect x="394.81" y="262.19" width="1" height="1" fill="#33f"/>
<rect x="389.37" y="264.31" width="1" height="1" fill="#33f"/>
<rect x="396.86" y="260.36" width="1" height="1" fill="#33f"/>
<rect x="403.81" y="258.70" width="1" height="1" fill="#33f"/>
<rect x="406.56" y="251.67" width="1" height="1" fill="#33f"/>
<rect x="411.65" y="251.84" width="1" height="1" fill="#33f"/>
<rect x="415.92" y="249.95" width="1" height="1" fill="#33f"/>
<rect x="412.74" y="246.33" width="1" height="1" fill="#33f"/>
<rect x="408.23" y="255.25" width="1" height="1" fill="#33f"/>
<rect x="478.84" y="172.80" width="1" height="1" fill="#33f"/>
<rect x="464.19" y="199.75" width="1" height="1" fill="#33f"/>
<rect x="451.30" y="211.19" width="1" height="1" fill="#33f"/>
<rect x="441.50" y="221.97" width="1" height="1" fill="#33f"/>
<rect x="428.05" y="240.66" width="1" height="1" fill="#33f"/>
<rect x="423.74" y="243.69" width="1" height="1" fill="#33f"/>
<rect x="439.89" y="224.97" width="1" height="1" fill="#33f"/>
<rect x="439.25" y="215.57" width="1" height="1" fill="#33f"/>
<rect x="456.02" y="192.78" width="1" height="1" fill="#33f"/>
<rect x="464.65" y="197.78" width="1" height="1" fill="#33f"/>
<rect x="450.67" y="211.84" width="1" height="1" fill="#33f"/>
<rect x="447.14" y="215.57" width="1" height="1" fill="#33f"/>
<rect x="406.25" y="254.61" width="1" height="1" fill="#33f"/>
<rect x="420.64" y="237.95" width="1" height="1" fill="#33f"/>
<rect x="415.30" y="256.93" width="1" height="1" fill="#33f"/>
<rect x="408.38" y="262.19" width="1" height="1" fill="#33f"/>
<rect x="394.94" y="271.17" width="1" height="1" fill="#33f"/>
<rect x="393.27" y="269.78" width="1" height="1" fill="#33f"/>
<rect x="391.89" y="269.37" width="1" height="1" fill="#33f"/>
<rect x="394.81" y="266.99" width="1" height="1" fill="#33f"/>
<rect x="420.44" y="241.96" width="1" height="1" fill="#33f"/>
<rect x="409.99" y="251.85" width="1" height="1" fill="#33f"/>
<rect x="398.78" y="262.55" width="1" height="1" fill="#33f"/>
<rect x="394.70" y="268.19" width="1" height="1" fill="#33f"/>
<rect x="391.52" y="263.79" width="1" height="1" fill="#33f"/>
<rect x="412.68" y="245.06" width="1" height="1" fill="#33f"/>
<rect x="416.83" y="250.64" width="1" height="1" fill="#33f"/>
<rect x="419.06" y="239.25" width="1" height="1" fill="#33f"/>
<rect x="411.69" y="243.14" width="1" height="1" fill="#33f"/>
<rect x="407.11" y="253.12" width="1" height="1" fill="#33f"/>
<rect x="438.60" y="226.97" width="1" height="1" fill="#33f"/>
<rect x="446.73" y="215.67" width="1" height="1" fill="#33f"/>
<rect x="444.32" y="219.50" width="1" height="1" fill="#33f"/>
<rect x="453.94" y="195.32" width="1" height="1" fill="#33f"/>
<rect x="432.91" y="224.36" width="1" height="1" fill="#33f"/>
<rect x="435.23" y="224.18" width="1" height="1" fill="#33f"/>
<rect x="440.05" y="222.80" width="1" height="1" fill="#33f"/>
<rect x="442.84" y="214.80" width="1" height="1" fill="#33f"/>
<rect x="458.10" y="194.28" width="1" height="1" fill="#33f"/>
<rect x="431.34" y="234.25" width="1" height="1" fill="#33f"/>
<rect x="463.14" y="198.81" width="1" height="1" fill="#33f"/>
<rect x="437.57" y="218.66" width="1" height="1" fill="#33f"/>
<rect x="432.52" y="229.26" width="1" height="1" fill="#33f"/>
<rect x="429.78" y="225.44" width="1" height="1" fill="#33f"/>
<rect x="429.88" y="228.53" width="1" height="1" fill="#33f"/>
<rect x="432.25" y="236.23" width="1" height="1" fill="#33f"/>
<rect x="449.12" y="201.55" width="1" height="1" fill="#33f"/>
<rect x="468.46" y="196.03" width="1" height="1" fill="#33f"/>
<rect x="459.46" y="194.57" width="1" height="1" fill="#33f"/>
<rect x="448.47" y="213.96" width="1" height="1" fill="#33f"/>
<rect x="439.69" y="225.25" width="1" height="1" fill="#33f"/>
<rect x="430.70" y="229.87" width="1" height="1" fill="#33f"/>
<rect x="414.83" y="261.34" width="1" height="1" fill="#33f"/>
<rect x="413.70" y="245.27" width="1" height="1" fill="#33f"/>
<rect x="405.61" y="259.32" width="1" height="1" fill="#33f"/>
<rect x="395.55" y="270.14" width="1" height="1" fill="#33f"/>
<rect x="390.82" y="280.94" width="1" height="1" fill="#33f"/>
<rect x="415.12" y="253.42" width="1" height="1" fill="#33f"/>
<rect x="402.18" y="256.35" width="1" height="1" fill="#33f"/>
<rect x="400.32" y="272.27" width="1" height="1" fill="#33f"/>
<rect x="391.07" y="275.68" width="1" height="1" fill="#33f"/>
<rect x="394.45" y="268.53" width="1" height="1" fill="#33f"/>
<rect x="396.94" y="264.53" width="1" height="1" fill="#33f"/>
<rect x="423.11" y="240.61" width="1" height="1" fill="#33f"/>
<rect x="402.58" y="256.47" width="1" height="1" fill="#33f"/>
<rect x="403.08" y="265.80" width="1" height="1" fill="#33f"/>
<rect x="419.85" y="240.85" width="1" height="1" fill="#33f"/>
<rect x="418.66" y="247.82" width="1" height="1" fill="#33f"/>
<rect x="413.36" y="251.92" width="1" height="1" fill="#33f"/>
<rect x="414.27" y="253.50" width="1" height="1" fill="#33f"/>
<rect x="393.71" y="271.18" width="1" height="1" fill="#33f"/>
<rect x="391.78" y="261.05" width="1" height="1" fill="#33f"/>
<rect x="396.01" y="260.22" width="1" height="1" fill="#33f"/>
<rect x="406.19" y="260.78" width="1" height="1" fill="#33f"/>
<rect x="406.27" y="254.45" width="1" height="1" fill="#33f"/>
<rect x="420.55" y="233.30" width="1" height="1" fill="#33f"/>
<rect x="414.19" y="251.19" width="1" height="1" fill="#33f"/>
<rect x="414.50" y="248.50" width="1" height="1" fill="#33f"/>
<rect x="402.87" y="263.14" width="1" height="1" fill="#33f"/>
<rect x="400.00" y="267.97" width="1" height="1" fill="#33f"/>
<rect x="396.28" y="257.77" width="1" height="1" fill="#33f"/>
<rect x="431.16" y="223.90" width="1" height="1" fill="#33f"/>
<rect x="444.53" y="207.49" width="1" height="1" fill="#33f"/>
<rect x="457.32" y="198.52" width="1" height="1" fill="#33f"/>
<rect x="459.23" y="197.50" width="1" height="1" fill="#33f"/>
<rect x="460.24" y="206.79" width="1" height="1" fill="#33f"/>
<rect x="454.79" y="210.23" width="1" height="1" fill="#33f"/>
<rect x="452.33" y="202.47" width="1" height="1" fill="#33f"/>
<rect x="446.33" y="202.27" width="1" height="1" fill="#33f"/>
<rect x="434.92" y="229.67" width="1" height="1" fill="#33f"/>
<rect x="432.29" y="234.08" width="1" height="1" fill="#33f"/>
<rect x="433.20" y="226.30" width="1" height="1" fill="#33f"/>
<rect x="441.23" y="220.18" width="1" height="1" fill="#33f"/>
<rect x="434.21" y="219.99" width="1" height="1" fill="#33f"/>
<rect x="458.63" y="209.69" width="1" height="1" fill="#33f"/>
<rect x="461.24" y="201.79" width="1" height="1" fill="#33f"/>
<rect x="457.51" y="200.17" width="1" height="1" fill="#33f"/>
<rect x="462.03" y="198.95" width="1" height="1" fill="#33f"/>
<rect x="458.65" y="192.13" width="1" height="1" fill="#33f"/>
<rect x="447.06" y="205.92" width="1" height="1" fill="#33f"/>
<rect x="436.42" y="217.30" width="1" height="1" fill="#33f"/>
<rect x="429.20" y="228.71" width="1" height="1" fill="#33f"/>
<rect x="426.42" y="234.26" width="1" height="1" fill="#33f"/>
<rect x="454.27" y="213.00" width="1" height="1" fill="#33f"/>
<rect x="468.87" y="196.90" width="1" height="1" fill="#33f"/>
<rect x="469.61" y="191.07" width="1" height="1" fill="#33f"/>
<rect x="433.62" y="226.56" width="1" height="1" fill="#33f"/>
<rect x="440.25" y="214.42" width="1" height="1" fill="#33f"/>
<rect x="437.68" y="230.27" width="1" height="1" fill="#33f"/>
<rect x="437.70" y="215.72" width="1" height="1" fill="#33f"/>
<rect x="441.76" y="221.17" width="1" height="1" fill="#33f"/>
<rect x="450.34" y="207.43" width="1" height="1" fill="#33f"/>
<rect x="455.56" y="195.15" width="1" height="1" fill="#33f"/>
<rect x="459.26" y="204.27" width="1" height="1" fill="#33f"/>
<rect x="460.39" y="206.41" width="1" height="1" fill="#33f"/>
<rect x="459.66" y="202.73" width="1" height="1" fill="#33f"/>
<rect x="441.74" y="222.10" width="1" height="1" fill="#33f"/>
<rect x="406.13" y="247.36" width="1" height="1" fill="#33f"/>
<rect x="412.52" y="254.74" width="1" height="1" fill="#33f"/>
<rect x="400.02" y="267.88" width="1" height="1" fill="#33f"/>
<rect x="392.43" y="262.68" width="1" height="1" fill="#33f"/>
<rect x="394.14" y="267.41" width="1" height="1" fill="#33f"/>
<rect x="394.81" y="272.79" width="1" height="1" fill="#33f"/>
<rect x="399.00" y="261.45" width="1" height="1" fill="#33f"/>
<rect x="401.49" y="262.79" width="1" height="1" fill="#33f"/>
<rect x="400.42" y="259.72" width="1" height="1" fill="#33f"/>
<rect x="396.82" y="261.81" width="1" height="1" fill="#33f"/>
<rect x="399.68" y="258.34" width="1" height="1" fill="#33f"/>
<rect x="394.75" y="269.94" width="1" height="1" fill="#33f"/>
<rect x="391.23" y="267.14" width="1" height="1" fill="#33f"/>
<rect x="407.09" y="261.33" width="1" height="1" fill="#33f"/>
<rect x="414.31" y="257.02" width="1" height="1" fill="#33f"/>
<rect x="422.36" y="241.84" width="1" height="1" fill="#33f"/>
<rect x="415.93" y="245.85" width="1" height="1" fill="#33f"/>
<rect x="402.32" y="253.84" width="1" height="1" fill="#33f"/>
<rect x="397.54" y="264.53" width="1" height="1" fill="#33f"/>
<rect x="394.00" y="266.30" width="1" height="1" fill="#33f"/>
<rect x="403.46" y="270.75" width="1" height="1" fill="#33f"/>
<rect x="412.18" y="255.81" width="1" height="1" fill="#33f"/>
<rect x="415.90" y="245.04" width="1" height="1" fill="#33f"/>
<rect x="414.70" y="253.53" width="1" height="1" fill="#33f"/>
<rect x="415.50" y="209.60" width="1" height="1" fill="#33f"/>
<rect x="415.30" y="211.80" width="1" height="1" fill="#33f"/>
<rect x="415.80" y="217.80" width="1" height="1" fill="#33f"/>
<rect x="419.90" y="216.20" width="1" height="1" fill="#33f"/>
<rect x="423.00" y="216.20" width="1" height="1" fill="#33f"/>
<rect x="419.60" y="219.90" width="1" height="1" fill="#33f"/>
<rect x="428.90" y="218.00" width="1" height="1" fill="#33f"/>
<rect x="428.50" y="222.30" width="1" height="1" fill="#33f"/>
<rect x="432.80" y="210.90" width="1" height="1" fill="#33f"/>
<rect x="434.10" y="207.90" width="1" height="1" fill="#33f"/>
<rect x="434.10" y="218.90" width="1" height="1" fill="#33f"/>
<rect x="435.90" y="214.10" width="1" height="1" fill="#33f"/>
<rect x="437.80" y="214.90" width="1" height="1" fill="#33f"/>
<rect x="370.10" y="279.80" width="1" height="1" fill="#33f"/>
<rect x="375.00" y="282.50" width="1" height="1" fill="#33f"/>
<rect x="380.00" y="273.90" width="1" height="1" fill="#33f"/>
<rect x="391.40" y="278.60" width="1" height="1" fill="#33f"/>
<rect x="396.30" y="277.20" width="1" height="1" fill="#33f"/>
<rect x="407.00" y="267.70" width="1" height="1" fill="#33f"/>
<rect x="369.55" y="282.45" width="1.1" height="1.1" fill="#222"/>
<rect x="374.95" y="279.95" width="1.1" height="1.1" fill="#222"/>
<rect x="379.95" y="278.55" width="1.1" height="1.1" fill="#222"/>
<rect x="379.95" y="277.15" width="1.1" height="1.1" fill="#222"/>
<path d="M385.50,275.60 L390.40,273.40 L395.40,267.00 L401.10,263.50 L405.40,260.00 L408.20,255.70 L413.40,250.80 L418.80,245.40 L423.20,239.00 L429.60,231.40 L436.10,226.00 L442.40,216.80 L456.40,204.90 L460.80,201.60 L471.60,190.80" fill="none" stroke="#000" stroke-width="1.0"/>
<rect x="479.65" y="171.45" width="1.1" height="1.1" fill="#222"/>
<rect x="479.65" y="188.15" width="1.1" height="1.1" fill="#222"/>
<rect x="473.95" y="188.45" width="1.1" height="1.1" fill="#222"/>
</g>
<rect x="213.20" y="124.20" width="33.6" height="19.7" fill="#fff" stroke="#c8c8c8" stroke-width="1"/>
<line x1="215.00" y1="129.70" x2="227.20" y2="129.70" stroke="#999" stroke-width="0.8"/>
<text transform="translate(228.20,129.90) scale(0.82,1)" text-anchor="start" dominant-baseline="central" font-size="9.0">MOD</text>
<rect x="220.10" y="137.00" width="2" height="2" fill="#f00"/>
<text transform="translate(228.20,138.20) scale(0.82,1)" text-anchor="start" dominant-baseline="central" font-size="9.0">OBS</text>
<rect x="303.20" y="277.80" width="33.6" height="19.7" fill="#fff" stroke="#c8c8c8" stroke-width="1"/>
<line x1="305.00" y1="283.30" x2="317.20" y2="283.30" stroke="#999" stroke-width="0.8"/>
<text transform="translate(318.20,283.50) scale(0.82,1)" text-anchor="start" dominant-baseline="central" font-size="9.0">MOD</text>
<rect x="310.10" y="290.60" width="2" height="2" fill="#00f"/>
<text transform="translate(318.20,291.80) scale(0.82,1)" text-anchor="start" dominant-baseline="central" font-size="9.0">OBS</text>
</svg></body></html>
